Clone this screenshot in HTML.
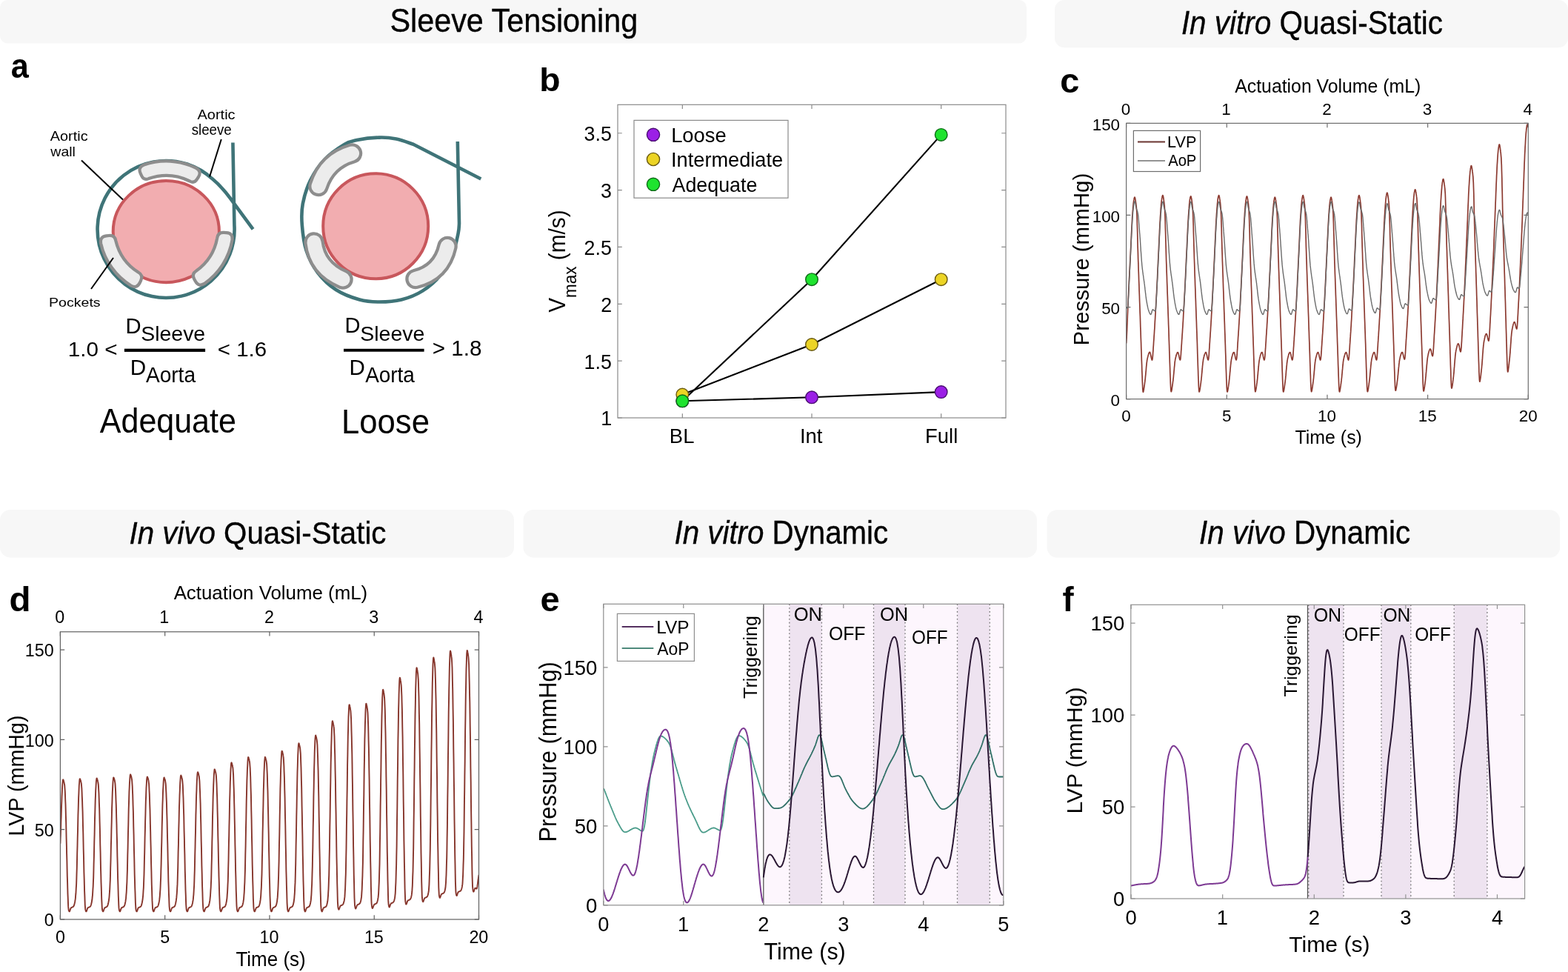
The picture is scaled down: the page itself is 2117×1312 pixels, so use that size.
<!DOCTYPE html>
<html><head><meta charset="utf-8"><title>Figure</title>
<style>
html,body{margin:0;padding:0;background:#fff;width:2117px;height:1312px;overflow:hidden}
svg{display:block}
text{font-family:'Liberation Sans', Arial, Helvetica, sans-serif}
</style></head><body>
<svg width="2117" height="1312" viewBox="0 0 2117 1312">
<rect width="2117" height="1312" fill="#fff"/>
<rect x="0" y="0" width="1386" height="58.5" rx="10" fill="#f7f7f7"/>
<rect x="1424" y="0" width="693" height="64.3" rx="13" fill="#f7f7f7"/>
<rect x="0" y="688" width="694" height="64.7" rx="14" fill="#f7f7f7"/>
<rect x="706.5" y="688" width="693.5" height="64.7" rx="14" fill="#f7f7f7"/>
<rect x="1413.5" y="688.2" width="692.7" height="64.6" rx="14" fill="#f7f7f7"/>
<text x="526.44" y="42.50" font-size="43.90" textLength="334.80" lengthAdjust="spacingAndGlyphs" stroke="#000" stroke-width="0.35">Sleeve Tensioning</text>
<text x="1594.88" y="45.80" font-size="43.46" textLength="353.05" lengthAdjust="spacingAndGlyphs" stroke="#000" stroke-width="0.35"><tspan font-style="italic">In vitro</tspan><tspan> Quasi-Static</tspan></text>
<text x="174.49" y="733.90" font-size="43.17" textLength="347.00" lengthAdjust="spacingAndGlyphs" stroke="#000" stroke-width="0.35"><tspan font-style="italic">In vivo</tspan><tspan> Quasi-Static</tspan></text>
<text x="910.59" y="734.20" font-size="43.46" textLength="288.56" lengthAdjust="spacingAndGlyphs" stroke="#000" stroke-width="0.35"><tspan font-style="italic">In vitro</tspan><tspan> Dynamic</tspan></text>
<text x="1618.98" y="734.20" font-size="43.46" textLength="285.14" lengthAdjust="spacingAndGlyphs" stroke="#000" stroke-width="0.35"><tspan font-style="italic">In vivo</tspan><tspan> Dynamic</tspan></text>
<text transform="translate(14.65,105.3) scale(0.93,1)" x="0" y="0" font-size="46.5" font-weight="bold">a</text>
<text transform="translate(728.2,122.85) scale(1.03,1)" x="0" y="0" font-size="45" font-weight="bold">b</text>
<text transform="translate(1431.2,125.3) scale(1.0,1)" x="0" y="0" font-size="46.9" font-weight="bold">c</text>
<text transform="translate(12.4,825.1) scale(1.04,1)" x="0" y="0" font-size="45.7" font-weight="bold">d</text>
<text transform="translate(729.5,825.3) scale(1.0,1)" x="0" y="0" font-size="47" font-weight="bold">e</text>
<text transform="translate(1434.5,824.8) scale(1.0,1)" x="0" y="0" font-size="45.5" font-weight="bold">f</text>
<path d="M314.4,192.5 L316.4,303.8 A92.5,92.5 0 1 1 286.3,241.1 Q299,251.6 310.3,266.9 L341.6,309.3" fill="none" stroke="#3f7478" stroke-width="4.6" stroke-linejoin="round"/>
<ellipse cx="224.3" cy="312.6" rx="71.6" ry="68.6" fill="#f2adb0" stroke="#c8575c" stroke-width="4"/>
<path d="M194.3,222.6 A91,91 0 0 1 264.8,226.9 Q272.6,231.3 267.9,239.0 L266.0,241.9 Q262.3,247.9 256.2,244.5 A71.5,71.5 0 0 0 200.7,241.1 Q194.2,243.7 191.2,237.4 L189.7,234.2 Q185.9,226.0 194.3,222.6 Z" fill="#ececec" stroke="#8d8d8d" stroke-width="4.2" stroke-linejoin="round"/>
<path d="M176.8,385.5 A90.5,90.5 0 0 1 136.1,328.4 Q134.6,319.5 143.5,318.4 L147.0,318.0 Q154.9,317.0 156.3,324.9 A70.0,70.0 0 0 0 186.7,367.5 Q193.7,371.4 190.2,378.6 L188.7,381.8 Q184.7,389.8 176.8,385.5 Z" fill="#ececec" stroke="#8d8d8d" stroke-width="4.2" stroke-linejoin="round"/>
<path d="M313.6,323.7 A90.5,90.5 0 0 1 275.9,382.9 Q268.3,387.7 263.9,379.8 L262.2,376.7 Q258.3,369.7 265.1,365.5 A70.0,70.0 0 0 0 293.2,321.3 Q294.2,313.4 302.2,313.9 L305.7,314.2 Q314.7,314.8 313.6,323.7 Z" fill="#ececec" stroke="#8d8d8d" stroke-width="4.2" stroke-linejoin="round"/>
<circle cx="507.2" cy="305.3" r="71" fill="#f2adb0" stroke="#c8575c" stroke-width="4"/>
<path d="M649.3,241.5 L558.0,194.8 C554.2,193.6 542.7,189.0 535.0,187.5 C527.3,186.0 520.8,185.3 512.0,185.6 C503.2,185.8 489.8,187.4 482.0,189.0 C474.2,190.6 472.3,190.6 465.0,195.0 C457.7,199.4 445.7,207.4 438.0,215.5 C430.3,223.6 423.9,233.6 419.0,243.5 C414.1,253.4 410.7,265.0 408.8,275.0 C406.9,285.0 407.0,293.0 407.8,303.5 C408.6,314.0 410.0,327.2 413.5,338.0 C417.0,348.8 422.3,359.2 429.0,368.0 C435.7,376.8 444.1,384.9 453.5,391.0 C462.9,397.1 475.8,401.8 485.5,404.5 C495.2,407.2 502.6,407.5 512.0,407.5 C521.4,407.5 532.2,407.0 542.0,404.5 C551.8,402.0 561.8,398.1 570.5,392.6 C579.2,387.1 587.7,380.1 594.5,371.5 C601.3,362.9 607.5,350.4 611.5,341.0 C615.5,331.6 617.2,321.6 618.6,315.0 C620.0,308.4 619.8,303.8 620.0,301.5 L617.8,191" fill="none" stroke="#3f7478" stroke-width="4.6" stroke-linejoin="round"/>
<path d="M430,251.5 Q441,217 475.5,207" fill="none" stroke="#8d8d8d" stroke-width="27.5" stroke-linecap="round"/><path d="M430,251.5 Q441,217 475.5,207" fill="none" stroke="#ececec" stroke-width="19.1" stroke-linecap="round"/>
<path d="M424,327 Q428,362 463,377" fill="none" stroke="#8d8d8d" stroke-width="27.5" stroke-linecap="round"/><path d="M424,327 Q428,362 463,377" fill="none" stroke="#ececec" stroke-width="19.1" stroke-linecap="round"/>
<path d="M561,376.5 Q596,368 604,332.5" fill="none" stroke="#8d8d8d" stroke-width="27.5" stroke-linecap="round"/><path d="M561,376.5 Q596,368 604,332.5" fill="none" stroke="#ececec" stroke-width="19.1" stroke-linecap="round"/>
<line x1="110" y1="216.6" x2="166" y2="269.6" stroke="#000" stroke-width="2"/>
<line x1="298.8" y1="188" x2="283" y2="238.5" stroke="#000" stroke-width="2"/>
<line x1="123" y1="390" x2="153" y2="348" stroke="#000" stroke-width="2"/>
<text x="266.55" y="160.80" font-size="18.17" textLength="51.02" lengthAdjust="spacingAndGlyphs">Aortic</text>
<text x="258.69" y="182.10" font-size="19.34" textLength="54.02" lengthAdjust="spacingAndGlyphs">sleeve</text>
<text x="67.85" y="190.00" font-size="18.90" textLength="50.72" lengthAdjust="spacingAndGlyphs">Aortic</text>
<text x="68.35" y="210.80" font-size="18.51" textLength="33.57" lengthAdjust="spacingAndGlyphs">wall</text>
<text x="66.09" y="414.20" font-size="17.30" textLength="69.59" lengthAdjust="spacingAndGlyphs">Pockets</text>
<text x="91.78" y="481.20" font-size="28.08" textLength="66.79" lengthAdjust="spacingAndGlyphs">1.0 &lt;</text>
<rect x="167.9" y="470.7" width="109.2" height="4.2" fill="#000"/>
<text x="169.49" y="449.80" font-size="28.78" textLength="21.09" lengthAdjust="spacingAndGlyphs">D</text>
<text x="190.22" y="460.10" font-size="28.45">Sleeve</text>
<text x="293.83" y="481.20" font-size="27.79" textLength="66.28" lengthAdjust="spacingAndGlyphs">&lt; 1.6</text>
<text x="175.85" y="506.20" font-size="29.36" textLength="21.45" lengthAdjust="spacingAndGlyphs">D</text>
<text x="196.93" y="516.10" font-size="29.36" textLength="67.11" lengthAdjust="spacingAndGlyphs">Aorta</text>
<text x="134.79" y="584.00" font-size="45.64" textLength="184.12" lengthAdjust="spacingAndGlyphs">Adequate</text>
<rect x="464" y="470.8" width="108.6" height="3.9" fill="#000"/>
<text x="465.41" y="449.40" font-size="29.22" textLength="20.96" lengthAdjust="spacingAndGlyphs">D</text>
<text x="486.32" y="460.10" font-size="28.31" textLength="87.00" lengthAdjust="spacingAndGlyphs">Sleeve</text>
<text x="583.72" y="479.60" font-size="28.80" textLength="66.70" lengthAdjust="spacingAndGlyphs">&gt; 1.8</text>
<text x="471.46" y="505.80" font-size="29.51">D</text>
<text x="493.23" y="516.20" font-size="29.51" textLength="66.61" lengthAdjust="spacingAndGlyphs">Aorta</text>
<text x="461.00" y="584.60" font-size="45.78" textLength="118.95" lengthAdjust="spacingAndGlyphs">Loose</text>
<polyline points="921.3,541.3 1096.0,536.3 1270.7,529.1" fill="none" stroke="#000" stroke-width="2.1"/>
<polyline points="921.3,532.5 1096.0,465.0 1270.7,377.2" fill="none" stroke="#000" stroke-width="2.1"/>
<polyline points="921.3,541.3 1096.0,377.2 1270.7,181.9" fill="none" stroke="#000" stroke-width="2.1"/>
<circle cx="921.3" cy="541.3" r="8.3" fill="#9b1fe6" stroke="#4a0f70" stroke-width="1.4"/>
<circle cx="1096.0" cy="536.3" r="8.3" fill="#9b1fe6" stroke="#4a0f70" stroke-width="1.4"/>
<circle cx="1270.7" cy="529.1" r="8.3" fill="#9b1fe6" stroke="#4a0f70" stroke-width="1.4"/>
<circle cx="921.3" cy="532.5" r="8.3" fill="#ecd425" stroke="#6a5a10" stroke-width="1.4"/>
<circle cx="1096.0" cy="465.0" r="8.3" fill="#ecd425" stroke="#6a5a10" stroke-width="1.4"/>
<circle cx="1270.7" cy="377.2" r="8.3" fill="#ecd425" stroke="#6a5a10" stroke-width="1.4"/>
<circle cx="921.3" cy="541.3" r="8.3" fill="#1fe32f" stroke="#0f6a18" stroke-width="1.4"/>
<circle cx="1096.0" cy="377.2" r="8.3" fill="#1fe32f" stroke="#0f6a18" stroke-width="1.4"/>
<circle cx="1270.7" cy="181.9" r="8.3" fill="#1fe32f" stroke="#0f6a18" stroke-width="1.4"/>
<path d="M921.33,564.00V558.20 M921.33,141.30V147.10 M1096.00,564.00V558.20 M1096.00,141.30V147.10 M1270.67,564.00V558.20 M1270.67,141.30V147.10 M834.00,564.00H839.80 M1358.00,564.00H1352.20 M834.00,487.15H839.80 M1358.00,487.15H1352.20 M834.00,410.29H839.80 M1358.00,410.29H1352.20 M834.00,333.44H839.80 M1358.00,333.44H1352.20 M834.00,256.58H839.80 M1358.00,256.58H1352.20 M834.00,179.73H839.80 M1358.00,179.73H1352.20" stroke="#8a8a8a" stroke-width="1.2" fill="none"/>
<rect x="834.00" y="141.30" width="524.00" height="422.70" fill="none" stroke="#8a8a8a" stroke-width="1.2"/>
<text x="811.20" y="574.42" font-size="26.80">1</text>
<text x="788.62" y="497.56" font-size="26.80">1.5</text>
<text x="811.27" y="420.71" font-size="26.80">2</text>
<text x="788.62" y="343.86" font-size="26.80">2.5</text>
<text x="811.06" y="267.00" font-size="26.80">3</text>
<text x="788.62" y="190.15" font-size="26.80">3.5</text>
<text x="903.87" y="597.66" font-size="27.40">BL</text>
<text x="1079.89" y="597.66" font-size="27.40">Int</text>
<text x="1249.10" y="597.66" font-size="27.40">Full</text>
<rect x="856" y="162.4" width="208" height="104.8" fill="#fff" stroke="#8a8a8a" stroke-width="1.2"/>
<circle cx="882" cy="181.8" r="8.6" fill="#9b1fe6" stroke="#4a0f70" stroke-width="1.4"/>
<text x="906.14" y="191.70" font-size="28.05" textLength="74.58" lengthAdjust="spacingAndGlyphs">Loose</text>
<circle cx="882" cy="215.0" r="8.6" fill="#ecd425" stroke="#6a5a10" stroke-width="1.4"/>
<text x="906.09" y="225.00" font-size="27.47" textLength="151.00" lengthAdjust="spacingAndGlyphs">Intermediate</text>
<circle cx="882" cy="248.8" r="8.6" fill="#1fe32f" stroke="#0f6a18" stroke-width="1.4"/>
<text x="907.53" y="258.70" font-size="28.05" textLength="114.86" lengthAdjust="spacingAndGlyphs">Adequate</text>
<text transform="translate(763.1,421.8) rotate(-90)" x="0" y="0" font-size="30.8" textLength="138.4" lengthAdjust="spacingAndGlyphs">V<tspan font-size="23.3" dy="15.1">max</tspan><tspan dy="-15.1"> (m/s)</tspan></text>
<clipPath id="clc"><rect x="1520.6" y="165.4" width="542.7" height="374.2"/></clipPath>
<path d="M1520.6,463.4L1520.8,460.5 1521.1,456.3 1521.3,451.2 1521.6,445.6 1521.8,439.5 1522.1,433.2 1522.3,426.8 1522.6,420.4 1522.8,414.2 1523.1,408.3 1523.3,402.8 1523.6,397.4 1523.8,392.2 1524.1,387.1 1524.3,382.1 1524.5,377.1 1524.8,372.2 1525.0,367.3 1525.3,362.4 1525.5,357.5 1525.8,352.6 1526.0,347.7 1526.3,342.7 1526.5,337.7 1526.8,332.5 1527.0,327.2 1527.3,321.8 1527.5,316.5 1527.8,311.2 1528.0,306.2 1528.3,301.6 1528.5,297.3 1528.7,293.3 1529.0,289.6 1529.2,286.1 1529.5,282.9 1529.7,279.8 1530.0,277.1 1530.2,274.7 1530.5,272.6 1530.7,270.9 1531.0,269.4 1531.2,268.1 1531.5,267.1 1531.7,266.4 1532.0,266.1 1532.2,266.4 1532.4,267.1 1532.7,268.2 1532.9,269.6 1533.2,271.2 1533.4,272.8 1533.7,274.5 1533.9,276.4 1534.2,278.6 1534.4,281.3 1534.7,284.8 1534.9,289.8 1535.2,296.5 1535.4,304.6 1535.7,313.8 1535.9,323.2 1536.1,332.4 1536.4,340.9 1536.6,348.9 1536.9,356.5 1537.1,363.8 1537.4,371.1 1537.6,378.2 1537.9,385.3 1538.1,392.4 1538.4,399.5 1538.6,406.6 1538.9,413.7 1539.1,420.7 1539.4,427.8 1539.6,434.8 1539.8,441.8 1540.1,448.8 1540.3,455.9 1540.6,463.1 1540.8,470.4 1541.1,477.8 1541.3,485.4 1541.6,492.9 1541.8,500.2 1542.1,507.3 1542.3,514.2 1542.6,520.4 1542.8,525.2 1543.1,528.1 1543.3,529.2 1543.6,529.1 1543.8,528.3 1544.0,527.1 1544.3,525.8 1544.5,524.2 1544.8,522.5 1545.0,520.7 1545.3,518.9 1545.5,517.1 1545.8,515.2 1546.0,513.1 1546.3,510.8 1546.5,508.3 1546.8,505.7 1547.0,502.9 1547.3,500.1 1547.5,497.3 1547.7,494.6 1548.0,492.1 1548.2,489.8 1548.5,487.8 1548.7,486.1 1549.0,484.7 1549.2,483.5 1549.5,482.4 1549.7,481.4 1550.0,480.4 1550.2,479.5 1550.5,478.7 1550.7,477.9 1551.0,477.2 1551.2,476.6 1551.4,476.1 1551.7,475.7 1551.9,475.4 1552.2,475.3 1552.4,475.3 1552.7,475.7 1552.9,476.3 1553.2,477.1 1553.4,478.2 1553.7,479.3 1553.9,480.6 1554.2,481.8 1554.4,483.0 1554.7,484.1 1554.9,485.0 1555.2,485.7 1555.4,486.0 1555.6,485.7 1555.9,484.7 1556.1,482.8 1556.4,480.2 1556.6,476.9 1556.9,473.3 1557.1,469.4 1557.4,465.4 1557.6,461.6 1557.9,457.9 1558.1,454.2 1558.4,450.4 1558.6,446.6 1558.9,442.7 1559.1,438.7 1559.3,434.6 1559.6,430.4 1559.8,426.1 1560.1,421.8 1560.3,417.4 1560.6,412.9 1560.8,408.5 1561.1,403.9 1561.3,399.3 1561.6,394.5 1561.8,389.7 1562.1,384.8 1562.3,379.7 1562.6,374.7 1562.8,369.5 1563.0,364.3 1563.3,359.1 1563.5,354.0 1563.8,348.8 1564.0,343.6 1564.3,338.4 1564.5,333.2 1564.8,327.9 1565.0,322.4 1565.3,317.0 1565.5,311.7 1565.8,306.5 1566.0,301.6 1566.3,297.1 1566.5,292.9 1566.8,289.1 1567.0,285.5 1567.2,282.1 1567.5,278.9 1567.7,275.9 1568.0,273.3 1568.2,271.1 1568.5,269.2 1568.7,267.6 1569.0,266.2 1569.2,265.1 1569.5,264.2 1569.7,263.7 1570.0,263.7 1570.2,264.2 1570.5,265.2 1570.7,266.5 1570.9,268.0 1571.2,269.6 1571.4,271.3 1571.7,273.1 1571.9,275.1 1572.2,277.6 1572.4,280.7 1572.7,285.0 1572.9,290.9 1573.2,298.5 1573.4,307.4 1573.7,316.8 1573.9,326.3 1574.2,335.2 1574.4,343.4 1574.6,351.2 1574.9,358.7 1575.1,366.1 1575.4,373.3 1575.6,380.5 1575.9,387.6 1576.1,394.7 1576.4,401.9 1576.6,409.0 1576.9,416.2 1577.1,423.3 1577.4,430.3 1577.6,437.4 1577.9,444.5 1578.1,451.6 1578.3,458.8 1578.6,466.1 1578.8,473.5 1579.1,481.1 1579.3,488.7 1579.6,496.2 1579.8,503.4 1580.1,510.5 1580.3,517.1 1580.6,522.7 1580.8,526.5 1581.1,528.4 1581.3,528.7 1581.6,528.2 1581.8,527.2 1582.1,526.0 1582.3,524.5 1582.5,522.9 1582.8,521.1 1583.0,519.4 1583.3,517.6 1583.5,515.7 1583.8,513.8 1584.0,511.6 1584.3,509.3 1584.5,506.7 1584.8,504.0 1585.0,501.3 1585.3,498.5 1585.5,495.8 1585.8,493.3 1586.0,490.9 1586.2,488.7 1586.5,486.9 1586.7,485.4 1587.0,484.1 1587.2,483.0 1587.5,482.0 1587.7,481.0 1588.0,480.1 1588.2,479.2 1588.5,478.4 1588.7,477.7 1589.0,477.1 1589.2,476.5 1589.5,476.1 1589.7,475.7 1589.9,475.5 1590.2,475.5 1590.4,475.7 1590.7,476.2 1590.9,476.9 1591.2,477.9 1591.4,479.0 1591.7,480.1 1591.9,481.4 1592.2,482.6 1592.4,483.7 1592.7,484.7 1592.9,485.4 1593.2,485.9 1593.4,485.9 1593.7,485.2 1593.9,483.8 1594.1,481.5 1594.4,478.5 1594.6,475.0 1594.9,471.2 1595.1,467.3 1595.4,463.5 1595.6,459.7 1595.9,456.0 1596.1,452.3 1596.4,448.6 1596.6,444.7 1596.9,440.8 1597.1,436.7 1597.4,432.6 1597.6,428.4 1597.8,424.1 1598.1,419.8 1598.3,415.4 1598.6,410.9 1598.8,406.4 1599.1,401.9 1599.3,397.2 1599.6,392.5 1599.8,387.6 1600.1,382.6 1600.3,377.6 1600.6,372.5 1600.8,367.4 1601.1,362.2 1601.3,357.1 1601.5,351.9 1601.8,346.7 1602.0,341.6 1602.3,336.4 1602.5,331.2 1602.8,325.8 1603.0,320.4 1603.3,315.0 1603.5,309.8 1603.8,304.8 1604.0,300.1 1604.3,295.8 1604.5,291.9 1604.8,288.2 1605.0,284.7 1605.3,281.4 1605.5,278.4 1605.7,275.7 1606.0,273.3 1606.2,271.2 1606.5,269.5 1606.7,268.1 1607.0,266.8 1607.2,265.8 1607.5,265.1 1607.7,264.9 1608.0,265.2 1608.2,265.9 1608.5,267.1 1608.7,268.5 1609.0,270.1 1609.2,271.7 1609.4,273.5 1609.7,275.3 1609.9,277.6 1610.2,280.3 1610.4,284.0 1610.7,289.2 1610.9,296.0 1611.2,304.3 1611.4,313.5 1611.7,323.0 1611.9,332.2 1612.2,340.7 1612.4,348.6 1612.7,356.2 1612.9,363.6 1613.1,370.8 1613.4,378.0 1613.6,385.1 1613.9,392.2 1614.1,399.4 1614.4,406.5 1614.6,413.6 1614.9,420.7 1615.1,427.7 1615.4,434.8 1615.6,441.8 1615.9,448.9 1616.1,456.0 1616.4,463.2 1616.6,470.5 1616.8,478.0 1617.1,485.6 1617.3,493.1 1617.6,500.5 1617.8,507.6 1618.1,514.4 1618.3,520.6 1618.6,525.3 1618.8,528.0 1619.1,529.0 1619.3,528.8 1619.6,528.0 1619.8,526.8 1620.1,525.4 1620.3,523.9 1620.6,522.2 1620.8,520.4 1621.0,518.6 1621.3,516.8 1621.5,514.9 1621.8,512.8 1622.0,510.5 1622.3,508.1 1622.5,505.4 1622.8,502.7 1623.0,499.9 1623.3,497.2 1623.5,494.5 1623.8,492.0 1624.0,489.7 1624.3,487.8 1624.5,486.1 1624.7,484.7 1625.0,483.5 1625.2,482.5 1625.5,481.5 1625.7,480.5 1626.0,479.6 1626.2,478.8 1626.5,478.0 1626.7,477.4 1627.0,476.8 1627.2,476.3 1627.5,475.9 1627.7,475.6 1628.0,475.5 1628.2,475.6 1628.4,476.0 1628.7,476.6 1628.9,477.4 1629.2,478.4 1629.4,479.6 1629.7,480.8 1629.9,482.0 1630.2,483.2 1630.4,484.3 1630.7,485.1 1630.9,485.7 1631.2,486.0 1631.4,485.6 1631.7,484.5 1631.9,482.6 1632.2,479.9 1632.4,476.6 1632.6,472.9 1632.9,469.0 1633.1,465.1 1633.4,461.3 1633.6,457.5 1633.9,453.9 1634.1,450.1 1634.4,446.3 1634.6,442.4 1634.9,438.3 1635.1,434.2 1635.4,430.0 1635.6,425.7 1635.9,421.4 1636.1,417.0 1636.3,412.6 1636.6,408.1 1636.8,403.5 1637.1,398.9 1637.3,394.1 1637.6,389.3 1637.8,384.3 1638.1,379.3 1638.3,374.2 1638.6,369.1 1638.8,363.9 1639.1,358.7 1639.3,353.5 1639.6,348.3 1639.8,343.2 1640.0,338.0 1640.3,332.7 1640.5,327.4 1640.8,322.0 1641.0,316.5 1641.3,311.2 1641.5,306.0 1641.8,301.2 1642.0,296.7 1642.3,292.6 1642.5,288.8 1642.8,285.2 1643.0,281.8 1643.3,278.6 1643.5,275.7 1643.8,273.1 1644.0,270.9 1644.2,269.1 1644.5,267.5 1644.7,266.1 1645.0,265.0 1645.2,264.1 1645.5,263.7 1645.7,263.7 1646.0,264.3 1646.2,265.3 1646.5,266.6 1646.7,268.2 1647.0,269.8 1647.2,271.4 1647.5,273.3 1647.7,275.3 1647.9,277.8 1648.2,281.0 1648.4,285.5 1648.7,291.5 1648.9,299.3 1649.2,308.2 1649.4,317.7 1649.7,327.1 1649.9,336.0 1650.2,344.2 1650.4,352.0 1650.7,359.5 1650.9,366.8 1651.2,374.0 1651.4,381.2 1651.6,388.3 1651.9,395.5 1652.1,402.6 1652.4,409.8 1652.6,416.9 1652.9,424.0 1653.1,431.1 1653.4,438.2 1653.6,445.3 1653.9,452.4 1654.1,459.6 1654.4,466.9 1654.6,474.3 1654.9,481.9 1655.1,489.5 1655.3,497.0 1655.6,504.3 1655.8,511.3 1656.1,517.8 1656.3,523.3 1656.6,527.0 1656.8,528.7 1657.1,529.0 1657.3,528.4 1657.6,527.4 1657.8,526.1 1658.1,524.6 1658.3,522.9 1658.6,521.2 1658.8,519.4 1659.1,517.6 1659.3,515.8 1659.5,513.8 1659.8,511.6 1660.0,509.2 1660.3,506.6 1660.5,503.9 1660.8,501.2 1661.0,498.4 1661.3,495.7 1661.5,493.1 1661.8,490.7 1662.0,488.6 1662.3,486.8 1662.5,485.3 1662.8,484.1 1663.0,483.0 1663.2,481.9 1663.5,481.0 1663.7,480.0 1664.0,479.2 1664.2,478.4 1664.5,477.7 1664.7,477.0 1665.0,476.5 1665.2,476.0 1665.5,475.7 1665.7,475.5 1666.0,475.5 1666.2,475.8 1666.5,476.3 1666.7,477.0 1666.9,477.9 1667.2,479.1 1667.4,480.2 1667.7,481.5 1667.9,482.7 1668.2,483.8 1668.4,484.8 1668.7,485.5 1668.9,485.9 1669.2,485.9 1669.4,485.1 1669.7,483.6 1669.9,481.2 1670.2,478.2 1670.4,474.7 1670.7,470.9 1670.9,467.0 1671.1,463.1 1671.4,459.4 1671.6,455.7 1671.9,452.0 1672.1,448.3 1672.4,444.4 1672.6,440.4 1672.9,436.4 1673.1,432.2 1673.4,428.0 1673.6,423.7 1673.9,419.4 1674.1,415.0 1674.4,410.6 1674.6,406.1 1674.8,401.5 1675.1,396.8 1675.3,392.0 1675.6,387.2 1675.8,382.2 1676.1,377.2 1676.3,372.1 1676.6,366.9 1676.8,361.8 1677.1,356.6 1677.3,351.5 1677.6,346.3 1677.8,341.2 1678.1,336.0 1678.3,330.7 1678.5,325.4 1678.8,320.0 1679.0,314.6 1679.3,309.4 1679.5,304.4 1679.8,299.7 1680.0,295.5 1680.3,291.6 1680.5,287.9 1680.8,284.4 1681.0,281.2 1681.3,278.2 1681.5,275.4 1681.8,273.1 1682.0,271.1 1682.3,269.4 1682.5,267.9 1682.7,266.7 1683.0,265.7 1683.2,265.1 1683.5,264.9 1683.7,265.2 1684.0,266.0 1684.2,267.2 1684.5,268.7 1684.7,270.2 1685.0,271.9 1685.2,273.6 1685.5,275.5 1685.7,277.8 1686.0,280.6 1686.2,284.4 1686.4,289.7 1686.7,296.6 1686.9,305.0 1687.2,314.3 1687.4,323.8 1687.7,332.9 1687.9,341.3 1688.2,349.2 1688.4,356.8 1688.7,364.1 1688.9,371.4 1689.2,378.5 1689.4,385.6 1689.7,392.7 1689.9,399.8 1690.1,406.9 1690.4,414.1 1690.6,421.1 1690.9,428.2 1691.1,435.2 1691.4,442.3 1691.6,449.3 1691.9,456.5 1692.1,463.7 1692.4,471.0 1692.6,478.5 1692.9,486.1 1693.1,493.6 1693.4,500.9 1693.6,508.0 1693.8,514.8 1694.1,520.8 1694.3,525.3 1694.6,527.9 1694.8,528.7 1695.1,528.5 1695.3,527.6 1695.6,526.5 1695.8,525.1 1696.1,523.5 1696.3,521.8 1696.6,520.0 1696.8,518.2 1697.1,516.4 1697.3,514.5 1697.6,512.5 1697.8,510.2 1698.0,507.7 1698.3,505.1 1698.5,502.3 1698.8,499.6 1699.0,496.8 1699.3,494.2 1699.5,491.7 1699.8,489.5 1700.0,487.5 1700.3,485.9 1700.5,484.6 1700.8,483.4 1701.0,482.4 1701.3,481.4 1701.5,480.4 1701.7,479.5 1702.0,478.7 1702.2,478.0 1702.5,477.3 1702.7,476.7 1703.0,476.2 1703.2,475.8 1703.5,475.6 1703.7,475.5 1704.0,475.6 1704.2,476.0 1704.5,476.6 1704.7,477.5 1705.0,478.5 1705.2,479.7 1705.4,480.9 1705.7,482.1 1705.9,483.3 1706.2,484.3 1706.4,485.2 1706.7,485.8 1706.9,486.0 1707.2,485.6 1707.4,484.4 1707.7,482.4 1707.9,479.7 1708.2,476.4 1708.4,472.8 1708.7,468.9 1708.9,465.0 1709.2,461.2 1709.4,457.6 1709.6,453.9 1709.9,450.2 1710.1,446.4 1710.4,442.5 1710.6,438.5 1710.9,434.4 1711.1,430.3 1711.4,426.0 1711.6,421.8 1711.9,417.4 1712.1,413.0 1712.4,408.6 1712.6,404.0 1712.9,399.5 1713.1,394.8 1713.3,390.0 1713.6,385.1 1713.8,380.1 1714.1,375.0 1714.3,369.9 1714.6,364.8 1714.8,359.7 1715.1,354.5 1715.3,349.4 1715.6,344.3 1715.8,339.2 1716.1,334.0 1716.3,328.7 1716.6,323.4 1716.8,318.0 1717.0,312.7 1717.3,307.6 1717.5,302.9 1717.8,298.4 1718.0,294.4 1718.3,290.7 1718.5,287.1 1718.8,283.8 1719.0,280.7 1719.3,277.8 1719.5,275.3 1719.8,273.2 1720.0,271.3 1720.3,269.8 1720.5,268.5 1720.7,267.4 1721.0,266.6 1721.2,266.2 1721.5,266.3 1721.7,266.8 1722.0,267.9 1722.2,269.2 1722.5,270.7 1722.7,272.3 1723.0,274.0 1723.2,275.8 1723.5,277.9 1723.7,280.4 1724.0,283.7 1724.2,288.2 1724.5,294.4 1724.7,302.1 1724.9,311.1 1725.2,320.5 1725.4,329.8 1725.7,338.5 1725.9,346.6 1726.2,354.3 1726.4,361.7 1726.7,368.9 1726.9,376.1 1727.2,383.2 1727.4,390.3 1727.7,397.3 1727.9,404.4 1728.2,411.5 1728.4,418.6 1728.6,425.6 1728.9,432.6 1729.1,439.6 1729.4,446.7 1729.6,453.7 1729.9,460.9 1730.1,468.1 1730.4,475.5 1730.6,483.0 1730.9,490.5 1731.1,497.9 1731.4,505.1 1731.6,512.0 1731.9,518.5 1732.1,523.8 1732.3,527.2 1732.6,528.8 1732.8,528.9 1733.1,528.3 1733.3,527.3 1733.6,526.0 1733.8,524.5 1734.1,522.8 1734.3,521.1 1734.6,519.3 1734.8,517.5 1735.1,515.6 1735.3,513.6 1735.6,511.4 1735.8,509.0 1736.1,506.4 1736.3,503.7 1736.5,500.9 1736.8,498.2 1737.0,495.5 1737.3,492.9 1737.5,490.5 1737.8,488.5 1738.0,486.7 1738.3,485.2 1738.5,484.0 1738.8,482.9 1739.0,481.9 1739.3,480.9 1739.5,480.0 1739.8,479.1 1740.0,478.3 1740.2,477.6 1740.5,477.0 1740.7,476.4 1741.0,476.0 1741.2,475.7 1741.5,475.5 1741.7,475.5 1742.0,475.8 1742.2,476.3 1742.5,477.1 1742.7,478.0 1743.0,479.2 1743.2,480.4 1743.5,481.6 1743.7,482.8 1743.9,483.9 1744.2,484.8 1744.4,485.5 1744.7,485.9 1744.9,485.8 1745.2,485.0 1745.4,483.4 1745.7,481.0 1745.9,477.9 1746.2,474.3 1746.4,470.5 1746.7,466.6 1746.9,462.7 1747.2,458.9 1747.4,455.2 1747.7,451.5 1747.9,447.7 1748.1,443.8 1748.4,439.8 1748.6,435.7 1748.9,431.6 1749.1,427.3 1749.4,423.0 1749.6,418.6 1749.9,414.2 1750.1,409.7 1750.4,405.2 1750.6,400.6 1750.9,395.9 1751.1,391.1 1751.4,386.2 1751.6,381.2 1751.8,376.1 1752.1,371.0 1752.3,365.8 1752.6,360.6 1752.8,355.4 1753.1,350.3 1753.3,345.1 1753.6,339.9 1753.8,334.7 1754.1,329.4 1754.3,324.0 1754.6,318.6 1754.8,313.2 1755.1,307.9 1755.3,303.0 1755.5,298.3 1755.8,294.1 1756.0,290.2 1756.3,286.5 1756.5,283.0 1756.8,279.8 1757.0,276.7 1757.3,274.0 1757.5,271.7 1757.8,269.7 1758.0,268.1 1758.3,266.6 1758.5,265.4 1758.8,264.4 1759.0,263.8 1759.2,263.7 1759.5,264.0 1759.7,264.9 1760.0,266.1 1760.2,267.6 1760.5,269.2 1760.7,270.8 1761.0,272.6 1761.2,274.5 1761.5,276.8 1761.7,279.7 1762.0,283.6 1762.2,289.1 1762.5,296.2 1762.7,304.7 1763.0,314.1 1763.2,323.6 1763.4,332.7 1763.7,341.1 1763.9,349.0 1764.2,356.6 1764.4,364.0 1764.7,371.2 1764.9,378.4 1765.2,385.6 1765.4,392.7 1765.7,399.8 1765.9,407.0 1766.2,414.1 1766.4,421.2 1766.7,428.3 1766.9,435.4 1767.1,442.5 1767.4,449.6 1767.6,456.7 1767.9,464.0 1768.1,471.3 1768.4,478.9 1768.6,486.5 1768.9,494.0 1769.1,501.4 1769.4,508.5 1769.6,515.2 1769.9,521.2 1770.1,525.6 1770.4,528.0 1770.6,528.7 1770.8,528.4 1771.1,527.6 1771.3,526.4 1771.6,524.9 1771.8,523.4 1772.1,521.7 1772.3,519.9 1772.6,518.1 1772.8,516.3 1773.1,514.4 1773.3,512.3 1773.6,510.0 1773.8,507.5 1774.1,504.8 1774.3,502.1 1774.6,499.3 1774.8,496.6 1775.0,494.0 1775.3,491.5 1775.5,489.3 1775.8,487.4 1776.0,485.8 1776.3,484.5 1776.5,483.3 1776.8,482.3 1777.0,481.3 1777.3,480.4 1777.5,479.5 1777.8,478.7 1778.0,477.9 1778.3,477.2 1778.5,476.7 1778.7,476.2 1779.0,475.8 1779.2,475.6 1779.5,475.5 1779.7,475.7 1780.0,476.0 1780.2,476.7 1780.5,477.6 1780.7,478.6 1781.0,479.8 1781.2,481.0 1781.5,482.2 1781.7,483.4 1782.0,484.4 1782.2,485.2 1782.4,485.8 1782.7,486.0 1782.9,485.5 1783.2,484.3 1783.4,482.2 1783.7,479.5 1783.9,476.1 1784.2,472.4 1784.4,468.6 1784.7,464.7 1784.9,460.9 1785.2,457.2 1785.4,453.6 1785.7,449.9 1785.9,446.1 1786.2,442.2 1786.4,438.2 1786.6,434.1 1786.9,429.9 1787.1,425.7 1787.4,421.4 1787.6,417.0 1787.9,412.6 1788.1,408.2 1788.4,403.7 1788.6,399.1 1788.9,394.3 1789.1,389.5 1789.4,384.6 1789.6,379.6 1789.9,374.6 1790.1,369.5 1790.3,364.4 1790.6,359.2 1790.8,354.1 1791.1,349.0 1791.3,343.9 1791.6,338.8 1791.8,333.6 1792.1,328.3 1792.3,322.9 1792.6,317.5 1792.8,312.3 1793.1,307.2 1793.3,302.5 1793.6,298.1 1793.8,294.1 1794.0,290.3 1794.3,286.8 1794.5,283.5 1794.8,280.4 1795.0,277.6 1795.3,275.1 1795.5,273.0 1795.8,271.2 1796.0,269.7 1796.3,268.4 1796.5,267.3 1796.8,266.5 1797.0,266.2 1797.3,266.3 1797.5,266.9 1797.7,268.0 1798.0,269.3 1798.2,270.9 1798.5,272.5 1798.7,274.1 1799.0,276.0 1799.2,278.1 1799.5,280.6 1799.7,284.0 1800.0,288.7 1800.2,295.0 1800.5,302.9 1800.7,311.9 1801.0,321.3 1801.2,330.5 1801.5,339.2 1801.7,347.3 1801.9,354.9 1802.2,362.3 1802.4,369.5 1802.7,376.7 1802.9,383.8 1803.2,390.9 1803.4,397.9 1803.7,405.0 1803.9,412.1 1804.2,419.2 1804.4,426.2 1804.7,433.2 1804.9,440.2 1805.2,447.3 1805.4,454.3 1805.6,461.5 1805.9,468.7 1806.1,476.1 1806.4,483.7 1806.6,491.2 1806.9,498.6 1807.1,505.7 1807.4,512.6 1807.6,519.0 1807.9,524.1 1808.1,527.4 1808.4,528.8 1808.6,528.9 1808.9,528.2 1809.1,527.2 1809.3,525.8 1809.6,524.3 1809.8,522.7 1810.1,520.9 1810.3,519.1 1810.6,517.3 1810.8,515.4 1811.1,513.4 1811.3,511.2 1811.6,508.8 1811.8,506.2 1812.1,503.5 1812.3,500.7 1812.6,497.9 1812.8,495.2 1813.1,492.7 1813.3,490.4 1813.5,488.3 1813.8,486.5 1814.0,485.1 1814.3,483.9 1814.5,482.8 1814.8,481.8 1815.0,480.8 1815.3,479.9 1815.5,479.0 1815.8,478.3 1816.0,477.5 1816.3,476.9 1816.5,476.4 1816.8,476.0 1817.0,475.7 1817.2,475.5 1817.5,475.6 1817.7,475.8 1818.0,476.4 1818.2,477.1 1818.5,478.1 1818.7,479.3 1819.0,480.5 1819.2,481.7 1819.5,482.9 1819.7,484.0 1820.0,484.9 1820.2,485.6 1820.5,486.0 1820.7,485.8 1820.9,484.9 1821.2,483.2 1821.4,480.7 1821.7,477.6 1821.9,474.0 1822.2,470.2 1822.4,466.2 1822.7,462.4 1822.9,458.6 1823.2,454.9 1823.4,451.2 1823.7,447.4 1823.9,443.5 1824.2,439.5 1824.4,435.4 1824.7,431.2 1824.9,427.0 1825.1,422.6 1825.4,418.3 1825.6,413.8 1825.9,409.4 1826.1,404.8 1826.4,400.2 1826.6,395.5 1826.9,390.7 1827.1,385.8 1827.4,380.8 1827.6,375.7 1827.9,370.6 1828.1,365.4 1828.4,360.2 1828.6,355.0 1828.8,349.8 1829.1,344.6 1829.3,339.5 1829.6,334.3 1829.8,328.9 1830.1,323.5 1830.3,318.1 1830.6,312.7 1830.8,307.5 1831.1,302.5 1831.3,297.9 1831.6,293.7 1831.8,289.8 1832.1,286.2 1832.3,282.7 1832.5,279.5 1832.8,276.5 1833.0,273.8 1833.3,271.5 1833.5,269.6 1833.8,267.9 1834.0,266.5 1834.3,265.3 1834.5,264.3 1834.8,263.8 1835.0,263.7 1835.3,264.1 1835.5,265.0 1835.8,266.2 1836.0,267.7 1836.2,269.3 1836.5,271.0 1836.7,272.7 1837.0,274.7 1837.2,277.0 1837.5,280.0 1837.7,284.0 1838.0,289.6 1838.2,296.9 1838.5,305.5 1838.7,314.9 1839.0,324.4 1839.2,333.4 1839.5,341.8 1839.7,349.7 1840.0,357.2 1840.2,364.6 1840.4,371.9 1840.7,379.0 1840.9,386.2 1841.2,393.3 1841.4,400.4 1841.7,407.6 1841.9,414.7 1842.2,421.8 1842.4,428.9 1842.7,436.0 1842.9,443.1 1843.2,450.2 1843.4,457.3 1843.7,464.6 1843.9,472.0 1844.1,479.5 1844.4,487.2 1844.6,494.7 1844.9,502.0 1845.1,509.1 1845.4,515.8 1845.6,521.7 1845.9,525.9 1846.1,528.1 1846.4,528.7 1846.6,528.4 1846.9,527.5 1847.1,526.2 1847.4,524.8 1847.6,523.2 1847.8,521.5 1848.1,519.7 1848.3,517.9 1848.6,516.1 1848.8,514.2 1849.1,512.1 1849.3,509.8 1849.6,507.3 1849.8,504.6 1850.1,501.8 1850.3,499.1 1850.6,496.4 1850.8,493.8 1851.1,491.3 1851.3,489.1 1851.6,487.2 1851.8,485.7 1852.0,484.3 1852.3,483.2 1852.5,482.2 1852.8,481.2 1853.0,480.3 1853.3,479.4 1853.5,478.6 1853.8,477.8 1854.0,477.2 1854.3,476.6 1854.5,476.1 1854.8,475.8 1855.0,475.6 1855.3,475.5 1855.5,475.7 1855.7,476.1 1856.0,476.8 1856.2,477.7 1856.5,478.7 1856.7,479.9 1857.0,481.1 1857.2,482.3 1857.5,483.5 1857.7,484.5 1858.0,485.3 1858.2,485.8 1858.5,485.9 1858.7,485.4 1859.0,484.1 1859.2,481.9 1859.4,479.0 1859.7,475.5 1859.9,471.7 1860.2,467.7 1860.4,463.8 1860.7,459.9 1860.9,456.1 1861.2,452.4 1861.4,448.6 1861.7,444.6 1861.9,440.6 1862.2,436.5 1862.4,432.3 1862.7,428.0 1862.9,423.7 1863.2,419.3 1863.4,414.8 1863.6,410.2 1863.9,405.7 1864.1,401.0 1864.4,396.3 1864.6,391.4 1864.9,386.5 1865.1,381.5 1865.4,376.3 1865.6,371.1 1865.9,365.9 1866.1,360.6 1866.4,355.4 1866.6,350.1 1866.9,344.8 1867.1,339.6 1867.3,334.3 1867.6,329.0 1867.8,323.5 1868.1,318.0 1868.3,312.5 1868.6,307.1 1868.8,301.9 1869.1,297.1 1869.3,292.6 1869.6,288.5 1869.8,284.7 1870.1,281.1 1870.3,277.7 1870.6,274.6 1870.8,271.7 1871.0,269.2 1871.3,267.1 1871.5,265.3 1871.8,263.7 1872.0,262.4 1872.3,261.3 1872.5,260.5 1872.8,260.2 1873.0,260.4 1873.3,261.1 1873.5,262.2 1873.8,263.6 1874.0,265.1 1874.3,266.8 1874.5,268.5 1874.7,270.4 1875.0,272.5 1875.2,275.2 1875.5,278.7 1875.7,283.6 1876.0,290.1 1876.2,298.2 1876.5,307.4 1876.7,317.0 1877.0,326.4 1877.2,335.1 1877.5,343.3 1877.7,351.0 1878.0,358.5 1878.2,365.9 1878.5,373.1 1878.7,380.3 1878.9,387.5 1879.2,394.7 1879.4,401.9 1879.7,409.1 1879.9,416.3 1880.2,423.4 1880.4,430.5 1880.7,437.7 1880.9,444.8 1881.2,452.0 1881.4,459.3 1881.7,466.6 1881.9,474.2 1882.2,481.8 1882.4,489.5 1882.6,496.9 1882.9,504.2 1883.1,511.2 1883.4,517.6 1883.6,522.7 1883.9,525.9 1884.1,527.2 1884.4,527.2 1884.6,526.5 1884.9,525.4 1885.1,524.1 1885.4,522.6 1885.6,521.0 1885.9,519.3 1886.1,517.6 1886.3,515.8 1886.6,514.0 1886.8,512.0 1887.1,509.9 1887.3,507.5 1887.6,505.0 1887.8,502.3 1888.1,499.7 1888.3,497.0 1888.6,494.4 1888.8,491.9 1889.1,489.7 1889.3,487.7 1889.6,486.0 1889.8,484.7 1890.1,483.5 1890.3,482.5 1890.5,481.5 1890.8,480.6 1891.0,479.7 1891.3,478.9 1891.5,478.1 1891.8,477.4 1892.0,476.8 1892.3,476.3 1892.5,475.9 1892.8,475.6 1893.0,475.5 1893.3,475.6 1893.5,475.8 1893.8,476.3 1894.0,477.1 1894.2,478.0 1894.5,479.0 1894.7,480.1 1895.0,481.2 1895.2,482.3 1895.5,483.3 1895.7,484.1 1896.0,484.7 1896.2,485.0 1896.5,484.8 1896.7,483.8 1897.0,481.9 1897.2,479.3 1897.5,476.0 1897.7,472.3 1897.9,468.3 1898.2,464.3 1898.4,460.3 1898.7,456.4 1898.9,452.6 1899.2,448.8 1899.4,444.8 1899.7,440.8 1899.9,436.7 1900.2,432.4 1900.4,428.1 1900.7,423.7 1900.9,419.3 1901.2,414.8 1901.4,410.2 1901.6,405.6 1901.9,400.9 1902.1,396.1 1902.4,391.3 1902.6,386.3 1902.9,381.2 1903.1,376.0 1903.4,370.8 1903.6,365.5 1903.9,360.2 1904.1,354.8 1904.4,349.5 1904.6,344.1 1904.9,338.8 1905.1,333.4 1905.4,328.1 1905.6,322.6 1905.8,317.0 1906.1,311.4 1906.3,305.8 1906.6,300.5 1906.8,295.4 1907.1,290.7 1907.3,286.4 1907.6,282.4 1907.8,278.6 1908.1,275.1 1908.3,271.8 1908.6,268.7 1908.8,266.0 1909.1,263.7 1909.3,261.7 1909.5,260.0 1909.8,258.5 1910.0,257.3 1910.3,256.4 1910.5,255.8 1910.8,255.8 1911.0,256.2 1911.3,257.2 1911.5,258.5 1911.8,260.0 1912.0,261.7 1912.3,263.4 1912.5,265.2 1912.8,267.2 1913.0,269.7 1913.2,272.8 1913.5,277.1 1913.7,282.9 1914.0,290.6 1914.2,299.5 1914.5,309.2 1914.7,318.9 1915.0,328.2 1915.2,336.7 1915.5,344.8 1915.7,352.5 1916.0,360.0 1916.2,367.5 1916.5,374.9 1916.7,382.2 1917.0,389.5 1917.2,396.8 1917.4,404.2 1917.7,411.5 1917.9,418.8 1918.2,426.1 1918.4,433.3 1918.7,440.6 1918.9,447.9 1919.2,455.3 1919.4,462.7 1919.7,470.3 1919.9,478.1 1920.2,485.9 1920.4,493.6 1920.7,501.1 1920.9,508.4 1921.1,515.2 1921.4,521.1 1921.6,525.3 1921.9,527.5 1922.1,527.9 1922.4,527.5 1922.6,526.5 1922.9,525.1 1923.1,523.6 1923.4,521.9 1923.6,520.0 1923.9,518.1 1924.1,516.2 1924.4,514.3 1924.6,512.2 1924.8,509.9 1925.1,507.4 1925.3,504.7 1925.6,501.9 1925.8,498.9 1926.1,496.0 1926.3,493.1 1926.6,490.3 1926.8,487.7 1927.1,485.4 1927.3,483.4 1927.6,481.8 1927.8,480.4 1928.1,479.2 1928.3,478.1 1928.6,477.1 1928.8,476.1 1929.0,475.1 1929.3,474.3 1929.5,473.5 1929.8,472.8 1930.0,472.2 1930.3,471.7 1930.5,471.3 1930.8,471.1 1931.0,471.0 1931.3,471.2 1931.5,471.6 1931.8,472.2 1932.0,473.1 1932.3,474.0 1932.5,475.1 1932.7,476.2 1933.0,477.3 1933.2,478.4 1933.5,479.3 1933.7,480.0 1934.0,480.4 1934.2,480.5 1934.5,479.8 1934.7,478.3 1935.0,475.9 1935.2,472.8 1935.5,469.1 1935.7,465.0 1936.0,460.8 1936.2,456.6 1936.4,452.6 1936.7,448.6 1936.9,444.6 1937.2,440.6 1937.4,436.4 1937.7,432.1 1937.9,427.8 1938.2,423.3 1938.4,418.8 1938.7,414.2 1938.9,409.5 1939.2,404.7 1939.4,400.0 1939.7,395.1 1939.9,390.2 1940.1,385.2 1940.4,380.0 1940.6,374.8 1940.9,369.4 1941.1,364.0 1941.4,358.5 1941.6,353.0 1941.9,347.4 1942.1,341.8 1942.4,336.2 1942.6,330.7 1942.9,325.1 1943.1,319.6 1943.4,313.9 1943.6,308.1 1943.9,302.3 1944.1,296.5 1944.3,290.8 1944.6,285.3 1944.8,280.2 1945.1,275.6 1945.3,271.3 1945.6,267.2 1945.8,263.5 1946.1,259.9 1946.3,256.6 1946.6,253.6 1946.8,250.9 1947.1,248.7 1947.3,246.8 1947.6,245.2 1947.8,243.8 1948.0,242.7 1948.3,241.9 1948.5,241.6 1948.8,241.8 1949.0,242.6 1949.3,243.8 1949.5,245.3 1949.8,247.0 1950.0,248.7 1950.3,250.5 1950.5,252.5 1950.8,254.9 1951.0,257.7 1951.3,261.6 1951.5,266.9 1951.7,273.9 1952.0,282.7 1952.2,292.5 1952.5,302.6 1952.7,312.5 1953.0,321.7 1953.2,330.3 1953.5,338.4 1953.7,346.3 1954.0,354.1 1954.2,361.8 1954.5,369.4 1954.7,377.0 1955.0,384.6 1955.2,392.2 1955.5,399.8 1955.7,407.4 1955.9,415.0 1956.2,422.5 1956.4,430.1 1956.7,437.6 1956.9,445.2 1957.2,452.9 1957.4,460.8 1957.7,468.7 1957.9,476.9 1958.2,484.9 1958.4,492.8 1958.7,500.4 1958.9,507.8 1959.2,514.5 1959.4,519.8 1959.6,522.9 1959.9,524.1 1960.1,524.0 1960.4,523.1 1960.6,521.9 1960.9,520.3 1961.1,518.6 1961.4,516.7 1961.6,514.7 1961.9,512.7 1962.1,510.6 1962.4,508.5 1962.6,506.2 1962.9,503.7 1963.1,500.9 1963.3,497.9 1963.6,494.9 1963.8,491.7 1964.1,488.6 1964.3,485.6 1964.6,482.8 1964.8,480.2 1965.1,477.9 1965.3,476.0 1965.6,474.4 1965.8,473.1 1966.1,471.9 1966.3,470.7 1966.6,469.7 1966.8,468.6 1967.1,467.7 1967.3,466.8 1967.5,466.0 1967.8,465.3 1968.0,464.8 1968.3,464.3 1968.5,464.0 1968.8,463.9 1969.0,463.9 1969.3,464.3 1969.5,464.9 1969.8,465.7 1970.0,466.8 1970.3,468.0 1970.5,469.2 1970.8,470.5 1971.0,471.8 1971.2,472.9 1971.5,473.8 1971.7,474.5 1972.0,474.8 1972.2,474.4 1972.5,473.3 1972.7,471.2 1973.0,468.3 1973.2,464.6 1973.5,460.5 1973.7,456.1 1974.0,451.7 1974.2,447.3 1974.5,443.1 1974.7,438.9 1974.9,434.7 1975.2,430.4 1975.4,426.0 1975.7,421.4 1975.9,416.8 1976.2,412.1 1976.4,407.2 1976.7,402.3 1976.9,397.4 1977.2,392.4 1977.4,387.3 1977.7,382.2 1977.9,376.9 1978.2,371.6 1978.4,366.1 1978.6,360.5 1978.9,354.9 1979.1,349.1 1979.4,343.3 1979.6,337.5 1979.9,331.6 1980.1,325.7 1980.4,319.9 1980.6,314.0 1980.9,308.2 1981.1,302.3 1981.4,296.3 1981.6,290.1 1981.9,284.0 1982.1,277.9 1982.4,272.1 1982.6,266.5 1982.8,261.4 1983.1,256.7 1983.3,252.4 1983.6,248.3 1983.8,244.4 1984.1,240.8 1984.3,237.5 1984.6,234.5 1984.8,232.0 1985.1,229.9 1985.3,228.0 1985.6,226.5 1985.8,225.2 1986.1,224.2 1986.3,223.6 1986.5,223.6 1986.8,224.1 1987.0,225.2 1987.3,226.6 1987.5,228.3 1987.8,230.0 1988.0,231.9 1988.3,233.8 1988.5,236.0 1988.8,238.7 1989.0,242.1 1989.3,246.8 1989.5,253.3 1989.8,261.6 1990.0,271.3 1990.2,281.7 1990.5,292.1 1990.7,301.9 1991.0,311.1 1991.2,319.6 1991.5,327.9 1991.7,336.0 1992.0,343.9 1992.2,351.8 1992.5,359.7 1992.7,367.5 1993.0,375.4 1993.2,383.3 1993.5,391.1 1993.7,398.9 1994.0,406.7 1994.2,414.5 1994.4,422.3 1994.7,430.1 1994.9,438.0 1995.2,446.0 1995.4,454.2 1995.7,462.5 1995.9,470.9 1996.2,479.2 1996.4,487.2 1996.7,494.9 1996.9,502.2 1997.2,508.4 1997.4,512.7 1997.7,514.8 1997.9,515.2 1998.1,514.5 1998.4,513.4 1998.6,511.8 1998.9,510.1 1999.1,508.1 1999.4,506.0 1999.6,503.8 1999.9,501.6 2000.1,499.4 2000.4,497.0 2000.6,494.5 2000.9,491.6 2001.1,488.5 2001.4,485.2 2001.6,481.9 2001.8,478.5 2002.1,475.3 2002.3,472.1 2002.6,469.2 2002.8,466.6 2003.1,464.4 2003.3,462.5 2003.6,461.0 2003.8,459.6 2004.1,458.4 2004.3,457.2 2004.6,456.1 2004.8,455.0 2005.1,454.1 2005.3,453.2 2005.6,452.4 2005.8,451.7 2006.0,451.2 2006.3,450.8 2006.5,450.5 2006.8,450.5 2007.0,450.6 2007.3,451.1 2007.5,451.7 2007.8,452.6 2008.0,453.6 2008.3,454.7 2008.5,455.9 2008.8,457.0 2009.0,458.0 2009.3,459.0 2009.5,459.7 2009.7,460.1 2010.0,460.0 2010.2,459.2 2010.5,457.5 2010.7,454.8 2011.0,451.2 2011.2,447.1 2011.5,442.5 2011.7,437.9 2012.0,433.2 2012.2,428.7 2012.5,424.3 2012.7,419.9 2013.0,415.4 2013.2,410.8 2013.4,406.0 2013.7,401.2 2013.9,396.2 2014.2,391.2 2014.4,386.1 2014.7,380.9 2014.9,375.6 2015.2,370.3 2015.4,364.9 2015.7,359.4 2015.9,353.8 2016.2,348.1 2016.4,342.3 2016.7,336.3 2016.9,330.3 2017.1,324.2 2017.4,318.1 2017.6,311.9 2017.9,305.7 2018.1,299.5 2018.4,293.3 2018.6,287.2 2018.9,281.0 2019.1,274.7 2019.4,268.3 2019.6,261.8 2019.9,255.3 2020.1,249.0 2020.4,243.0 2020.6,237.4 2020.9,232.3 2021.1,227.5 2021.3,223.1 2021.6,218.9 2021.8,215.0 2022.1,211.3 2022.3,208.0 2022.6,205.1 2022.8,202.7 2023.1,200.6 2023.3,198.9 2023.6,197.3 2023.8,196.1 2024.1,195.3 2024.3,195.0 2024.6,195.3 2024.8,196.2 2025.0,197.5 2025.3,199.2 2025.5,201.0 2025.8,202.9 2026.0,204.9 2026.3,207.1 2026.5,209.6 2026.8,212.8 2027.0,217.1 2027.3,223.0 2027.5,230.9 2027.8,240.5 2028.0,251.2 2028.3,262.2 2028.5,272.9 2028.7,282.8 2029.0,292.1 2029.2,300.9 2029.5,309.5 2029.7,317.9 2030.0,326.3 2030.2,334.5 2030.5,342.8 2030.7,351.1 2031.0,359.4 2031.2,367.6 2031.5,375.9 2031.7,384.1 2032.0,392.3 2032.2,400.5 2032.5,408.7 2032.7,417.0 2032.9,425.3 2033.2,433.8 2033.4,442.5 2033.7,451.4 2033.9,460.1 2034.2,468.6 2034.4,476.9 2034.7,484.9 2034.9,492.1 2035.2,497.6 2035.4,500.8 2035.7,502.0 2035.9,501.7 2036.2,500.7 2036.4,499.3 2036.6,497.5 2036.9,495.5 2037.1,493.4 2037.4,491.2 2037.6,488.9 2037.9,486.6 2038.1,484.3 2038.4,481.7 2038.6,478.8 2038.9,475.7 2039.1,472.4 2039.4,468.9 2039.6,465.4 2039.9,462.0 2040.1,458.6 2040.3,455.5 2040.6,452.6 2040.8,450.1 2041.1,448.0 2041.3,446.2 2041.6,444.8 2041.8,443.4 2042.1,442.2 2042.3,441.0 2042.6,439.9 2042.8,438.8 2043.1,437.8 2043.3,437.0 2043.6,436.2 2043.8,435.6 2044.1,435.1 2044.3,434.8 2044.5,434.6 2044.8,434.6 2045.0,434.9 2045.3,435.5 2045.5,436.3 2045.8,437.2 2046.0,438.2 2046.3,439.3 2046.5,440.5 2046.8,441.5 2047.0,442.5 2047.3,443.3 2047.5,443.8 2047.8,444.0 2048.0,443.5 2048.2,442.2 2048.5,439.8 2048.7,436.5 2049.0,432.4 2049.2,427.8 2049.5,423.0 2049.7,418.1 2050.0,413.4 2050.2,408.7 2050.5,404.2 2050.7,399.5 2051.0,394.8 2051.2,389.9 2051.5,384.9 2051.7,379.8 2051.9,374.5 2052.2,369.2 2052.4,363.9 2052.7,358.4 2052.9,352.9 2053.2,347.3 2053.4,341.6 2053.7,335.9 2053.9,330.0 2054.2,324.0 2054.4,317.8 2054.7,311.6 2054.9,305.3 2055.2,298.9 2055.4,292.5 2055.6,286.0 2055.9,279.6 2056.1,273.1 2056.4,266.7 2056.6,260.3 2056.9,253.8 2057.1,247.1 2057.4,240.4 2057.6,233.6 2057.9,227.0 2058.1,220.6 2058.4,214.5 2058.6,208.9 2058.9,203.8 2059.1,199.1 2059.4,194.6 2059.6,190.4 2059.8,186.4 2060.1,182.8 2060.3,179.6 2060.6,176.9 2060.8,174.5 2061.1,172.6 2061.3,170.9 2061.6,169.4 2061.8,168.4 2062.1,167.8 2062.3,167.8 2062.6,168.5 2062.8,169.7 2063.1,171.0 2063.3,172.2" fill="none" stroke="#8c3a30" stroke-width="1.7" stroke-linejoin="round" clip-path="url(#clc)"/>
<path d="M1520.6,415.8L1520.8,415.8 1521.1,415.8 1521.3,415.8 1521.6,415.8 1521.8,415.8 1522.1,415.8 1522.3,415.8 1522.6,415.6 1522.8,414.5 1523.1,410.6 1523.3,405.4 1523.6,400.2 1523.8,395.2 1524.1,390.2 1524.3,385.2 1524.5,380.4 1524.8,375.6 1525.0,370.8 1525.3,366.0 1525.5,361.2 1525.8,356.4 1526.0,351.6 1526.3,346.8 1526.5,341.8 1526.8,336.7 1527.0,331.6 1527.3,326.3 1527.5,321.1 1527.8,315.9 1528.0,311.0 1528.3,306.5 1528.5,302.3 1528.7,298.4 1529.0,294.8 1529.2,291.4 1529.5,288.2 1529.7,285.2 1530.0,282.5 1530.2,280.2 1530.5,278.2 1530.7,276.5 1531.0,275.0 1531.2,273.8 1531.5,272.8 1531.7,272.1 1532.0,271.8 1532.2,272.1 1532.4,272.8 1532.7,272.6 1532.9,274.6 1533.2,276.4 1533.4,278.0 1533.7,279.3 1533.9,280.3 1534.2,281.2 1534.4,282.0 1534.7,282.6 1534.9,283.3 1535.2,283.9 1535.4,284.6 1535.7,285.4 1535.9,286.2 1536.1,287.3 1536.4,288.5 1536.6,290.2 1536.9,292.3 1537.1,294.8 1537.4,297.7 1537.6,300.7 1537.9,303.9 1538.1,307.2 1538.4,310.5 1538.6,313.7 1538.9,316.8 1539.1,320.0 1539.4,323.4 1539.6,327.0 1539.8,330.6 1540.1,334.4 1540.3,338.1 1540.6,341.8 1540.8,345.4 1541.1,348.8 1541.3,352.1 1541.6,355.2 1541.8,358.0 1542.1,360.5 1542.3,362.7 1542.6,364.8 1542.8,366.8 1543.1,368.6 1543.3,370.4 1543.6,372.1 1543.8,373.7 1544.0,375.4 1544.3,377.1 1544.5,378.8 1544.8,380.6 1545.0,382.4 1545.3,384.4 1545.5,386.5 1545.8,388.7 1546.0,390.9 1546.3,393.1 1546.5,395.2 1546.8,397.4 1547.0,399.4 1547.3,401.3 1547.5,403.1 1547.7,404.6 1548.0,406.1 1548.2,407.6 1548.5,409.0 1548.7,410.4 1549.0,411.7 1549.2,413.0 1549.5,414.2 1549.7,415.4 1550.0,416.4 1550.2,417.4 1550.5,418.3 1550.7,419.1 1551.0,419.8 1551.2,420.4 1551.4,421.0 1551.7,421.6 1551.9,422.1 1552.2,422.7 1552.4,423.2 1552.7,423.6 1552.9,423.9 1553.2,424.2 1553.4,424.4 1553.7,424.5 1553.9,424.3 1554.2,423.9 1554.4,423.3 1554.7,422.6 1554.9,421.7 1555.2,420.8 1555.4,419.9 1555.6,419.1 1555.9,418.4 1556.1,418.0 1556.4,417.8 1556.6,417.8 1556.9,417.9 1557.1,418.1 1557.4,418.4 1557.6,418.7 1557.9,418.9 1558.1,419.1 1558.4,419.3 1558.6,419.4 1558.9,419.5 1559.1,419.6 1559.3,419.7 1559.6,419.8 1559.8,419.8 1560.1,419.6 1560.3,418.3 1560.6,415.3 1560.8,411.3 1561.1,407.0 1561.3,402.6 1561.6,398.0 1561.8,393.4 1562.1,388.6 1562.3,383.8 1562.6,378.9 1562.8,374.0 1563.0,369.0 1563.3,364.0 1563.5,359.0 1563.8,354.1 1564.0,349.1 1564.3,344.1 1564.5,339.1 1564.8,334.0 1565.0,328.8 1565.3,323.6 1565.5,318.4 1565.8,313.4 1566.0,308.7 1566.3,304.4 1566.5,300.4 1566.8,296.7 1567.0,293.3 1567.2,290.0 1567.5,286.9 1567.7,284.1 1568.0,281.6 1568.2,279.5 1568.5,277.7 1568.7,276.1 1569.0,274.8 1569.2,273.7 1569.5,272.8 1569.7,272.4 1570.0,272.4 1570.2,272.9 1570.5,272.2 1570.7,274.2 1570.9,276.1 1571.2,277.8 1571.4,279.2 1571.7,280.3 1571.9,281.3 1572.2,282.1 1572.4,282.8 1572.7,283.5 1572.9,284.1 1573.2,284.7 1573.4,285.4 1573.7,286.3 1573.9,287.2 1574.2,288.4 1574.4,289.8 1574.6,291.7 1574.9,294.1 1575.1,296.8 1575.4,299.7 1575.6,302.8 1575.9,306.1 1576.1,309.4 1576.4,312.6 1576.6,315.7 1576.9,318.9 1577.1,322.2 1577.4,325.7 1577.6,329.3 1577.9,333.0 1578.1,336.7 1578.3,340.4 1578.6,344.0 1578.8,347.5 1579.1,350.9 1579.3,354.1 1579.6,357.0 1579.8,359.6 1580.1,361.9 1580.3,364.1 1580.6,366.1 1580.8,368.0 1581.1,369.8 1581.3,371.5 1581.6,373.2 1581.8,374.8 1582.1,376.5 1582.3,378.1 1582.5,379.9 1582.8,381.7 1583.0,383.6 1583.3,385.7 1583.5,387.8 1583.8,390.0 1584.0,392.2 1584.3,394.4 1584.5,396.5 1584.8,398.6 1585.0,400.5 1585.3,402.3 1585.5,404.0 1585.8,405.5 1586.0,407.0 1586.2,408.4 1586.5,409.8 1586.7,411.1 1587.0,412.4 1587.2,413.7 1587.5,414.9 1587.7,416.0 1588.0,417.0 1588.2,417.9 1588.5,418.8 1588.7,419.5 1589.0,420.1 1589.2,420.7 1589.5,421.3 1589.7,421.9 1589.9,422.4 1590.2,423.0 1590.4,423.4 1590.7,423.8 1590.9,424.1 1591.2,424.3 1591.4,424.4 1591.7,424.4 1591.9,424.2 1592.2,423.6 1592.4,422.9 1592.7,422.1 1592.9,421.2 1593.2,420.3 1593.4,419.4 1593.7,418.7 1593.9,418.1 1594.1,417.8 1594.4,417.8 1594.6,417.9 1594.9,418.0 1595.1,418.3 1595.4,418.5 1595.6,418.8 1595.9,419.0 1596.1,419.2 1596.4,419.3 1596.6,419.5 1596.9,419.6 1597.1,419.7 1597.4,419.8 1597.6,419.8 1597.8,419.8 1598.1,419.2 1598.3,417.1 1598.6,413.5 1598.8,409.3 1599.1,404.9 1599.3,400.4 1599.6,395.8 1599.8,391.1 1600.1,386.3 1600.3,381.4 1600.6,376.5 1600.8,371.5 1601.1,366.5 1601.3,361.5 1601.5,356.5 1601.8,351.6 1602.0,346.6 1602.3,341.6 1602.5,336.5 1602.8,331.3 1603.0,326.1 1603.3,320.9 1603.5,315.8 1603.8,310.9 1604.0,306.4 1604.3,302.3 1604.5,298.5 1604.8,294.9 1605.0,291.5 1605.3,288.3 1605.5,285.4 1605.7,282.7 1606.0,280.4 1606.2,278.5 1606.5,276.8 1606.7,275.4 1607.0,274.2 1607.2,273.2 1607.5,272.5 1607.7,272.3 1608.0,272.6 1608.2,273.3 1608.5,273.3 1608.7,275.2 1609.0,277.0 1609.2,278.6 1609.4,279.8 1609.7,280.9 1609.9,281.7 1610.2,282.5 1610.4,283.2 1610.7,283.8 1610.9,284.4 1611.2,285.1 1611.4,285.9 1611.7,286.8 1611.9,287.8 1612.2,289.1 1612.4,290.8 1612.7,293.0 1612.9,295.5 1613.1,298.3 1613.4,301.4 1613.6,304.6 1613.9,307.9 1614.1,311.1 1614.4,314.3 1614.6,317.4 1614.9,320.6 1615.1,324.1 1615.4,327.6 1615.6,331.3 1615.9,335.0 1616.1,338.7 1616.4,342.3 1616.6,345.9 1616.8,349.4 1617.1,352.6 1617.3,355.7 1617.6,358.4 1617.8,360.9 1618.1,363.1 1618.3,365.2 1618.6,367.1 1618.8,369.0 1619.1,370.7 1619.3,372.4 1619.6,374.0 1619.8,375.7 1620.1,377.4 1620.3,379.1 1620.6,380.9 1620.8,382.7 1621.0,384.7 1621.3,386.8 1621.5,389.0 1621.8,391.2 1622.0,393.4 1622.3,395.5 1622.5,397.6 1622.8,399.6 1623.0,401.5 1623.3,403.3 1623.5,404.8 1623.8,406.3 1624.0,407.7 1624.3,409.2 1624.5,410.5 1624.7,411.9 1625.0,413.1 1625.2,414.3 1625.5,415.5 1625.7,416.5 1626.0,417.5 1626.2,418.4 1626.5,419.2 1626.7,419.8 1627.0,420.5 1627.2,421.1 1627.5,421.6 1627.7,422.2 1628.0,422.7 1628.2,423.2 1628.4,423.6 1628.7,424.0 1628.9,424.2 1629.2,424.4 1629.4,424.5 1629.7,424.3 1629.9,423.9 1630.2,423.3 1630.4,422.5 1630.7,421.6 1630.9,420.7 1631.2,419.8 1631.4,419.0 1631.7,418.4 1631.9,417.9 1632.2,417.8 1632.4,417.8 1632.6,418.0 1632.9,418.2 1633.1,418.4 1633.4,418.7 1633.6,418.9 1633.9,419.1 1634.1,419.3 1634.4,419.4 1634.6,419.5 1634.9,419.6 1635.1,419.7 1635.4,419.8 1635.6,419.8 1635.9,419.5 1636.1,418.1 1636.3,415.0 1636.6,410.9 1636.8,406.6 1637.1,402.2 1637.3,397.6 1637.6,393.0 1637.8,388.2 1638.1,383.4 1638.3,378.5 1638.6,373.6 1638.8,368.6 1639.1,363.6 1639.3,358.6 1639.6,353.6 1639.8,348.7 1640.0,343.7 1640.3,338.7 1640.5,333.5 1640.8,328.3 1641.0,323.1 1641.3,318.0 1641.5,313.0 1641.8,308.4 1642.0,304.1 1642.3,300.1 1642.5,296.4 1642.8,293.0 1643.0,289.7 1643.3,286.7 1643.5,283.9 1643.8,281.4 1644.0,279.3 1644.2,277.5 1644.5,276.0 1644.7,274.7 1645.0,273.6 1645.2,272.8 1645.5,272.4 1645.7,272.4 1646.0,272.9 1646.2,272.4 1646.5,274.3 1646.7,276.2 1647.0,277.9 1647.2,279.3 1647.5,280.4 1647.7,281.4 1647.9,282.2 1648.2,282.9 1648.4,283.5 1648.7,284.1 1648.9,284.8 1649.2,285.5 1649.4,286.3 1649.7,287.3 1649.9,288.5 1650.2,289.9 1650.4,291.9 1650.7,294.3 1650.9,297.0 1651.2,300.0 1651.4,303.1 1651.6,306.4 1651.9,309.6 1652.1,312.9 1652.4,316.0 1652.6,319.1 1652.9,322.5 1653.1,326.0 1653.4,329.6 1653.6,333.3 1653.9,337.0 1654.1,340.7 1654.4,344.3 1654.6,347.8 1654.9,351.2 1655.1,354.3 1655.3,357.2 1655.6,359.8 1655.8,362.1 1656.1,364.3 1656.3,366.3 1656.6,368.1 1656.8,369.9 1657.1,371.6 1657.3,373.3 1657.6,374.9 1657.8,376.6 1658.1,378.3 1658.3,380.0 1658.6,381.9 1658.8,383.8 1659.1,385.9 1659.3,388.0 1659.5,390.2 1659.8,392.4 1660.0,394.5 1660.3,396.7 1660.5,398.7 1660.8,400.7 1661.0,402.5 1661.3,404.1 1661.5,405.6 1661.8,407.1 1662.0,408.5 1662.3,409.9 1662.5,411.3 1662.8,412.6 1663.0,413.8 1663.2,415.0 1663.5,416.1 1663.7,417.1 1664.0,418.0 1664.2,418.8 1664.5,419.6 1664.7,420.2 1665.0,420.8 1665.2,421.4 1665.5,422.0 1665.7,422.5 1666.0,423.0 1666.2,423.4 1666.5,423.8 1666.7,424.1 1666.9,424.3 1667.2,424.4 1667.4,424.4 1667.7,424.1 1667.9,423.6 1668.2,422.9 1668.4,422.0 1668.7,421.1 1668.9,420.2 1669.2,419.4 1669.4,418.6 1669.7,418.1 1669.9,417.8 1670.2,417.8 1670.4,417.9 1670.7,418.1 1670.9,418.3 1671.1,418.6 1671.4,418.8 1671.6,419.0 1671.9,419.2 1672.1,419.3 1672.4,419.5 1672.6,419.6 1672.9,419.7 1673.1,419.8 1673.4,419.8 1673.6,419.8 1673.9,419.1 1674.1,416.9 1674.4,413.2 1674.6,408.9 1674.8,404.5 1675.1,400.0 1675.3,395.4 1675.6,390.7 1675.8,385.9 1676.1,381.0 1676.3,376.1 1676.6,371.1 1676.8,366.1 1677.1,361.1 1677.3,356.1 1677.6,351.1 1677.8,346.2 1678.1,341.2 1678.3,336.1 1678.5,330.9 1678.8,325.6 1679.0,320.4 1679.3,315.4 1679.5,310.5 1679.8,306.1 1680.0,301.9 1680.3,298.1 1680.5,294.6 1680.8,291.2 1681.0,288.1 1681.3,285.2 1681.5,282.5 1681.8,280.3 1682.0,278.3 1682.3,276.7 1682.5,275.3 1682.7,274.1 1683.0,273.1 1683.2,272.5 1683.5,272.3 1683.7,272.6 1684.0,273.4 1684.2,273.4 1684.5,275.4 1684.7,277.2 1685.0,278.7 1685.2,279.9 1685.5,281.0 1685.7,281.8 1686.0,282.6 1686.2,283.2 1686.4,283.9 1686.7,284.5 1686.9,285.2 1687.2,285.9 1687.4,286.8 1687.7,287.9 1687.9,289.2 1688.2,291.0 1688.4,293.2 1688.7,295.7 1688.9,298.6 1689.2,301.6 1689.4,304.9 1689.7,308.1 1689.9,311.4 1690.1,314.6 1690.4,317.7 1690.6,320.9 1690.9,324.4 1691.1,327.9 1691.4,331.6 1691.6,335.3 1691.9,339.0 1692.1,342.7 1692.4,346.2 1692.6,349.7 1692.9,352.9 1693.1,355.9 1693.4,358.7 1693.6,361.1 1693.8,363.3 1694.1,365.4 1694.3,367.3 1694.6,369.1 1694.8,370.8 1695.1,372.5 1695.3,374.2 1695.6,375.8 1695.8,377.5 1696.1,379.2 1696.3,381.0 1696.6,382.9 1696.8,384.9 1697.1,387.0 1697.3,389.2 1697.6,391.4 1697.8,393.5 1698.0,395.7 1698.3,397.8 1698.5,399.8 1698.8,401.7 1699.0,403.4 1699.3,404.9 1699.5,406.4 1699.8,407.9 1700.0,409.3 1700.3,410.6 1700.5,412.0 1700.8,413.2 1701.0,414.4 1701.3,415.6 1701.5,416.6 1701.7,417.6 1702.0,418.5 1702.2,419.2 1702.5,419.9 1702.7,420.5 1703.0,421.1 1703.2,421.7 1703.5,422.2 1703.7,422.8 1704.0,423.2 1704.2,423.7 1704.5,424.0 1704.7,424.2 1705.0,424.4 1705.2,424.5 1705.4,424.3 1705.7,423.9 1705.9,423.2 1706.2,422.4 1706.4,421.5 1706.7,420.6 1706.9,419.7 1707.2,419.0 1707.4,418.3 1707.7,417.9 1707.9,417.8 1708.2,417.8 1708.4,418.0 1708.7,418.2 1708.9,418.4 1709.2,418.7 1709.4,418.9 1709.6,419.1 1709.9,419.3 1710.1,419.4 1710.4,419.5 1710.6,419.6 1710.9,419.7 1711.1,419.8 1711.4,419.8 1711.6,419.6 1711.9,418.3 1712.1,415.3 1712.4,411.2 1712.6,406.9 1712.9,402.4 1713.1,397.8 1713.3,393.1 1713.6,388.4 1713.8,383.5 1714.1,378.6 1714.3,373.6 1714.6,368.6 1714.8,363.6 1715.1,358.6 1715.3,353.6 1715.6,348.6 1715.8,343.6 1716.1,338.6 1716.3,333.4 1716.6,328.2 1716.8,322.9 1717.0,317.8 1717.3,312.8 1717.5,308.2 1717.8,303.9 1718.0,299.9 1718.3,296.3 1718.5,292.8 1718.8,289.5 1719.0,286.5 1719.3,283.7 1719.5,281.3 1719.8,279.2 1720.0,277.4 1720.3,275.9 1720.5,274.6 1720.7,273.5 1721.0,272.7 1721.2,272.4 1721.5,272.4 1721.7,273.0 1722.0,272.5 1722.2,274.5 1722.5,276.4 1722.7,278.0 1723.0,279.4 1723.2,280.5 1723.5,281.4 1723.7,282.2 1724.0,282.9 1724.2,283.6 1724.5,284.2 1724.7,284.9 1724.9,285.6 1725.2,286.4 1725.4,287.4 1725.7,288.6 1725.9,290.1 1726.2,292.1 1726.4,294.5 1726.7,297.2 1726.9,300.2 1727.2,303.4 1727.4,306.6 1727.7,309.9 1727.9,313.2 1728.2,316.3 1728.4,319.4 1728.6,322.8 1728.9,326.3 1729.1,329.9 1729.4,333.6 1729.6,337.3 1729.9,341.0 1730.1,344.6 1730.4,348.1 1730.6,351.4 1730.9,354.6 1731.1,357.4 1731.4,360.0 1731.6,362.3 1731.9,364.4 1732.1,366.4 1732.3,368.3 1732.6,370.1 1732.8,371.8 1733.1,373.4 1733.3,375.1 1733.6,376.7 1733.8,378.4 1734.1,380.2 1734.3,382.0 1734.6,384.0 1734.8,386.0 1735.1,388.2 1735.3,390.4 1735.6,392.5 1735.8,394.7 1736.1,396.9 1736.3,398.9 1736.5,400.8 1736.8,402.6 1737.0,404.3 1737.3,405.7 1737.5,407.2 1737.8,408.6 1738.0,410.0 1738.3,411.4 1738.5,412.7 1738.8,413.9 1739.0,415.1 1739.3,416.2 1739.5,417.2 1739.8,418.1 1740.0,418.9 1740.2,419.6 1740.5,420.2 1740.7,420.8 1741.0,421.4 1741.2,422.0 1741.5,422.5 1741.7,423.0 1742.0,423.5 1742.2,423.8 1742.5,424.1 1742.7,424.3 1743.0,424.4 1743.2,424.4 1743.5,424.1 1743.7,423.5 1743.9,422.8 1744.2,421.9 1744.4,421.0 1744.7,420.1 1744.9,419.3 1745.2,418.6 1745.4,418.1 1745.7,417.8 1745.9,417.8 1746.2,417.9 1746.4,418.1 1746.7,418.3 1746.9,418.6 1747.2,418.8 1747.4,419.1 1747.7,419.2 1747.9,419.4 1748.1,419.5 1748.4,419.6 1748.6,419.7 1748.9,419.8 1749.1,419.8 1749.4,419.7 1749.6,418.8 1749.9,416.3 1750.1,412.5 1750.4,408.2 1750.6,403.8 1750.9,399.3 1751.1,394.7 1751.4,390.0 1751.6,385.2 1751.8,380.3 1752.1,375.4 1752.3,370.4 1752.6,365.5 1752.8,360.5 1753.1,355.5 1753.3,350.5 1753.6,345.6 1753.8,340.6 1754.1,335.5 1754.3,330.3 1754.6,325.0 1754.8,319.9 1755.1,314.8 1755.3,310.1 1755.5,305.6 1755.8,301.5 1756.0,297.8 1756.3,294.2 1756.5,290.9 1756.8,287.8 1757.0,284.9 1757.3,282.3 1757.5,280.1 1757.8,278.2 1758.0,276.5 1758.3,275.2 1758.5,274.0 1758.8,273.1 1759.0,272.5 1759.2,272.3 1759.5,272.7 1759.7,273.5 1760.0,273.6 1760.2,275.5 1760.5,277.3 1760.7,278.8 1761.0,280.0 1761.2,281.0 1761.5,281.9 1761.7,282.6 1762.0,283.3 1762.2,283.9 1762.5,284.5 1762.7,285.2 1763.0,286.0 1763.2,286.9 1763.4,288.0 1763.7,289.3 1763.9,291.1 1764.2,293.4 1764.4,296.0 1764.7,298.8 1764.9,301.9 1765.2,305.1 1765.4,308.4 1765.7,311.7 1765.9,314.9 1766.2,317.9 1766.4,321.2 1766.7,324.7 1766.9,328.2 1767.1,331.9 1767.4,335.6 1767.6,339.3 1767.9,343.0 1768.1,346.5 1768.4,349.9 1768.6,353.2 1768.9,356.2 1769.1,358.9 1769.4,361.3 1769.6,363.5 1769.9,365.5 1770.1,367.4 1770.4,369.3 1770.6,371.0 1770.8,372.7 1771.1,374.3 1771.3,376.0 1771.6,377.7 1771.8,379.4 1772.1,381.2 1772.3,383.1 1772.6,385.1 1772.8,387.2 1773.1,389.4 1773.3,391.5 1773.6,393.7 1773.8,395.9 1774.1,398.0 1774.3,400.0 1774.6,401.8 1774.8,403.5 1775.0,405.1 1775.3,406.5 1775.5,408.0 1775.8,409.4 1776.0,410.8 1776.3,412.1 1776.5,413.3 1776.8,414.5 1777.0,415.7 1777.3,416.7 1777.5,417.7 1777.8,418.5 1778.0,419.3 1778.3,419.9 1778.5,420.6 1778.7,421.2 1779.0,421.7 1779.2,422.3 1779.5,422.8 1779.7,423.3 1780.0,423.7 1780.2,424.0 1780.5,424.3 1780.7,424.4 1781.0,424.5 1781.2,424.3 1781.5,423.8 1781.7,423.1 1782.0,422.3 1782.2,421.5 1782.4,420.5 1782.7,419.7 1782.9,418.9 1783.2,418.3 1783.4,417.9 1783.7,417.8 1783.9,417.8 1784.2,418.0 1784.4,418.2 1784.7,418.5 1784.9,418.7 1785.2,419.0 1785.4,419.2 1785.7,419.3 1785.9,419.4 1786.2,419.5 1786.4,419.6 1786.6,419.7 1786.9,419.8 1787.1,419.8 1787.4,419.5 1787.6,418.1 1787.9,415.0 1788.1,410.9 1788.4,406.5 1788.6,402.0 1788.9,397.4 1789.1,392.7 1789.4,388.0 1789.6,383.1 1789.9,378.2 1790.1,373.2 1790.3,368.2 1790.6,363.2 1790.8,358.2 1791.1,353.2 1791.3,348.2 1791.6,343.2 1791.8,338.1 1792.1,333.0 1792.3,327.7 1792.6,322.5 1792.8,317.3 1793.1,312.4 1793.3,307.8 1793.6,303.5 1793.8,299.6 1794.0,296.0 1794.3,292.5 1794.5,289.3 1794.8,286.2 1795.0,283.5 1795.3,281.1 1795.5,279.0 1795.8,277.3 1796.0,275.8 1796.3,274.5 1796.5,273.4 1796.8,272.7 1797.0,272.3 1797.3,272.5 1797.5,273.1 1797.7,272.7 1798.0,274.6 1798.2,276.5 1798.5,278.1 1798.7,279.5 1799.0,280.6 1799.2,281.5 1799.5,282.2 1799.7,282.9 1800.0,283.6 1800.2,284.2 1800.5,284.8 1800.7,285.6 1801.0,286.4 1801.2,287.4 1801.5,288.6 1801.7,290.2 1801.9,292.2 1802.2,294.6 1802.4,297.4 1802.7,300.3 1802.9,303.5 1803.2,306.7 1803.4,310.0 1803.7,313.2 1803.9,316.3 1804.2,319.5 1804.4,322.8 1804.7,326.3 1804.9,329.9 1805.2,333.6 1805.4,337.3 1805.6,341.0 1805.9,344.6 1806.1,348.0 1806.4,351.3 1806.6,354.4 1806.9,357.3 1807.1,359.8 1807.4,362.1 1807.6,364.2 1807.9,366.1 1808.1,368.0 1808.4,369.7 1808.6,371.4 1808.9,373.1 1809.1,374.7 1809.3,376.4 1809.6,378.1 1809.8,379.8 1810.1,381.7 1810.3,383.6 1810.6,385.7 1810.8,387.8 1811.1,390.0 1811.3,392.1 1811.6,394.3 1811.8,396.4 1812.1,398.5 1812.3,400.4 1812.6,402.1 1812.8,403.7 1813.1,405.2 1813.3,406.7 1813.5,408.1 1813.8,409.5 1814.0,410.8 1814.3,412.1 1814.5,413.3 1814.8,414.5 1815.0,415.5 1815.3,416.5 1815.5,417.4 1815.8,418.2 1816.0,418.9 1816.3,419.6 1816.5,420.2 1816.8,420.7 1817.0,421.3 1817.2,421.8 1817.5,422.3 1817.7,422.8 1818.0,423.1 1818.2,423.4 1818.5,423.6 1818.7,423.7 1819.0,423.6 1819.2,423.3 1819.5,422.7 1819.7,422.0 1820.0,421.1 1820.2,420.2 1820.5,419.3 1820.7,418.5 1820.9,417.8 1821.2,417.3 1821.4,417.0 1821.7,417.0 1821.9,417.2 1822.2,417.4 1822.4,417.6 1822.7,417.9 1822.9,418.1 1823.2,418.3 1823.4,418.5 1823.7,418.6 1823.9,418.7 1824.2,418.8 1824.4,418.9 1824.7,419.0 1824.9,419.1 1825.1,419.0 1825.4,418.2 1825.6,415.9 1825.9,412.1 1826.1,407.9 1826.4,403.5 1826.6,399.0 1826.9,394.4 1827.1,389.7 1827.4,384.9 1827.6,380.0 1827.9,375.1 1828.1,370.2 1828.4,365.2 1828.6,360.2 1828.8,355.3 1829.1,350.3 1829.3,345.4 1829.6,340.4 1829.8,335.3 1830.1,330.1 1830.3,324.9 1830.6,319.8 1830.8,314.8 1831.1,310.0 1831.3,305.6 1831.6,301.6 1831.8,297.9 1832.1,294.4 1832.3,291.1 1832.5,288.0 1832.8,285.1 1833.0,282.6 1833.3,280.3 1833.5,278.5 1833.8,276.9 1834.0,275.5 1834.3,274.4 1834.5,273.5 1834.8,272.9 1835.0,272.8 1835.3,273.2 1835.5,274.1 1835.8,274.2 1836.0,276.1 1836.2,277.8 1836.5,279.3 1836.7,280.5 1837.0,281.5 1837.2,282.3 1837.5,283.0 1837.7,283.6 1838.0,284.3 1838.2,284.9 1838.5,285.6 1838.7,286.4 1839.0,287.3 1839.2,288.3 1839.5,289.7 1839.7,291.5 1840.0,293.7 1840.2,296.3 1840.4,299.1 1840.7,302.2 1840.9,305.4 1841.2,308.6 1841.4,311.8 1841.7,314.9 1841.9,318.0 1842.2,321.2 1842.4,324.6 1842.7,328.1 1842.9,331.7 1843.2,335.4 1843.4,339.0 1843.7,342.6 1843.9,346.1 1844.1,349.4 1844.4,352.6 1844.6,355.5 1844.9,358.2 1845.1,360.5 1845.4,362.7 1845.6,364.7 1845.9,366.5 1846.1,368.3 1846.4,370.0 1846.6,371.7 1846.9,373.3 1847.1,374.9 1847.4,376.6 1847.6,378.3 1847.8,380.1 1848.1,381.9 1848.3,383.9 1848.6,386.0 1848.8,388.1 1849.1,390.3 1849.3,392.4 1849.6,394.5 1849.8,396.6 1850.1,398.5 1850.3,400.4 1850.6,402.0 1850.8,403.5 1851.1,405.0 1851.3,406.4 1851.6,407.8 1851.8,409.1 1852.0,410.4 1852.3,411.6 1852.5,412.8 1852.8,413.9 1853.0,414.9 1853.3,415.9 1853.5,416.7 1853.8,417.5 1854.0,418.1 1854.3,418.7 1854.5,419.3 1854.8,419.8 1855.0,420.4 1855.3,420.9 1855.5,421.4 1855.7,421.7 1856.0,422.1 1856.2,422.3 1856.5,422.4 1856.7,422.5 1857.0,422.3 1857.2,421.8 1857.5,421.1 1857.7,420.3 1858.0,419.4 1858.2,418.5 1858.5,417.6 1858.7,416.9 1859.0,416.2 1859.2,415.9 1859.4,415.8 1859.7,415.9 1859.9,416.0 1860.2,416.2 1860.4,416.5 1860.7,416.8 1860.9,417.0 1861.2,417.2 1861.4,417.3 1861.7,417.4 1861.9,417.6 1862.2,417.7 1862.4,417.8 1862.7,417.8 1862.9,417.8 1863.2,417.5 1863.4,416.1 1863.6,413.0 1863.9,409.0 1864.1,404.8 1864.4,400.4 1864.6,395.9 1864.9,391.4 1865.1,386.7 1865.4,382.0 1865.6,377.2 1865.9,372.4 1866.1,367.5 1866.4,362.6 1866.6,357.8 1866.9,352.9 1867.1,348.1 1867.3,343.2 1867.6,338.3 1867.8,333.2 1868.1,328.2 1868.3,323.1 1868.6,318.1 1868.8,313.3 1869.1,308.9 1869.3,304.7 1869.6,301.0 1869.8,297.4 1870.1,294.1 1870.3,291.0 1870.6,288.1 1870.8,285.4 1871.0,283.1 1871.3,281.1 1871.5,279.5 1871.8,278.0 1872.0,276.8 1872.3,275.8 1872.5,275.1 1872.8,274.8 1873.0,275.0 1873.3,275.6 1873.5,275.3 1873.8,277.1 1874.0,278.8 1874.3,280.3 1874.5,281.6 1874.7,282.6 1875.0,283.4 1875.2,284.1 1875.5,284.8 1875.7,285.3 1876.0,285.9 1876.2,286.6 1876.5,287.2 1876.7,288.0 1877.0,289.0 1877.2,290.1 1877.5,291.6 1877.7,293.6 1878.0,295.9 1878.2,298.4 1878.5,301.3 1878.7,304.2 1878.9,307.3 1879.2,310.3 1879.4,313.3 1879.7,316.2 1879.9,319.2 1880.2,322.3 1880.4,325.6 1880.7,329.0 1880.9,332.5 1881.2,335.9 1881.4,339.3 1881.7,342.7 1881.9,345.9 1882.2,349.0 1882.4,351.9 1882.6,354.5 1882.9,356.9 1883.1,359.0 1883.4,360.9 1883.6,362.7 1883.9,364.5 1884.1,366.1 1884.4,367.7 1884.6,369.2 1884.9,370.8 1885.1,372.3 1885.4,373.9 1885.6,375.6 1885.9,377.3 1886.1,379.1 1886.3,381.1 1886.6,383.1 1886.8,385.1 1887.1,387.1 1887.3,389.2 1887.6,391.1 1887.8,393.0 1888.1,394.8 1888.3,396.5 1888.6,397.9 1888.8,399.3 1889.1,400.7 1889.3,402.0 1889.6,403.3 1889.8,404.5 1890.1,405.7 1890.3,406.9 1890.5,407.9 1890.8,409.0 1891.0,409.9 1891.3,410.7 1891.5,411.5 1891.8,412.1 1892.0,412.7 1892.3,413.2 1892.5,413.8 1892.8,414.3 1893.0,414.8 1893.3,415.3 1893.5,415.7 1893.8,416.0 1894.0,416.3 1894.2,416.4 1894.5,416.5 1894.7,416.4 1895.0,416.1 1895.2,415.5 1895.5,414.7 1895.7,413.9 1896.0,412.9 1896.2,412.0 1896.5,411.2 1896.7,410.5 1897.0,410.1 1897.2,409.8 1897.5,409.9 1897.7,410.0 1897.9,410.2 1898.2,410.4 1898.4,410.7 1898.7,410.9 1898.9,411.2 1899.2,411.3 1899.4,411.4 1899.7,411.6 1899.9,411.7 1900.2,411.8 1900.4,411.9 1900.7,411.9 1900.9,412.0 1901.2,411.8 1901.4,410.8 1901.6,408.2 1901.9,404.4 1902.1,400.2 1902.4,395.9 1902.6,391.4 1902.9,386.9 1903.1,382.3 1903.4,377.6 1903.6,372.9 1903.9,368.1 1904.1,363.3 1904.4,358.5 1904.6,353.8 1904.9,349.0 1905.1,344.2 1905.4,339.4 1905.6,334.5 1905.8,329.5 1906.1,324.5 1906.3,319.6 1906.6,314.8 1906.8,310.2 1907.1,306.0 1907.3,302.2 1907.6,298.6 1907.8,295.3 1908.1,292.1 1908.3,289.1 1908.6,286.4 1908.8,284.0 1909.1,281.9 1909.3,280.1 1909.5,278.6 1909.8,277.3 1910.0,276.2 1910.3,275.4 1910.5,274.9 1910.8,274.8 1911.0,275.2 1911.3,274.4 1911.5,276.2 1911.8,277.9 1912.0,279.4 1912.3,280.7 1912.5,281.7 1912.8,282.6 1913.0,283.3 1913.2,284.0 1913.5,284.5 1913.7,285.1 1914.0,285.7 1914.2,286.3 1914.5,287.0 1914.7,287.8 1915.0,288.8 1915.2,290.0 1915.5,291.7 1915.7,293.7 1916.0,296.1 1916.2,298.7 1916.5,301.4 1916.7,304.3 1917.0,307.2 1917.2,310.1 1917.4,312.8 1917.7,315.6 1917.9,318.5 1918.2,321.6 1918.4,324.8 1918.7,328.0 1918.9,331.3 1919.2,334.6 1919.4,337.8 1919.7,340.9 1919.9,343.9 1920.2,346.7 1920.4,349.3 1920.7,351.7 1920.9,353.8 1921.1,355.7 1921.4,357.5 1921.6,359.2 1921.9,360.8 1922.1,362.3 1922.4,363.8 1922.6,365.2 1922.9,366.7 1923.1,368.2 1923.4,369.7 1923.6,371.3 1923.9,373.0 1924.1,374.8 1924.4,376.7 1924.6,378.6 1924.8,380.5 1925.1,382.5 1925.3,384.4 1925.6,386.2 1925.8,388.0 1926.1,389.6 1926.3,391.1 1926.6,392.4 1926.8,393.7 1927.1,395.0 1927.3,396.2 1927.6,397.4 1927.8,398.6 1928.1,399.7 1928.3,400.7 1928.6,401.7 1928.8,402.6 1929.0,403.5 1929.3,404.2 1929.5,404.9 1929.8,405.4 1930.0,406.0 1930.3,406.5 1930.5,407.0 1930.8,407.5 1931.0,407.9 1931.3,408.3 1931.5,408.7 1931.8,409.0 1932.0,409.2 1932.3,409.3 1932.5,409.3 1932.7,409.1 1933.0,408.6 1933.2,407.9 1933.5,407.1 1933.7,406.2 1934.0,405.3 1934.2,404.4 1934.5,403.6 1934.7,403.1 1935.0,402.7 1935.2,402.6 1935.5,402.7 1935.7,402.9 1936.0,403.1 1936.2,403.4 1936.4,403.6 1936.7,403.9 1936.9,404.1 1937.2,404.2 1937.4,404.3 1937.7,404.4 1937.9,404.5 1938.2,404.6 1938.4,404.7 1938.7,404.8 1938.9,404.7 1939.2,404.1 1939.4,402.3 1939.7,399.3 1939.9,395.5 1940.1,391.6 1940.4,387.5 1940.6,383.4 1940.9,379.1 1941.1,374.8 1941.4,370.5 1941.6,366.1 1941.9,361.7 1942.1,357.2 1942.4,352.8 1942.6,348.4 1942.9,344.0 1943.1,339.6 1943.4,335.1 1943.6,330.5 1943.9,325.9 1944.1,321.2 1944.3,316.7 1944.6,312.4 1944.8,308.4 1945.1,304.7 1945.3,301.2 1945.6,298.1 1945.8,295.1 1946.1,292.2 1946.3,289.6 1946.6,287.2 1946.8,285.1 1947.1,283.4 1947.3,281.9 1947.6,280.6 1947.8,279.5 1948.0,278.6 1948.3,278.0 1948.5,277.7 1948.8,277.9 1949.0,278.5 1949.3,278.3 1949.5,279.9 1949.8,281.4 1950.0,282.8 1950.3,283.9 1950.5,284.7 1950.8,285.5 1951.0,286.1 1951.3,286.7 1951.5,287.2 1951.7,287.7 1952.0,288.3 1952.2,288.9 1952.5,289.6 1952.7,290.5 1953.0,291.5 1953.2,292.9 1953.5,294.7 1953.7,296.7 1954.0,299.1 1954.2,301.6 1954.5,304.3 1954.7,307.0 1955.0,309.7 1955.2,312.4 1955.5,314.9 1955.7,317.6 1955.9,320.4 1956.2,323.4 1956.4,326.4 1956.7,329.5 1956.9,332.6 1957.2,335.7 1957.4,338.6 1957.7,341.5 1957.9,344.3 1958.2,346.8 1958.4,349.1 1958.7,351.2 1958.9,353.1 1959.2,354.8 1959.4,356.4 1959.6,358.0 1959.9,359.4 1960.1,360.9 1960.4,362.2 1960.6,363.6 1960.9,365.0 1961.1,366.4 1961.4,367.9 1961.6,369.4 1961.9,371.1 1962.1,372.8 1962.4,374.6 1962.6,376.4 1962.9,378.3 1963.1,380.1 1963.3,381.8 1963.6,383.5 1963.8,385.1 1964.1,386.6 1964.3,387.9 1964.6,389.1 1964.8,390.3 1965.1,391.5 1965.3,392.6 1965.6,393.7 1965.8,394.8 1966.1,395.8 1966.3,396.8 1966.6,397.7 1966.8,398.5 1967.1,399.2 1967.3,399.9 1967.5,400.5 1967.8,401.0 1968.0,401.5 1968.3,402.0 1968.5,402.4 1968.8,402.9 1969.0,403.3 1969.3,403.6 1969.5,403.9 1969.8,404.1 1970.0,404.3 1970.3,404.4 1970.5,404.3 1970.8,403.9 1971.0,403.3 1971.2,402.5 1971.5,401.6 1971.7,400.7 1972.0,399.8 1972.2,399.0 1972.5,398.3 1972.7,397.9 1973.0,397.7 1973.2,397.7 1973.5,397.8 1973.7,398.0 1974.0,398.3 1974.2,398.5 1974.5,398.8 1974.7,399.0 1974.9,399.2 1975.2,399.3 1975.4,399.4 1975.7,399.5 1975.9,399.6 1976.2,399.7 1976.4,399.7 1976.7,399.4 1976.9,398.5 1977.2,396.3 1977.4,393.3 1977.7,389.8 1977.9,386.2 1978.2,382.5 1978.4,378.7 1978.6,374.8 1978.9,370.8 1979.1,366.8 1979.4,362.8 1979.6,358.7 1979.9,354.6 1980.1,350.5 1980.4,346.4 1980.6,342.3 1980.9,338.3 1981.1,334.1 1981.4,329.9 1981.6,325.7 1981.9,321.4 1982.1,317.1 1982.4,313.1 1982.6,309.2 1982.8,305.6 1983.1,302.3 1983.3,299.3 1983.6,296.5 1983.8,293.8 1984.1,291.2 1984.3,288.9 1984.6,286.9 1984.8,285.1 1985.1,283.6 1985.3,282.3 1985.6,281.2 1985.8,280.3 1986.1,279.6 1986.3,279.2 1986.5,279.2 1986.8,279.6 1987.0,279.0 1987.3,280.6 1987.5,282.1 1987.8,283.4 1988.0,284.6 1988.3,285.5 1988.5,286.2 1988.8,286.9 1989.0,287.4 1989.3,287.9 1989.5,288.4 1989.8,288.9 1990.0,289.5 1990.2,290.1 1990.5,290.9 1990.7,291.8 1991.0,292.9 1991.2,294.4 1991.5,296.3 1991.7,298.4 1992.0,300.7 1992.2,303.2 1992.5,305.7 1992.7,308.3 1993.0,310.9 1993.2,313.3 1993.5,315.8 1993.7,318.4 1994.0,321.2 1994.2,324.0 1994.4,326.9 1994.7,329.8 1994.9,332.7 1995.2,335.6 1995.4,338.4 1995.7,341.1 1995.9,343.6 1996.2,345.9 1996.4,347.9 1996.7,349.8 1996.9,351.5 1997.2,353.1 1997.4,354.6 1997.7,356.0 1997.9,357.3 1998.1,358.6 1998.4,360.0 1998.6,361.3 1998.9,362.6 1999.1,364.0 1999.4,365.4 1999.6,366.9 1999.9,368.5 2000.1,370.2 2000.4,371.9 2000.6,373.6 2000.9,375.4 2001.1,377.0 2001.4,378.7 2001.6,380.2 2001.8,381.7 2002.1,383.0 2002.3,384.2 2002.6,385.3 2002.8,386.4 2003.1,387.5 2003.3,388.6 2003.6,389.6 2003.8,390.6 2004.1,391.6 2004.3,392.4 2004.6,393.2 2004.8,394.0 2005.1,394.6 2005.3,395.2 2005.6,395.7 2005.8,396.2 2006.0,396.7 2006.3,397.1 2006.5,397.6 2006.8,398.0 2007.0,398.3 2007.3,398.6 2007.5,398.9 2007.8,399.0 2008.0,399.1 2008.3,399.1 2008.5,398.9 2008.8,398.3 2009.0,397.6 2009.3,396.8 2009.5,395.9 2009.7,395.0 2010.0,394.2 2010.2,393.4 2010.5,392.8 2010.7,392.5 2011.0,392.5 2011.2,392.6 2011.5,392.7 2011.7,393.0 2012.0,393.2 2012.2,393.5 2012.5,393.7 2012.7,393.9 2013.0,394.0 2013.2,394.1 2013.4,394.2 2013.7,394.2 2013.9,393.9 2014.2,393.0 2014.4,391.3 2014.7,388.8 2014.9,386.0 2015.2,383.0 2015.4,380.0 2015.7,376.9 2015.9,373.7 2016.2,370.5 2016.4,367.1 2016.7,363.8 2016.9,360.3 2017.1,356.9 2017.4,353.4 2017.6,349.8 2017.9,346.3 2018.1,342.8 2018.4,339.3 2018.6,335.8 2018.9,332.3 2019.1,328.7 2019.4,325.0 2019.6,321.3 2019.9,317.7 2020.1,314.1 2020.4,310.7 2020.6,307.5 2020.9,304.5 2021.1,301.8 2021.3,299.3 2021.6,296.9 2021.8,294.7 2022.1,292.6 2022.3,290.7 2022.6,289.1 2022.8,287.7 2023.1,286.5 2023.3,285.5 2023.6,284.7 2023.8,284.0 2024.1,283.5 2024.3,283.3 2024.6,283.5 2024.8,284.0 2025.0,284.0 2025.3,285.4 2025.5,286.8 2025.8,287.9 2026.0,288.8 2026.3,289.6 2026.5,290.2 2026.8,290.8 2027.0,291.3 2027.3,291.7 2027.5,292.2 2027.8,292.7 2028.0,293.3 2028.3,293.9 2028.5,294.7 2028.7,295.6 2029.0,296.8 2029.2,298.4 2029.5,300.3 2029.7,302.3 2030.0,304.6 2030.2,306.9 2030.5,309.3 2030.7,311.7 2031.0,314.0 2031.2,316.3 2031.5,318.6 2031.7,321.1 2032.0,323.7 2032.2,326.4 2032.5,329.1 2032.7,331.8 2032.9,334.5 2033.2,337.1 2033.4,339.7 2033.7,342.1 2033.9,344.3 2034.2,346.3 2034.4,348.1 2034.7,349.8 2034.9,351.3 2035.2,352.7 2035.4,354.0 2035.7,355.3 2035.9,356.5 2036.2,357.8 2036.4,359.0 2036.6,360.2 2036.9,361.4 2037.1,362.7 2037.4,364.1 2037.6,365.6 2037.9,367.1 2038.1,368.7 2038.4,370.3 2038.6,371.9 2038.9,373.5 2039.1,375.0 2039.4,376.5 2039.6,377.9 2039.9,379.1 2040.1,380.3 2040.3,381.4 2040.6,382.4 2040.8,383.5 2041.1,384.5 2041.3,385.4 2041.6,386.4 2041.8,387.3 2042.1,388.1 2042.3,388.9 2042.6,389.6 2042.8,390.2 2043.1,390.8 2043.3,391.3 2043.6,391.7 2043.8,392.2 2044.1,392.6 2044.3,393.0 2044.5,393.4 2044.8,393.8 2045.0,394.1 2045.3,394.3 2045.5,394.5 2045.8,394.6 2046.0,394.7 2046.3,394.6 2046.5,394.1 2046.8,393.5 2047.0,392.7 2047.3,391.9 2047.5,390.9 2047.8,390.1 2048.0,389.3 2048.2,388.6 2048.5,388.2 2048.7,388.0 2049.0,388.0 2049.2,388.2 2049.5,388.4 2049.7,388.6 2050.0,388.9 2050.2,389.1 2050.5,389.3 2050.7,389.4 2051.0,389.3 2051.2,389.0 2051.5,388.2 2051.7,386.7 2051.9,384.7 2052.2,382.4 2052.4,379.9 2052.7,377.4 2052.9,374.7 2053.2,372.1 2053.4,369.4 2053.7,366.7 2053.9,363.9 2054.2,361.1 2054.4,358.1 2054.7,355.2 2054.9,352.2 2055.2,349.2 2055.4,346.1 2055.6,343.1 2055.9,340.0 2056.1,337.0 2056.4,333.9 2056.6,330.9 2056.9,327.8 2057.1,324.6 2057.4,321.5 2057.6,318.3 2057.9,315.1 2058.1,312.1 2058.4,309.2 2058.6,306.6 2058.9,304.1 2059.1,301.9 2059.4,299.8 2059.6,297.8 2059.8,295.9 2060.1,294.2 2060.3,292.6 2060.6,291.3 2060.8,290.2 2061.1,289.3 2061.3,288.5 2061.6,287.8 2061.8,287.3 2062.1,287.1 2062.3,287.1 2062.6,287.4 2062.8,287.0 2063.1,288.4 2063.3,289.7" fill="none" stroke="#6b6b6b" stroke-width="1.4" stroke-linejoin="round" clip-path="url(#clc)"/>
<path d="M1520.60,538.60V532.80 M1656.28,538.60V532.80 M1791.95,538.60V532.80 M1927.62,538.60V532.80 M2063.30,538.60V532.80 M1520.60,166.40V172.20 M1656.28,166.40V172.20 M1791.95,166.40V172.20 M1927.62,166.40V172.20 M2063.30,166.40V172.20 M1520.60,538.60H1526.40 M2063.30,538.60H2057.50 M1520.60,414.53H1526.40 M2063.30,414.53H2057.50 M1520.60,290.47H1526.40 M2063.30,290.47H2057.50 M1520.60,166.40H1526.40 M2063.30,166.40H2057.50" stroke="#6e6e6e" stroke-width="1.2" fill="none"/>
<rect x="1520.60" y="166.40" width="542.70" height="372.20" fill="none" stroke="#6e6e6e" stroke-width="1.2"/>
<text x="1499.61" y="548.06" font-size="22.40">0</text>
<text x="1487.18" y="423.99" font-size="22.40">50</text>
<text x="1474.69" y="299.92" font-size="22.40">100</text>
<text x="1474.69" y="175.86" font-size="22.40">150</text>
<text x="1514.36" y="568.59" font-size="22.40">0</text>
<text x="1650.06" y="568.59" font-size="22.40">5</text>
<text x="1779.10" y="568.59" font-size="22.40">10</text>
<text x="1914.80" y="568.59" font-size="22.40">15</text>
<text x="2050.73" y="568.59" font-size="22.40">20</text>
<text x="1513.76" y="155.00" font-size="22.40">0</text>
<text x="1649.15" y="155.00" font-size="22.40">1</text>
<text x="1785.13" y="155.00" font-size="22.40">2</text>
<text x="1920.87" y="155.00" font-size="22.40">3</text>
<text x="2056.54" y="155.00" font-size="22.40">4</text>
<text x="1667.24" y="125.00" font-size="25.87" textLength="250.98" lengthAdjust="spacingAndGlyphs">Actuation Volume (mL)</text>
<text x="1748.54" y="598.60" font-size="25.73" textLength="90.39" lengthAdjust="spacingAndGlyphs">Time (s)</text>
<text transform="translate(1469.50,466.43) rotate(-90)" x="0" y="0" font-size="30.38" textLength="232.70" lengthAdjust="spacingAndGlyphs">Pressure (mmHg)</text>
<rect x="1530.4" y="176.4" width="90.2" height="55.1" fill="#fff" stroke="#6e6e6e" stroke-width="1.2"/>
<line x1="1536" y1="191.5" x2="1573" y2="191.5" stroke="#6a3530" stroke-width="1.9"/>
<line x1="1536" y1="216.9" x2="1573" y2="216.9" stroke="#707070" stroke-width="1.5"/>
<text x="1576.12" y="198.80" font-size="21.22" textLength="39.29" lengthAdjust="spacingAndGlyphs">LVP</text>
<text x="1577.15" y="224.20" font-size="21.22" textLength="38.22" lengthAdjust="spacingAndGlyphs">AoP</text>
<clipPath id="cld"><rect x="81.4" y="851.8" width="565.1" height="390.2"/></clipPath>
<path d="M81.4,1138.7L81.6,1132.9 81.9,1125.2 82.1,1117.5 82.3,1109.9 82.6,1102.6 82.8,1095.4 83.0,1088.5 83.3,1081.6 83.5,1075.1 83.8,1069.1 84.0,1064.0 84.2,1059.9 84.5,1056.6 84.7,1054.2 84.9,1052.7 85.2,1052.3 85.4,1052.6 85.6,1053.2 85.9,1053.9 86.1,1054.7 86.3,1055.5 86.6,1056.4 86.8,1057.5 87.1,1058.9 87.3,1060.9 87.5,1063.8 87.8,1068.0 88.0,1073.2 88.2,1079.2 88.5,1085.8 88.7,1093.1 88.9,1101.3 89.2,1110.8 89.4,1121.0 89.6,1131.5 89.9,1142.0 90.1,1152.3 90.4,1162.8 90.6,1173.1 90.8,1182.7 91.1,1191.4 91.3,1199.3 91.5,1206.6 91.8,1213.4 92.0,1219.4 92.2,1223.9 92.5,1226.8 92.7,1228.4 92.9,1229.2 93.2,1229.8 93.4,1230.2 93.6,1230.4 93.9,1230.3 94.1,1229.9 94.4,1229.3 94.6,1228.5 94.8,1227.8 95.1,1227.2 95.3,1226.6 95.5,1226.1 95.8,1225.6 96.0,1225.3 96.2,1225.1 96.5,1225.0 96.7,1224.9 96.9,1224.8 97.2,1224.7 97.4,1224.6 97.7,1224.5 97.9,1224.4 98.1,1224.3 98.4,1224.2 98.6,1224.0 98.8,1223.9 99.1,1223.7 99.3,1223.4 99.5,1223.0 99.8,1222.5 100.0,1221.9 100.2,1221.1 100.5,1220.3 100.7,1219.3 101.0,1218.2 101.2,1217.0 101.4,1215.6 101.7,1213.9 101.9,1211.8 102.1,1209.2 102.4,1206.2 102.6,1202.8 102.8,1198.8 103.1,1194.2 103.3,1188.2 103.5,1180.6 103.8,1171.6 104.0,1161.9 104.2,1151.9 104.5,1141.9 104.7,1131.7 105.0,1121.2 105.2,1110.6 105.4,1100.7 105.7,1091.8 105.9,1084.0 106.1,1077.1 106.4,1070.8 106.6,1065.4 106.8,1060.8 107.1,1057.0 107.3,1054.1 107.5,1052.1 107.8,1051.2 108.0,1051.2 108.3,1051.7 108.5,1052.3 108.7,1053.1 109.0,1053.9 109.2,1054.7 109.4,1055.7 109.7,1056.9 109.9,1058.6 110.1,1061.0 110.4,1064.6 110.6,1069.3 110.8,1075.0 111.1,1081.4 111.3,1088.3 111.6,1096.0 111.8,1105.0 112.0,1114.9 112.3,1125.4 112.5,1136.0 112.7,1146.4 113.0,1156.9 113.2,1167.4 113.4,1177.5 113.7,1186.8 113.9,1195.1 114.1,1202.7 114.4,1209.9 114.6,1216.4 114.8,1221.7 115.1,1225.5 115.3,1227.7 115.6,1228.8 115.8,1229.5 116.0,1230.1 116.3,1230.4 116.5,1230.4 116.7,1230.2 117.0,1229.6 117.2,1228.9 117.4,1228.2 117.7,1227.5 117.9,1226.9 118.1,1226.3 118.4,1225.8 118.6,1225.4 118.9,1225.2 119.1,1225.0 119.3,1224.9 119.6,1224.8 119.8,1224.7 120.0,1224.7 120.3,1224.6 120.5,1224.5 120.7,1224.4 121.0,1224.2 121.2,1224.1 121.4,1224.0 121.7,1223.8 121.9,1223.5 122.2,1223.2 122.4,1222.8 122.6,1222.2 122.9,1221.5 123.1,1220.7 123.3,1219.8 123.6,1218.8 123.8,1217.6 124.0,1216.3 124.3,1214.8 124.5,1212.9 124.7,1210.6 125.0,1207.8 125.2,1204.5 125.4,1200.8 125.7,1196.6 125.9,1191.3 126.2,1184.5 126.4,1176.2 126.6,1166.7 126.9,1156.8 127.1,1146.7 127.3,1136.6 127.6,1126.2 127.8,1115.5 128.0,1105.2 128.3,1095.7 128.5,1087.4 128.7,1079.9 129.0,1073.3 129.2,1067.4 129.5,1062.3 129.7,1058.1 129.9,1054.8 130.2,1052.3 130.4,1050.8 130.6,1050.4 130.9,1050.7 131.1,1051.2 131.3,1052.0 131.6,1052.7 131.8,1053.5 132.0,1054.5 132.3,1055.6 132.5,1057.0 132.8,1059.0 133.0,1061.9 133.2,1066.1 133.5,1071.4 133.7,1077.4 133.9,1084.1 134.2,1091.4 134.4,1099.7 134.6,1109.2 134.9,1119.6 135.1,1130.2 135.3,1140.8 135.6,1151.2 135.8,1161.8 136.0,1172.2 136.3,1182.0 136.5,1190.8 136.8,1198.8 137.0,1206.2 137.2,1213.1 137.5,1219.1 137.7,1223.8 137.9,1226.7 138.2,1228.3 138.4,1229.2 138.6,1229.8 138.9,1230.2 139.1,1230.4 139.3,1230.3 139.6,1229.9 139.8,1229.3 140.1,1228.5 140.3,1227.8 140.5,1227.2 140.8,1226.6 141.0,1226.1 141.2,1225.6 141.5,1225.3 141.7,1225.1 141.9,1225.0 142.2,1224.9 142.4,1224.8 142.6,1224.7 142.9,1224.6 143.1,1224.5 143.4,1224.4 143.6,1224.3 143.8,1224.2 144.1,1224.0 144.3,1223.9 144.5,1223.7 144.8,1223.4 145.0,1223.0 145.2,1222.5 145.5,1221.9 145.7,1221.2 145.9,1220.3 146.2,1219.3 146.4,1218.2 146.6,1217.0 146.9,1215.6 147.1,1213.9 147.4,1211.8 147.6,1209.2 147.8,1206.2 148.1,1202.7 148.3,1198.8 148.5,1194.1 148.8,1188.0 149.0,1180.4 149.2,1171.4 149.5,1161.6 149.7,1151.5 149.9,1141.4 150.2,1131.1 150.4,1120.4 150.7,1109.8 150.9,1099.8 151.1,1090.8 151.4,1082.9 151.6,1075.8 151.8,1069.5 152.1,1063.9 152.3,1059.3 152.5,1055.5 152.8,1052.5 153.0,1050.5 153.2,1049.5 153.5,1049.5 153.7,1050.0 154.0,1050.6 154.2,1051.4 154.4,1052.2 154.7,1053.0 154.9,1054.0 155.1,1055.3 155.4,1056.9 155.6,1059.4 155.8,1062.9 156.1,1067.7 156.3,1073.4 156.5,1079.8 156.8,1086.8 157.0,1094.6 157.2,1103.5 157.5,1113.6 157.7,1124.2 158.0,1134.9 158.2,1145.4 158.4,1156.0 158.7,1166.6 158.9,1176.8 159.1,1186.2 159.4,1194.6 159.6,1202.3 159.8,1209.5 160.1,1216.1 160.3,1221.5 160.5,1225.4 160.8,1227.6 161.0,1228.8 161.3,1229.5 161.5,1230.0 161.7,1230.3 162.0,1230.4 162.2,1230.2 162.4,1229.6 162.7,1228.9 162.9,1228.2 163.1,1227.5 163.4,1226.9 163.6,1226.3 163.8,1225.8 164.1,1225.4 164.3,1225.2 164.6,1225.0 164.8,1224.9 165.0,1224.8 165.3,1224.8 165.5,1224.7 165.7,1224.6 166.0,1224.5 166.2,1224.4 166.4,1224.2 166.7,1224.1 166.9,1224.0 167.1,1223.8 167.4,1223.5 167.6,1223.2 167.8,1222.8 168.1,1222.3 168.3,1221.6 168.6,1220.8 168.8,1219.8 169.0,1218.8 169.3,1217.7 169.5,1216.4 169.7,1214.8 170.0,1212.9 170.2,1210.5 170.4,1207.6 170.7,1204.3 170.9,1200.5 171.1,1196.1 171.4,1190.7 171.6,1183.7 171.9,1175.2 172.1,1165.4 172.3,1155.2 172.6,1144.8 172.8,1134.4 173.0,1123.7 173.3,1112.7 173.5,1102.0 173.7,1092.2 174.0,1083.6 174.2,1075.9 174.4,1069.1 174.7,1063.0 174.9,1057.7 175.2,1053.4 175.4,1049.9 175.6,1047.3 175.9,1045.8 176.1,1045.3 176.3,1045.6 176.6,1046.2 176.8,1046.9 177.0,1047.7 177.3,1048.5 177.5,1049.5 177.7,1050.6 178.0,1052.0 178.2,1054.1 178.4,1057.1 178.7,1061.4 178.9,1066.7 179.2,1073.0 179.4,1079.8 179.6,1087.3 179.9,1095.8 180.1,1105.6 180.3,1116.2 180.6,1127.1 180.8,1138.0 181.0,1148.7 181.3,1159.6 181.5,1170.3 181.7,1180.4 182.0,1189.5 182.2,1197.7 182.5,1205.3 182.7,1212.4 182.9,1218.7 183.2,1223.5 183.4,1226.6 183.6,1228.2 183.9,1229.1 184.1,1229.8 184.3,1230.2 184.6,1230.4 184.8,1230.3 185.0,1229.9 185.3,1229.3 185.5,1228.6 185.8,1227.9 186.0,1227.2 186.2,1226.6 186.5,1226.1 186.7,1225.6 186.9,1225.3 187.2,1225.1 187.4,1225.0 187.6,1224.9 187.9,1224.8 188.1,1224.7 188.3,1224.6 188.6,1224.5 188.8,1224.4 189.0,1224.3 189.3,1224.2 189.5,1224.0 189.8,1223.9 190.0,1223.7 190.2,1223.4 190.5,1223.0 190.7,1222.6 190.9,1221.9 191.2,1221.2 191.4,1220.3 191.6,1219.3 191.9,1218.2 192.1,1217.0 192.3,1215.7 192.6,1214.0 192.8,1211.8 193.1,1209.3 193.3,1206.2 193.5,1202.7 193.8,1198.8 194.0,1194.0 194.2,1188.0 194.5,1180.4 194.7,1171.4 194.9,1161.5 195.2,1151.3 195.4,1141.2 195.6,1130.8 195.9,1120.1 196.1,1109.4 196.4,1099.3 196.6,1090.2 196.8,1082.3 197.1,1075.1 197.3,1068.7 197.5,1063.2 197.8,1058.5 198.0,1054.6 198.2,1051.6 198.5,1049.6 198.7,1048.6 198.9,1048.5 199.2,1049.0 199.4,1049.6 199.6,1050.4 199.9,1051.2 200.1,1052.1 200.4,1053.1 200.6,1054.3 200.8,1056.0 201.1,1058.4 201.3,1061.9 201.5,1066.7 201.8,1072.4 202.0,1078.8 202.2,1085.8 202.5,1093.6 202.7,1102.6 202.9,1112.7 203.2,1123.4 203.4,1134.1 203.7,1144.7 203.9,1155.3 204.1,1166.0 204.4,1176.3 204.6,1185.7 204.8,1194.2 205.1,1201.9 205.3,1209.2 205.5,1215.9 205.8,1221.4 206.0,1225.3 206.2,1227.5 206.5,1228.7 206.7,1229.5 207.0,1230.0 207.2,1230.3 207.4,1230.4 207.7,1230.2 207.9,1229.6 208.1,1228.9 208.4,1228.2 208.6,1227.5 208.8,1226.9 209.1,1226.3 209.3,1225.8 209.5,1225.4 209.8,1225.2 210.0,1225.0 210.2,1224.9 210.5,1224.8 210.7,1224.8 211.0,1224.7 211.2,1224.6 211.4,1224.5 211.7,1224.4 211.9,1224.2 212.1,1224.1 212.4,1224.0 212.6,1223.8 212.8,1223.6 213.1,1223.2 213.3,1222.8 213.5,1222.3 213.8,1221.6 214.0,1220.8 214.3,1219.9 214.5,1218.8 214.7,1217.7 215.0,1216.4 215.2,1214.9 215.4,1213.0 215.7,1210.7 215.9,1207.9 216.1,1204.6 216.4,1200.9 216.6,1196.7 216.8,1191.5 217.1,1184.7 217.3,1176.4 217.6,1166.9 217.8,1156.9 218.0,1146.8 218.3,1136.6 218.5,1126.2 218.7,1115.5 219.0,1105.0 219.2,1095.4 219.4,1087.0 219.7,1079.5 219.9,1072.8 220.1,1066.8 220.4,1061.7 220.6,1057.4 220.8,1054.0 221.1,1051.4 221.3,1049.9 221.6,1049.4 221.8,1049.7 222.0,1050.3 222.3,1051.0 222.5,1051.7 222.7,1052.6 223.0,1053.5 223.2,1054.6 223.4,1056.0 223.7,1057.9 223.9,1060.9 224.1,1065.0 224.4,1070.2 224.6,1076.3 224.9,1083.0 225.1,1090.3 225.3,1098.6 225.6,1108.1 225.8,1118.5 226.0,1129.2 226.3,1139.8 226.5,1150.3 226.7,1160.9 227.0,1171.4 227.2,1181.3 227.4,1190.2 227.7,1198.2 227.9,1205.7 228.2,1212.7 228.4,1218.8 228.6,1223.5 228.9,1226.6 229.1,1228.2 229.3,1229.2 229.6,1229.8 229.8,1230.2 230.0,1230.4 230.3,1230.3 230.5,1229.9 230.7,1229.3 231.0,1228.6 231.2,1227.9 231.4,1227.2 231.7,1226.6 231.9,1226.1 232.2,1225.6 232.4,1225.3 232.6,1225.1 232.9,1225.0 233.1,1224.9 233.3,1224.8 233.6,1224.7 233.8,1224.6 234.0,1224.5 234.3,1224.4 234.5,1224.3 234.7,1224.2 235.0,1224.0 235.2,1223.9 235.5,1223.7 235.7,1223.4 235.9,1223.1 236.2,1222.6 236.4,1222.0 236.6,1221.2 236.9,1220.3 237.1,1219.4 237.3,1218.3 237.6,1217.1 237.8,1215.7 238.0,1214.0 238.3,1211.9 238.5,1209.2 238.8,1206.2 239.0,1202.7 239.2,1198.7 239.5,1193.9 239.7,1187.9 239.9,1180.2 240.2,1171.1 240.4,1161.1 240.6,1150.8 240.9,1140.6 241.1,1130.1 241.3,1119.3 241.6,1108.4 241.8,1098.2 242.0,1089.0 242.3,1080.9 242.5,1073.7 242.8,1067.2 243.0,1061.5 243.2,1056.7 243.5,1052.8 243.7,1049.8 243.9,1047.7 244.2,1046.7 244.4,1046.6 244.6,1047.0 244.9,1047.7 245.1,1048.5 245.3,1049.3 245.6,1050.1 245.8,1051.1 246.1,1052.4 246.3,1054.1 246.5,1056.5 246.8,1060.1 247.0,1064.8 247.2,1070.6 247.5,1077.1 247.7,1084.1 247.9,1092.0 248.2,1101.0 248.4,1111.2 248.6,1122.0 248.9,1132.8 249.1,1143.5 249.4,1154.3 249.6,1165.0 249.8,1175.5 250.1,1185.1 250.3,1193.6 250.5,1201.5 250.8,1208.9 251.0,1215.6 251.2,1221.2 251.5,1225.1 251.7,1227.5 251.9,1228.7 252.2,1229.5 252.4,1230.0 252.6,1230.3 252.9,1230.4 253.1,1230.2 253.4,1229.7 253.6,1229.0 253.8,1228.2 254.1,1227.6 254.3,1226.9 254.5,1226.4 254.8,1225.8 255.0,1225.5 255.2,1225.2 255.5,1225.0 255.7,1224.9 255.9,1224.8 256.2,1224.8 256.4,1224.7 256.7,1224.6 256.9,1224.5 257.1,1224.4 257.4,1224.2 257.6,1224.1 257.8,1224.0 258.1,1223.8 258.3,1223.6 258.5,1223.3 258.8,1222.8 259.0,1222.3 259.2,1221.6 259.5,1220.8 259.7,1219.9 260.0,1218.9 260.2,1217.7 260.4,1216.4 260.7,1214.9 260.9,1212.9 261.1,1210.5 261.4,1207.6 261.6,1204.2 261.8,1200.4 262.1,1196.0 262.3,1190.5 262.5,1183.5 262.8,1174.8 263.0,1165.0 263.2,1154.6 263.5,1144.0 263.7,1133.4 264.0,1122.5 264.2,1111.3 264.4,1100.4 264.7,1090.4 264.9,1081.6 265.1,1073.7 265.4,1066.7 265.6,1060.4 265.8,1055.0 266.1,1050.6 266.3,1047.0 266.5,1044.3 266.8,1042.7 267.0,1042.2 267.3,1042.4 267.5,1043.0 267.7,1043.7 268.0,1044.5 268.2,1045.4 268.4,1046.3 268.7,1047.5 268.9,1048.9 269.1,1051.0 269.4,1054.0 269.6,1058.3 269.8,1063.7 270.1,1070.0 270.3,1076.9 270.6,1084.4 270.8,1093.1 271.0,1102.9 271.3,1113.7 271.5,1124.9 271.7,1135.9 272.0,1146.8 272.2,1157.9 272.4,1168.8 272.7,1179.1 272.9,1188.4 273.1,1196.7 273.4,1204.5 273.6,1211.8 273.8,1218.2 274.1,1223.2 274.3,1226.4 274.6,1228.1 274.8,1229.1 275.0,1229.7 275.3,1230.2 275.5,1230.4 275.7,1230.3 276.0,1230.0 276.2,1229.3 276.4,1228.6 276.7,1227.9 276.9,1227.3 277.1,1226.7 277.4,1226.1 277.6,1225.6 277.9,1225.3 278.1,1225.1 278.3,1225.0 278.6,1224.9 278.8,1224.8 279.0,1224.7 279.3,1224.6 279.5,1224.5 279.7,1224.4 280.0,1224.3 280.2,1224.2 280.4,1224.0 280.7,1223.9 280.9,1223.7 281.2,1223.4 281.4,1223.1 281.6,1222.6 281.9,1222.0 282.1,1221.2 282.3,1220.4 282.6,1219.4 282.8,1218.3 283.0,1217.1 283.3,1215.7 283.5,1214.0 283.7,1211.8 284.0,1209.0 284.2,1205.8 284.4,1202.1 284.7,1197.9 284.9,1193.0 285.2,1186.7 285.4,1178.6 285.6,1169.1 285.9,1158.7 286.1,1147.9 286.3,1137.1 286.6,1126.2 286.8,1114.9 287.0,1103.5 287.3,1092.7 287.5,1083.0 287.7,1074.5 288.0,1066.9 288.2,1060.1 288.5,1054.1 288.7,1049.1 288.9,1045.0 289.2,1041.8 289.4,1039.5 289.6,1038.5 289.9,1038.4 290.1,1038.8 290.3,1039.5 290.6,1040.3 290.8,1041.1 291.0,1042.0 291.3,1043.1 291.5,1044.4 291.8,1046.1 292.0,1048.6 292.2,1052.3 292.5,1057.3 292.7,1063.3 292.9,1070.0 293.2,1077.4 293.4,1085.6 293.6,1095.0 293.9,1105.6 294.1,1116.9 294.3,1128.2 294.6,1139.4 294.8,1150.6 295.0,1161.8 295.3,1172.8 295.5,1182.8 295.8,1191.8 296.0,1200.0 296.2,1207.7 296.5,1214.8 296.7,1220.6 296.9,1224.8 297.2,1227.3 297.4,1228.6 297.6,1229.4 297.9,1230.0 298.1,1230.3 298.3,1230.4 298.6,1230.2 298.8,1229.7 299.1,1229.0 299.3,1228.2 299.5,1227.6 299.8,1227.0 300.0,1226.4 300.2,1225.9 300.5,1225.5 300.7,1225.2 300.9,1225.0 301.2,1224.9 301.4,1224.8 301.6,1224.8 301.9,1224.7 302.1,1224.6 302.4,1224.5 302.6,1224.4 302.8,1224.2 303.1,1224.1 303.3,1224.0 303.5,1223.8 303.8,1223.6 304.0,1223.3 304.2,1222.9 304.5,1222.3 304.7,1221.6 304.9,1220.9 305.2,1219.9 305.4,1218.9 305.6,1217.8 305.9,1216.5 306.1,1214.9 306.4,1212.8 306.6,1210.3 306.8,1207.1 307.1,1203.5 307.3,1199.4 307.5,1194.6 307.8,1188.8 308.0,1181.3 308.2,1172.0 308.5,1161.5 308.7,1150.3 308.9,1139.0 309.2,1127.6 309.4,1115.9 309.7,1103.9 309.9,1092.2 310.1,1081.4 310.4,1071.8 310.6,1063.4 310.8,1055.8 311.1,1049.1 311.3,1043.3 311.5,1038.5 311.8,1034.6 312.0,1031.7 312.2,1029.9 312.5,1029.3 312.7,1029.6 313.0,1030.2 313.2,1031.0 313.4,1031.8 313.7,1032.8 313.9,1033.8 314.1,1035.0 314.4,1036.5 314.6,1038.7 314.8,1041.9 315.1,1046.4 315.3,1052.2 315.5,1058.9 315.8,1066.2 316.0,1074.3 316.2,1083.5 316.5,1094.0 316.7,1105.5 317.0,1117.4 317.2,1129.2 317.4,1140.8 317.7,1152.6 317.9,1164.3 318.1,1175.3 318.4,1185.3 318.6,1194.2 318.8,1202.6 319.1,1210.4 319.3,1217.2 319.5,1222.6 319.8,1226.0 320.0,1227.9 320.3,1229.0 320.5,1229.7 320.7,1230.2 321.0,1230.4 321.2,1230.3 321.4,1230.0 321.7,1229.3 321.9,1228.6 322.1,1227.9 322.4,1227.3 322.6,1226.7 322.8,1226.1 323.1,1225.6 323.3,1225.3 323.6,1225.1 323.8,1225.0 324.0,1224.9 324.3,1224.8 324.5,1224.7 324.7,1224.6 325.0,1224.5 325.2,1224.4 325.4,1224.3 325.7,1224.2 325.9,1224.0 326.1,1223.9 326.4,1223.7 326.6,1223.4 326.8,1223.1 327.1,1222.6 327.3,1222.0 327.6,1221.3 327.8,1220.4 328.0,1219.5 328.3,1218.4 328.5,1217.2 328.7,1215.7 329.0,1213.9 329.2,1211.5 329.4,1208.6 329.7,1205.0 329.9,1201.0 330.1,1196.4 330.4,1191.0 330.6,1184.1 330.9,1175.4 331.1,1165.0 331.3,1153.7 331.6,1141.9 331.8,1130.1 332.0,1118.1 332.3,1105.8 332.5,1093.3 332.7,1081.5 333.0,1070.9 333.2,1061.6 333.4,1053.3 333.7,1045.8 333.9,1039.3 334.2,1033.8 334.4,1029.3 334.6,1025.7 334.9,1023.2 335.1,1022.0 335.3,1021.9 335.6,1022.4 335.8,1023.1 336.0,1024.0 336.3,1024.9 336.5,1025.9 336.7,1027.0 337.0,1028.4 337.2,1030.3 337.4,1033.0 337.7,1036.9 337.9,1042.3 338.2,1048.8 338.4,1056.1 338.6,1064.1 338.9,1072.9 339.1,1083.1 339.3,1094.6 339.6,1106.8 339.8,1119.1 340.0,1131.3 340.3,1143.4 340.5,1155.7 340.7,1167.5 341.0,1178.5 341.2,1188.2 341.5,1197.2 341.7,1205.6 341.9,1213.2 342.2,1219.6 342.4,1224.2 342.6,1227.0 342.9,1228.4 343.1,1229.3 343.3,1229.9 343.6,1230.3 343.8,1230.4 344.0,1230.2 344.3,1229.7 344.5,1229.0 344.8,1228.3 345.0,1227.6 345.2,1227.0 345.5,1226.4 345.7,1225.9 345.9,1225.5 346.2,1225.2 346.4,1225.0 346.6,1224.9 346.9,1224.8 347.1,1224.8 347.3,1224.7 347.6,1224.6 347.8,1224.5 348.0,1224.4 348.3,1224.2 348.5,1224.1 348.8,1224.0 349.0,1223.8 349.2,1223.6 349.5,1223.3 349.7,1222.9 349.9,1222.3 350.2,1221.7 350.4,1220.9 350.6,1220.0 350.9,1218.9 351.1,1217.8 351.3,1216.5 351.6,1214.9 351.8,1212.8 352.1,1210.1 352.3,1206.9 352.5,1203.1 352.8,1198.8 353.0,1193.9 353.2,1187.9 353.5,1180.1 353.7,1170.5 353.9,1159.6 354.2,1147.9 354.4,1136.2 354.6,1124.3 354.9,1112.2 355.1,1099.7 355.4,1087.5 355.6,1076.2 355.8,1066.3 356.1,1057.5 356.3,1049.5 356.5,1042.5 356.8,1036.5 357.0,1031.4 357.2,1027.4 357.5,1024.3 357.7,1022.5 357.9,1021.8 358.2,1022.1 358.4,1022.7 358.6,1023.5 358.9,1024.4 359.1,1025.4 359.4,1026.4 359.6,1027.6 359.8,1029.2 360.1,1031.4 360.3,1034.7 360.5,1039.4 360.8,1045.3 361.0,1052.3 361.2,1059.9 361.5,1068.3 361.7,1077.7 361.9,1088.6 362.2,1100.5 362.4,1112.9 362.7,1125.1 362.9,1137.2 363.1,1149.4 363.4,1161.5 363.6,1173.0 363.8,1183.4 364.1,1192.7 364.3,1201.3 364.5,1209.4 364.8,1216.6 365.0,1222.1 365.2,1225.8 365.5,1227.8 365.7,1228.9 366.0,1229.6 366.2,1230.1 366.4,1230.4 366.7,1230.3 366.9,1230.0 367.1,1229.4 367.4,1228.6 367.6,1227.9 367.8,1227.3 368.1,1226.7 368.3,1226.1 368.5,1225.7 368.8,1225.3 369.0,1225.1 369.3,1225.0 369.5,1224.9 369.7,1224.8 370.0,1224.7 370.2,1224.6 370.4,1224.5 370.7,1224.4 370.9,1224.3 371.1,1224.2 371.4,1224.0 371.6,1223.9 371.8,1223.7 372.1,1223.4 372.3,1223.1 372.5,1222.6 372.8,1222.0 373.0,1221.3 373.3,1220.5 373.5,1219.5 373.7,1218.4 374.0,1217.2 374.2,1215.7 374.4,1213.9 374.7,1211.4 374.9,1208.4 375.1,1204.7 375.4,1200.5 375.6,1195.7 375.8,1190.1 376.1,1183.0 376.3,1173.9 376.6,1163.2 376.8,1151.3 377.0,1139.0 377.3,1126.8 377.5,1114.3 377.7,1101.4 378.0,1088.4 378.2,1076.1 378.4,1065.0 378.7,1055.3 378.9,1046.6 379.1,1038.8 379.4,1032.0 379.6,1026.2 379.9,1021.4 380.1,1017.7 380.3,1015.1 380.6,1013.8 380.8,1013.7 381.0,1014.1 381.3,1014.9 381.5,1015.8 381.7,1016.7 382.0,1017.8 382.2,1018.9 382.4,1020.4 382.7,1022.3 382.9,1025.1 383.1,1029.2 383.4,1034.7 383.6,1041.5 383.9,1049.0 384.1,1057.3 384.3,1066.5 384.6,1077.1 384.8,1089.0 385.0,1101.6 385.3,1114.4 385.5,1127.1 385.7,1139.7 386.0,1152.4 386.2,1164.8 386.4,1176.2 386.7,1186.3 386.9,1195.6 387.2,1204.4 387.4,1212.4 387.6,1219.1 387.9,1223.9 388.1,1226.8 388.3,1228.3 388.6,1229.2 388.8,1229.9 389.0,1230.3 389.3,1230.4 389.5,1230.2 389.7,1229.7 390.0,1229.0 390.2,1228.3 390.5,1227.6 390.7,1227.0 390.9,1226.4 391.2,1225.9 391.4,1225.5 391.6,1225.2 391.9,1225.0 392.1,1224.9 392.3,1224.8 392.6,1224.8 392.8,1224.7 393.0,1224.6 393.3,1224.5 393.5,1224.4 393.7,1224.2 394.0,1224.1 394.2,1224.0 394.5,1223.8 394.7,1223.6 394.9,1223.3 395.2,1222.9 395.4,1222.4 395.6,1221.7 395.9,1220.9 396.1,1220.0 396.3,1219.0 396.6,1217.8 396.8,1216.5 397.0,1214.8 397.3,1212.6 397.5,1209.8 397.8,1206.2 398.0,1202.1 398.2,1197.3 398.5,1191.9 398.7,1185.4 398.9,1176.9 399.2,1166.4 399.4,1154.4 399.6,1141.7 399.9,1128.8 400.1,1115.8 400.3,1102.5 400.6,1088.8 400.8,1075.4 401.1,1063.1 401.3,1052.1 401.5,1042.4 401.8,1033.7 402.0,1026.0 402.2,1019.4 402.5,1013.8 402.7,1009.4 402.9,1006.0 403.2,1003.9 403.4,1003.2 403.6,1003.4 403.9,1004.1 404.1,1005.0 404.3,1006.0 404.6,1007.0 404.8,1008.1 405.1,1009.5 405.3,1011.2 405.5,1013.6 405.8,1017.1 406.0,1022.2 406.2,1028.6 406.5,1036.2 406.7,1044.5 406.9,1053.5 407.2,1063.8 407.4,1075.7 407.6,1088.6 407.9,1102.0 408.1,1115.4 408.4,1128.6 408.6,1141.9 408.8,1155.1 409.1,1167.6 409.3,1178.9 409.5,1189.0 409.8,1198.5 410.0,1207.3 410.2,1215.1 410.5,1221.3 410.7,1225.3 410.9,1227.5 411.2,1228.7 411.4,1229.5 411.7,1230.1 411.9,1230.4 412.1,1230.3 412.4,1230.0 412.6,1229.4 412.8,1228.6 413.1,1227.9 413.3,1227.3 413.5,1226.7 413.8,1226.1 414.0,1225.7 414.2,1225.3 414.5,1225.1 414.7,1225.0 414.9,1224.9 415.2,1224.8 415.4,1224.7 415.7,1224.6 415.9,1224.5 416.1,1224.4 416.4,1224.3 416.6,1224.2 416.8,1224.1 417.1,1223.9 417.3,1223.7 417.5,1223.5 417.8,1223.1 418.0,1222.7 418.2,1222.1 418.5,1221.4 418.7,1220.5 419.0,1219.6 419.2,1218.5 419.4,1217.2 419.7,1215.7 419.9,1213.8 420.1,1211.1 420.4,1207.8 420.6,1203.7 420.8,1199.0 421.1,1193.7 421.3,1187.5 421.5,1179.7 421.8,1169.8 422.0,1157.9 422.3,1144.9 422.5,1131.4 422.7,1117.8 423.0,1104.0 423.2,1089.8 423.4,1075.5 423.7,1061.9 423.9,1049.6 424.1,1038.8 424.4,1029.2 424.6,1020.5 424.8,1013.0 425.1,1006.5 425.3,1001.3 425.5,997.2 425.8,994.3 426.0,992.8 426.3,992.6 426.5,993.1 426.7,994.0 427.0,994.9 427.2,996.0 427.4,997.1 427.7,998.4 427.9,999.9 428.1,1002.0 428.4,1005.0 428.6,1009.5 428.8,1015.6 429.1,1022.9 429.3,1031.2 429.6,1040.3 429.8,1050.3 430.0,1061.9 430.3,1074.9 430.5,1088.8 430.7,1102.8 431.0,1116.7 431.2,1130.6 431.4,1144.5 431.7,1158.1 431.9,1170.6 432.1,1181.8 432.4,1192.0 432.6,1201.6 432.9,1210.4 433.1,1217.8 433.3,1223.2 433.6,1226.4 433.8,1228.0 434.0,1229.1 434.3,1229.8 434.5,1230.2 434.7,1230.4 435.0,1230.2 435.2,1229.7 435.4,1229.0 435.7,1228.3 435.9,1227.6 436.1,1227.0 436.4,1226.4 436.6,1225.9 436.9,1225.5 437.1,1225.2 437.3,1225.1 437.6,1224.9 437.8,1224.8 438.0,1224.8 438.3,1224.7 438.5,1224.6 438.7,1224.5 439.0,1224.4 439.2,1224.3 439.4,1224.1 439.7,1224.0 439.9,1223.8 440.2,1223.6 440.4,1223.3 440.6,1222.9 440.9,1222.4 441.1,1221.8 441.3,1221.0 441.6,1220.1 441.8,1219.1 442.0,1217.9 442.3,1216.5 442.5,1214.8 442.7,1212.3 443.0,1209.1 443.2,1205.1 443.5,1200.3 443.7,1194.9 443.9,1188.7 444.2,1181.2 444.4,1171.6 444.6,1159.7 444.9,1146.1 445.1,1131.6 445.3,1116.8 445.6,1102.1 445.8,1086.9 446.0,1071.2 446.3,1055.9 446.5,1041.8 446.7,1029.3 447.0,1018.2 447.2,1008.3 447.5,999.4 447.7,991.8 447.9,985.4 448.2,980.3 448.4,976.5 448.6,974.0 448.9,973.2 449.1,973.4 449.3,974.2 449.6,975.2 449.8,976.3 450.0,977.4 450.3,978.7 450.5,980.2 450.8,982.1 451.0,984.7 451.2,988.7 451.5,994.3 451.7,1001.5 451.9,1009.9 452.2,1019.2 452.4,1029.3 452.6,1040.8 452.9,1054.0 453.1,1068.5 453.3,1083.5 453.6,1098.5 453.8,1113.3 454.1,1128.2 454.3,1143.0 454.5,1157.0 454.8,1169.7 455.0,1181.1 455.2,1191.7 455.5,1201.7 455.7,1210.4 455.9,1217.4 456.2,1221.9 456.4,1224.4 456.6,1225.8 456.9,1226.7 457.1,1227.3 457.3,1227.7 457.6,1227.7 457.8,1227.3 458.1,1226.7 458.3,1226.0 458.5,1225.3 458.8,1224.6 459.0,1224.0 459.2,1223.5 459.5,1223.0 459.7,1222.7 459.9,1222.5 460.2,1222.3 460.4,1222.2 460.6,1222.1 460.9,1222.1 461.1,1222.0 461.4,1221.9 461.6,1221.8 461.8,1221.6 462.1,1221.5 462.3,1221.4 462.5,1221.2 462.8,1221.0 463.0,1220.8 463.2,1220.5 463.5,1220.0 463.7,1219.4 463.9,1218.7 464.2,1217.9 464.4,1217.0 464.7,1215.9 464.9,1214.6 465.1,1213.0 465.4,1210.9 465.6,1207.9 465.8,1204.0 466.1,1199.2 466.3,1193.7 466.5,1187.4 466.8,1180.1 467.0,1171.0 467.2,1159.4 467.5,1145.6 467.7,1130.2 467.9,1114.4 468.2,1098.5 468.4,1082.3 468.7,1065.7 468.9,1048.9 469.1,1032.8 469.4,1018.4 469.6,1005.7 469.8,994.4 470.1,984.2 470.3,975.3 470.5,967.7 470.8,961.5 471.0,956.7 471.2,953.2 471.5,951.4 471.7,951.2 472.0,951.8 472.2,952.7 472.4,953.9 472.7,955.1 472.9,956.3 473.1,957.8 473.4,959.6 473.6,962.0 473.8,965.5 474.1,970.6 474.3,977.6 474.5,986.1 474.8,995.7 475.0,1006.1 475.3,1017.7 475.5,1031.1 475.7,1046.1 476.0,1062.2 476.2,1078.4 476.4,1094.5 476.7,1110.5 476.9,1126.7 477.1,1142.4 477.4,1156.9 477.6,1169.9 477.8,1181.8 478.1,1192.9 478.3,1203.1 478.5,1211.7 478.8,1218.0 479.0,1221.8 479.3,1223.7 479.5,1224.9 479.7,1225.8 480.0,1226.3 480.2,1226.5 480.4,1226.3 480.7,1225.8 480.9,1225.2 481.1,1224.4 481.4,1223.8 481.6,1223.1 481.8,1222.5 482.1,1222.0 482.3,1221.6 482.6,1221.3 482.8,1221.2 483.0,1221.1 483.3,1221.0 483.5,1220.9 483.7,1220.8 484.0,1220.7 484.2,1220.6 484.4,1220.5 484.7,1220.4 484.9,1220.2 485.1,1220.1 485.4,1219.9 485.6,1219.7 485.9,1219.4 486.1,1219.0 486.3,1218.5 486.6,1217.9 486.8,1217.2 487.0,1216.3 487.3,1215.2 487.5,1214.1 487.7,1212.7 488.0,1210.9 488.2,1208.3 488.4,1204.9 488.7,1200.5 488.9,1195.3 489.1,1189.5 489.4,1182.8 489.6,1174.8 489.9,1164.4 490.1,1151.6 490.3,1136.9 490.6,1121.2 490.8,1105.3 491.0,1089.4 491.3,1072.9 491.5,1056.1 491.7,1039.5 492.0,1024.2 492.2,1010.6 492.4,998.6 492.7,987.8 492.9,978.3 493.2,970.0 493.4,963.1 493.6,957.5 493.9,953.3 494.1,950.6 494.3,949.7 494.6,950.0 494.8,950.8 495.0,951.8 495.3,953.0 495.5,954.2 495.7,955.6 496.0,957.2 496.2,959.3 496.5,962.1 496.7,966.4 496.9,972.4 497.2,980.2 497.4,989.3 497.6,999.4 497.9,1010.4 498.1,1022.8 498.3,1037.1 498.6,1052.8 498.8,1069.1 499.0,1085.3 499.3,1101.4 499.5,1117.6 499.7,1133.6 500.0,1148.9 500.2,1162.8 500.5,1175.1 500.7,1186.7 500.9,1197.5 501.2,1207.0 501.4,1214.6 501.6,1219.6 501.9,1222.4 502.1,1223.9 502.3,1224.9 502.6,1225.6 502.8,1226.0 503.0,1226.0 503.3,1225.6 503.5,1225.0 503.8,1224.3 504.0,1223.6 504.2,1223.0 504.5,1222.4 504.7,1221.8 504.9,1221.3 505.2,1221.0 505.4,1220.8 505.6,1220.6 505.9,1220.5 506.1,1220.4 506.3,1220.4 506.6,1220.3 506.8,1220.2 507.1,1220.1 507.3,1219.9 507.5,1219.8 507.8,1219.7 508.0,1219.5 508.2,1219.3 508.5,1219.1 508.7,1218.8 508.9,1218.3 509.2,1217.8 509.4,1217.1 509.6,1216.3 509.9,1215.3 510.1,1214.2 510.3,1212.9 510.6,1211.4 510.8,1209.1 511.1,1206.0 511.3,1201.8 511.5,1196.7 511.8,1190.8 512.0,1184.1 512.2,1176.3 512.5,1166.6 512.7,1154.2 512.9,1139.4 513.2,1123.0 513.4,1106.0 513.6,1089.0 513.9,1071.7 514.1,1053.9 514.4,1035.9 514.6,1018.7 514.8,1003.2 515.1,989.5 515.3,977.4 515.5,966.5 515.8,956.9 516.0,948.7 516.2,942.1 516.5,936.8 516.7,933.1 516.9,931.1 517.2,930.8 517.4,931.5 517.7,932.5 517.9,933.7 518.1,934.9 518.4,936.3 518.6,937.9 518.8,939.8 519.1,942.4 519.3,946.0 519.5,951.4 519.8,958.8 520.0,967.8 520.2,978.0 520.5,989.2 520.7,1001.5 520.9,1015.7 521.2,1031.7 521.4,1048.8 521.7,1066.2 521.9,1083.3 522.1,1100.4 522.4,1117.7 522.6,1134.4 522.8,1150.0 523.1,1163.9 523.3,1176.5 523.5,1188.4 523.8,1199.4 524.0,1208.6 524.2,1215.4 524.5,1219.4 524.7,1221.6 525.0,1222.8 525.2,1223.7 525.4,1224.3 525.7,1224.6 525.9,1224.4 526.1,1223.9 526.4,1223.2 526.6,1222.5 526.8,1221.8 527.1,1221.2 527.3,1220.6 527.5,1220.1 527.8,1219.7 528.0,1219.4 528.3,1219.2 528.5,1219.1 528.7,1219.0 529.0,1218.9 529.2,1218.9 529.4,1218.8 529.7,1218.7 529.9,1218.6 530.1,1218.4 530.4,1218.3 530.6,1218.2 530.8,1218.0 531.1,1217.8 531.3,1217.5 531.5,1217.1 531.8,1216.6 532.0,1216.0 532.3,1215.3 532.5,1214.4 532.7,1213.4 533.0,1212.2 533.2,1210.8 533.4,1208.9 533.7,1206.1 533.9,1202.2 534.1,1197.3 534.4,1191.5 534.6,1184.9 534.8,1177.4 535.1,1168.3 535.3,1156.8 535.6,1142.4 535.8,1125.9 536.0,1108.2 536.3,1090.3 536.5,1072.3 536.7,1053.8 537.0,1034.9 537.2,1016.2 537.4,998.9 537.7,983.5 537.9,970.0 538.1,957.8 538.4,947.0 538.6,937.6 538.9,929.8 539.1,923.5 539.3,918.8 539.6,915.7 539.8,914.6 540.0,914.8 540.3,915.7 540.5,916.9 540.7,918.2 541.0,919.6 541.2,921.1 541.4,922.9 541.7,925.2 541.9,928.3 542.1,932.9 542.4,939.6 542.6,948.2 542.9,958.2 543.1,969.3 543.3,981.5 543.6,995.2 543.8,1011.0 544.0,1028.4 544.3,1046.4 544.5,1064.4 544.7,1082.2 545.0,1100.1 545.2,1117.9 545.4,1134.9 545.7,1150.2 545.9,1164.0 546.2,1176.8 546.4,1188.8 546.6,1199.4 546.9,1207.9 547.1,1213.5 547.3,1216.6 547.6,1218.3 547.8,1219.4 548.0,1220.2 548.3,1220.6 548.5,1220.6 548.7,1220.3 549.0,1219.7 549.2,1219.0 549.5,1218.3 549.7,1217.6 549.9,1217.0 550.2,1216.5 550.4,1216.0 550.6,1215.6 550.9,1215.4 551.1,1215.3 551.3,1215.2 551.6,1215.1 551.8,1215.0 552.0,1214.9 552.3,1214.8 552.5,1214.7 552.7,1214.6 553.0,1214.5 553.2,1214.4 553.5,1214.2 553.7,1214.0 553.9,1213.8 554.2,1213.4 554.4,1213.0 554.6,1212.5 554.9,1211.8 555.1,1211.0 555.3,1210.0 555.6,1208.9 555.8,1207.7 556.0,1206.0 556.3,1203.7 556.5,1200.3 556.8,1195.8 557.0,1190.3 557.2,1183.8 557.5,1176.5 557.7,1168.1 557.9,1157.7 558.2,1144.3 558.4,1128.3 558.6,1110.5 558.9,1092.0 559.1,1073.5 559.3,1054.8 559.6,1035.4 559.8,1015.9 560.1,997.1 560.3,980.2 560.5,965.4 560.8,952.1 561.0,940.2 561.2,929.8 561.5,920.9 561.7,913.7 561.9,907.9 562.2,903.8 562.4,901.6 562.6,901.3 562.9,901.9 563.1,903.0 563.3,904.3 563.6,905.7 563.8,907.1 564.1,908.8 564.3,910.9 564.5,913.6 564.8,917.5 565.0,923.3 565.2,931.2 565.5,940.8 565.7,951.8 565.9,963.7 566.2,977.0 566.4,992.2 566.6,1009.4 566.9,1027.8 567.1,1046.4 567.4,1064.9 567.6,1083.3 567.8,1101.8 568.1,1119.9 568.3,1136.7 568.5,1151.7 568.8,1165.3 569.0,1178.1 569.2,1189.9 569.5,1199.9 569.7,1207.2 569.9,1211.7 570.2,1214.0 570.4,1215.4 570.7,1216.4 570.9,1217.0 571.1,1217.3 571.4,1217.1 571.6,1216.7 571.8,1216.0 572.1,1215.2 572.3,1214.6 572.5,1213.9 572.8,1213.4 573.0,1212.8 573.2,1212.4 573.5,1212.1 573.7,1212.0 573.9,1211.8 574.2,1211.7 574.4,1211.7 574.7,1211.6 574.9,1211.5 575.1,1211.4 575.4,1211.3 575.6,1211.2 575.8,1211.0 576.1,1210.9 576.3,1210.7 576.5,1210.5 576.8,1210.2 577.0,1209.9 577.2,1209.4 577.5,1208.8 577.7,1208.0 578.0,1207.1 578.2,1206.1 578.4,1204.9 578.7,1203.5 578.9,1201.6 579.1,1198.7 579.4,1194.6 579.6,1189.4 579.8,1183.2 580.1,1176.1 580.3,1168.1 580.5,1158.5 580.8,1146.2 581.0,1131.0 581.3,1113.4 581.5,1094.5 581.7,1075.4 582.0,1056.3 582.2,1036.5 582.4,1016.3 582.7,996.3 582.9,977.8 583.1,961.4 583.4,946.9 583.6,933.9 583.8,922.3 584.1,912.3 584.3,903.9 584.5,897.2 584.8,892.0 585.0,888.7 585.3,887.5 585.5,887.7 585.7,888.6 586.0,889.9 586.2,891.3 586.4,892.7 586.7,894.3 586.9,896.2 587.1,898.6 587.4,901.9 587.6,906.8 587.8,913.8 588.1,922.8 588.3,933.4 588.6,945.2 588.8,958.0 589.0,972.5 589.3,989.2 589.5,1007.6 589.7,1026.8 590.0,1045.8 590.2,1064.7 590.4,1083.7 590.7,1102.6 590.9,1120.6 591.1,1136.9 591.4,1151.5 591.6,1165.1 591.9,1177.8 592.1,1189.1 592.3,1198.2 592.6,1204.2 592.8,1207.5 593.0,1209.3 593.3,1210.5 593.5,1211.4 593.7,1211.8 594.0,1211.9 594.2,1211.6 594.4,1211.0 594.7,1210.3 594.9,1209.6 595.1,1208.9 595.4,1208.3 595.6,1207.7 595.9,1207.3 596.1,1206.9 596.3,1206.7 596.6,1206.6 596.8,1206.5 597.0,1206.4 597.3,1206.3 597.5,1206.2 597.7,1206.1 598.0,1206.0 598.2,1205.9 598.4,1205.8 598.7,1205.6 598.9,1205.5 599.2,1205.3 599.4,1205.0 599.6,1204.7 599.9,1204.3 600.1,1203.7 600.3,1203.1 600.6,1202.3 600.8,1201.3 601.0,1200.2 601.3,1199.0 601.5,1197.3 601.7,1194.9 602.0,1191.5 602.2,1186.8 602.5,1181.0 602.7,1174.3 602.9,1166.6 603.2,1157.9 603.4,1147.0 603.6,1133.1 603.9,1116.3 604.1,1097.8 604.3,1078.5 604.6,1059.1 604.8,1039.6 605.0,1019.3 605.3,998.8 605.5,979.2 605.7,961.5 606.0,945.9 606.2,932.0 606.5,919.5 606.7,908.6 606.9,899.3 607.2,891.6 607.4,885.6 607.6,881.2 607.9,878.9 608.1,878.5 608.3,879.2 608.6,880.3 608.8,881.6 609.0,883.1 609.3,884.6 609.5,886.4 609.8,888.5 610.0,891.3 610.2,895.3 610.5,901.4 610.7,909.6 610.9,919.6 611.2,931.0 611.4,943.5 611.6,957.3 611.9,973.2 612.1,991.1 612.3,1010.4 612.6,1029.9 612.8,1049.2 613.1,1068.4 613.3,1087.8 613.5,1106.7 613.8,1124.3 614.0,1140.1 614.2,1154.3 614.5,1167.8 614.7,1180.1 614.9,1190.6 615.2,1198.4 615.4,1203.1 615.6,1205.6 615.9,1207.0 616.1,1208.1 616.3,1208.7 616.6,1209.0 616.8,1208.9 617.1,1208.4 617.3,1207.7 617.5,1207.0 617.8,1206.3 618.0,1205.7 618.2,1205.1 618.5,1204.6 618.7,1204.2 618.9,1203.9 619.2,1203.7 619.4,1203.6 619.6,1203.5 619.9,1203.4 620.1,1203.3 620.4,1203.2 620.6,1203.1 620.8,1203.0 621.1,1202.9 621.3,1202.8 621.5,1202.6 621.8,1202.5 622.0,1202.3 622.2,1202.0 622.5,1201.6 622.7,1201.1 622.9,1200.5 623.2,1199.8 623.4,1198.9 623.7,1197.9 623.9,1196.7 624.1,1195.3 624.4,1193.4 624.6,1190.5 624.8,1186.4 625.1,1181.3 625.3,1175.0 625.5,1167.9 625.8,1159.9 626.0,1150.3 626.2,1138.1 626.5,1122.8 626.7,1105.2 626.9,1086.3 627.2,1067.1 627.4,1047.9 627.7,1028.1 627.9,1007.8 628.1,987.7 628.4,969.1 628.6,952.6 628.8,938.0 629.1,924.9 629.3,913.2 629.5,903.1 629.8,894.7 630.0,887.9 630.2,882.7 630.5,879.3 630.7,878.0 631.0,878.2 631.2,879.2 631.4,880.4 631.7,881.8 631.9,883.2 632.1,884.8 632.4,886.7 632.6,889.1 632.8,892.4 633.1,897.2 633.3,904.2 633.5,913.2 633.8,923.9 634.0,935.7 634.3,948.5 634.5,963.0 634.7,979.7 635.0,998.2 635.2,1017.4 635.4,1036.5 635.7,1055.4 635.9,1074.5 636.1,1093.5 636.4,1111.6 636.6,1128.0 636.8,1142.7 637.1,1156.3 637.3,1169.2 637.5,1180.6 637.8,1189.7 638.0,1195.8 638.3,1199.2 638.5,1201.0 638.7,1202.3 639.0,1203.1 639.2,1203.6 639.4,1203.7 639.7,1203.4 639.9,1202.8 640.1,1202.0 640.4,1201.3 640.6,1200.7 640.8,1200.0 641.1,1199.4 641.3,1198.9 641.6,1198.7 641.8,1198.6 642.0,1198.7 642.3,1198.8 642.5,1199.0 642.7,1199.2 643.0,1199.4 643.2,1199.6 643.4,1199.7 643.7,1199.6 643.9,1199.1 644.1,1198.1 644.4,1196.7 644.6,1194.9 644.9,1193.0 645.1,1191.1 645.3,1189.3 645.6,1187.5 645.8,1185.9 646.0,1184.2 646.3,1182.4 646.5,1181.0" fill="none" stroke="#86352b" stroke-width="1.9" stroke-linejoin="round" clip-path="url(#cld)"/>
<path d="M81.40,1241.00V1235.20 M222.68,1241.00V1235.20 M363.95,1241.00V1235.20 M505.23,1241.00V1235.20 M646.50,1241.00V1235.20 M81.40,852.80V858.60 M222.68,852.80V858.60 M363.95,852.80V858.60 M505.23,852.80V858.60 M646.50,852.80V858.60 M81.40,1241.00H87.20 M646.50,1241.00H640.70 M81.40,1119.69H87.20 M646.50,1119.69H640.70 M81.40,998.38H87.20 M646.50,998.38H640.70 M81.40,877.06H87.20 M646.50,877.06H640.70" stroke="#606060" stroke-width="1.2" fill="none"/>
<rect x="81.40" y="852.80" width="565.10" height="388.20" fill="none" stroke="#606060" stroke-width="1.2"/>
<text x="59.64" y="1250.22" font-size="23.30">0</text>
<text x="46.71" y="1128.90" font-size="23.30">50</text>
<text x="33.72" y="1007.59" font-size="23.30">100</text>
<text x="33.72" y="886.28" font-size="23.30">150</text>
<text x="74.91" y="1272.58" font-size="23.30">0</text>
<text x="216.21" y="1272.58" font-size="23.30">5</text>
<text x="350.58" y="1272.58" font-size="23.30">10</text>
<text x="491.89" y="1272.58" font-size="23.30">15</text>
<text x="633.42" y="1272.58" font-size="23.30">20</text>
<text x="74.31" y="840.80" font-size="23.30">0</text>
<text x="215.29" y="840.80" font-size="23.30">1</text>
<text x="356.88" y="840.80" font-size="23.30">2</text>
<text x="498.22" y="840.80" font-size="23.30">3</text>
<text x="639.49" y="840.80" font-size="23.30">4</text>
<text x="234.64" y="809.10" font-size="25.87">Actuation Volume (mL)</text>
<text x="318.42" y="1303.80" font-size="27.33" textLength="94.28" lengthAdjust="spacingAndGlyphs">Time (s)</text>
<text transform="translate(31.90,1128.47) rotate(-90)" x="0" y="0" font-size="29.51" textLength="163.02" lengthAdjust="spacingAndGlyphs">LVP (mmHg)</text>
<clipPath id="cle"><rect x="814.8" y="814.3" width="540.0" height="408.5"/></clipPath>
<rect x="1030.8" y="815.3" width="324.0" height="406.5" fill="#fdf6fd"/>
<rect x="1065.8" y="815.3" width="43.6" height="406.5" fill="#eee3f0"/>
<rect x="1179.5" y="815.3" width="42.4" height="406.5" fill="#eee3f0"/>
<rect x="1292.5" y="815.3" width="43.8" height="406.5" fill="#eee3f0"/>
<path d="M1065.8,815.3V1221.8 M1109.4,815.3V1221.8 M1179.5,815.3V1221.8 M1222.0,815.3V1221.8 M1292.5,815.3V1221.8 M1336.3,815.3V1221.8" stroke="#707070" stroke-width="1.3" stroke-dasharray="1.6 3.3" fill="none"/>
<line x1="1030.8" y1="815.3" x2="1030.8" y2="1221.8" stroke="#555" stroke-width="1.3"/>
<path d="M814.8,1064.2L815.2,1064.9 815.7,1065.7 816.1,1066.7 816.5,1067.8 817.0,1068.9 817.4,1070.0 817.8,1071.2 818.3,1072.3 818.7,1073.5 819.1,1074.6 819.6,1075.7 820.0,1076.8 820.4,1078.0 820.9,1079.1 821.3,1080.2 821.7,1081.3 822.2,1082.4 822.6,1083.5 823.0,1084.6 823.5,1085.6 823.9,1086.7 824.3,1087.8 824.8,1088.8 825.2,1089.9 825.6,1090.9 826.1,1092.0 826.5,1093.0 826.9,1094.1 827.4,1095.1 827.8,1096.2 828.2,1097.3 828.7,1098.3 829.1,1099.4 829.5,1100.4 830.0,1101.4 830.4,1102.5 830.8,1103.5 831.2,1104.4 831.7,1105.4 832.1,1106.3 832.5,1107.2 833.0,1108.1 833.4,1109.0 833.8,1109.8 834.3,1110.6 834.7,1111.4 835.1,1112.2 835.6,1113.0 836.0,1113.8 836.4,1114.5 836.9,1115.3 837.3,1116.1 837.7,1116.9 838.2,1117.6 838.6,1118.3 839.0,1119.0 839.5,1119.7 839.9,1120.3 840.3,1120.9 840.8,1121.4 841.2,1121.9 841.6,1122.2 842.1,1122.6 842.5,1122.8 842.9,1123.0 843.4,1123.2 843.8,1123.2 844.2,1123.2 844.7,1123.2 845.1,1123.1 845.5,1123.0 846.0,1122.9 846.4,1122.7 846.8,1122.6 847.3,1122.4 847.7,1122.2 848.1,1122.0 848.6,1121.7 849.0,1121.5 849.4,1121.2 849.9,1121.0 850.3,1120.7 850.7,1120.4 851.2,1120.2 851.6,1119.9 852.0,1119.7 852.5,1119.4 852.9,1119.2 853.3,1118.9 853.8,1118.7 854.2,1118.5 854.6,1118.3 855.1,1118.1 855.5,1117.9 855.9,1117.8 856.4,1117.7 856.8,1117.6 857.2,1117.5 857.7,1117.5 858.1,1117.5 858.5,1117.6 859.0,1117.6 859.4,1117.7 859.8,1117.9 860.3,1118.1 860.7,1118.3 861.1,1118.5 861.5,1118.7 862.0,1119.0 862.4,1119.3 862.8,1119.6 863.3,1119.8 863.7,1120.1 864.1,1120.4 864.6,1120.7 865.0,1121.0 865.4,1121.2 865.9,1121.4 866.3,1121.6 866.7,1121.8 867.2,1121.8 867.6,1121.8 868.0,1121.5 868.5,1120.9 868.9,1120.0 869.3,1118.5 869.8,1116.6 870.2,1114.3 870.6,1111.6 871.1,1108.5 871.5,1105.1 871.9,1101.5 872.4,1097.6 872.8,1093.6 873.2,1089.6 873.7,1085.5 874.1,1081.4 874.5,1077.4 875.0,1073.4 875.4,1069.4 875.8,1065.5 876.3,1061.6 876.7,1057.8 877.1,1054.2 877.6,1050.6 878.0,1047.2 878.4,1044.0 878.9,1040.9 879.3,1038.0 879.7,1035.2 880.2,1032.6 880.6,1030.0 881.0,1027.5 881.5,1025.2 881.9,1023.0 882.3,1020.9 882.8,1018.9 883.2,1017.0 883.6,1015.2 884.1,1013.5 884.5,1011.8 884.9,1010.1 885.4,1008.5 885.8,1006.9 886.2,1005.3 886.7,1003.8 887.1,1002.4 887.5,1001.0 888.0,999.7 888.4,998.5 888.8,997.4 889.3,996.4 889.7,995.6 890.1,994.9 890.6,994.4 891.0,994.0 891.4,993.7 891.9,993.6 892.3,993.5 892.7,993.6 893.1,993.6 893.6,993.8 894.0,993.9 894.4,994.1 894.9,994.4 895.3,994.6 895.7,994.9 896.2,995.2 896.6,995.5 897.0,995.9 897.5,996.3 897.9,996.7 898.3,997.1 898.8,997.5 899.2,998.0 899.6,998.4 900.1,998.9 900.5,999.4 900.9,1000.0 901.4,1000.5 901.8,1001.1 902.2,1001.6 902.7,1002.3 903.1,1003.0 903.5,1003.8 904.0,1004.7 904.4,1005.7 904.8,1006.8 905.3,1008.0 905.7,1009.3 906.1,1010.7 906.6,1012.2 907.0,1013.8 907.4,1015.3 907.9,1017.0 908.3,1018.7 908.7,1020.3 909.2,1022.0 909.6,1023.7 910.0,1025.4 910.5,1027.1 910.9,1028.8 911.3,1030.4 911.8,1031.9 912.2,1033.5 912.6,1035.0 913.1,1036.5 913.5,1037.9 913.9,1039.4 914.4,1040.9 914.8,1042.4 915.2,1043.9 915.7,1045.3 916.1,1046.8 916.5,1048.3 917.0,1049.8 917.4,1051.3 917.8,1052.8 918.3,1054.3 918.7,1055.7 919.1,1057.2 919.6,1058.7 920.0,1060.1 920.4,1061.5 920.9,1062.9 921.3,1064.3 921.7,1065.7 922.2,1067.1 922.6,1068.4 923.0,1069.7 923.4,1071.0 923.9,1072.2 924.3,1073.5 924.7,1074.7 925.2,1075.8 925.6,1077.0 926.0,1078.1 926.5,1079.2 926.9,1080.3 927.3,1081.4 927.8,1082.5 928.2,1083.5 928.6,1084.6 929.1,1085.6 929.5,1086.6 929.9,1087.6 930.4,1088.6 930.8,1089.6 931.2,1090.5 931.7,1091.5 932.1,1092.4 932.5,1093.4 933.0,1094.3 933.4,1095.2 933.8,1096.1 934.3,1097.0 934.7,1097.9 935.1,1098.8 935.6,1099.7 936.0,1100.5 936.4,1101.4 936.9,1102.3 937.3,1103.1 937.7,1104.0 938.2,1104.9 938.6,1105.8 939.0,1106.7 939.5,1107.6 939.9,1108.6 940.3,1109.5 940.8,1110.5 941.2,1111.5 941.6,1112.5 942.1,1113.5 942.5,1114.4 942.9,1115.4 943.4,1116.3 943.8,1117.2 944.2,1118.1 944.7,1118.9 945.1,1119.7 945.5,1120.4 946.0,1121.0 946.4,1121.6 946.8,1122.1 947.3,1122.6 947.7,1123.0 948.1,1123.2 948.6,1123.4 949.0,1123.6 949.4,1123.6 949.9,1123.6 950.3,1123.6 950.7,1123.5 951.2,1123.4 951.6,1123.3 952.0,1123.1 952.5,1122.9 952.9,1122.7 953.3,1122.5 953.7,1122.2 954.2,1122.0 954.6,1121.7 955.0,1121.5 955.5,1121.2 955.9,1120.9 956.3,1120.6 956.8,1120.3 957.2,1120.1 957.6,1119.8 958.1,1119.5 958.5,1119.3 958.9,1119.0 959.4,1118.8 959.8,1118.5 960.2,1118.3 960.7,1118.1 961.1,1118.0 961.5,1117.8 962.0,1117.7 962.4,1117.6 962.8,1117.5 963.3,1117.5 963.7,1117.5 964.1,1117.5 964.6,1117.6 965.0,1117.7 965.4,1117.8 965.9,1118.0 966.3,1118.2 966.7,1118.4 967.2,1118.6 967.6,1118.9 968.0,1119.1 968.5,1119.3 968.9,1119.6 969.3,1119.8 969.8,1120.1 970.2,1120.3 970.6,1120.5 971.1,1120.6 971.5,1120.8 971.9,1120.8 972.4,1120.8 972.8,1120.5 973.2,1120.0 973.7,1119.1 974.1,1117.8 974.5,1116.2 975.0,1114.1 975.4,1111.7 975.8,1108.9 976.3,1105.9 976.7,1102.5 977.1,1099.0 977.6,1095.2 978.0,1091.3 978.4,1087.4 978.9,1083.4 979.3,1079.4 979.7,1075.5 980.2,1071.5 980.6,1067.6 981.0,1063.7 981.5,1059.8 981.9,1056.1 982.3,1052.5 982.8,1049.0 983.2,1045.7 983.6,1042.5 984.1,1039.5 984.5,1036.7 984.9,1034.0 985.3,1031.4 985.8,1029.0 986.2,1026.6 986.6,1024.4 987.1,1022.3 987.5,1020.2 987.9,1018.3 988.4,1016.5 988.8,1014.8 989.2,1013.2 989.7,1011.5 990.1,1009.9 990.5,1008.4 991.0,1006.8 991.4,1005.3 991.8,1003.9 992.3,1002.5 992.7,1001.1 993.1,999.9 993.6,998.7 994.0,997.6 994.4,996.6 994.9,995.7 995.3,994.9 995.7,994.3 996.2,993.8 996.6,993.5 997.0,993.3 997.5,993.1 997.9,993.1 998.3,993.1 998.8,993.2 999.2,993.4 999.6,993.5 1000.1,993.7 1000.5,994.0 1000.9,994.3 1001.4,994.5 1001.8,994.9 1002.2,995.2 1002.7,995.6 1003.1,996.0 1003.5,996.4 1004.0,996.8 1004.4,997.3 1004.8,997.8 1005.3,998.3 1005.7,998.8 1006.1,999.3 1006.6,999.8 1007.0,1000.4 1007.4,1001.0 1007.9,1001.6 1008.3,1002.3 1008.7,1003.0 1009.2,1003.8 1009.6,1004.8 1010.0,1005.8 1010.5,1006.9 1010.9,1008.2 1011.3,1009.5 1011.8,1010.9 1012.2,1012.4 1012.6,1014.0 1013.1,1015.6 1013.5,1017.3 1013.9,1019.0 1014.4,1020.7 1014.8,1022.4 1015.2,1024.1 1015.6,1025.8 1016.1,1027.5 1016.5,1029.1 1016.9,1030.7 1017.4,1032.3 1017.8,1033.8 1018.2,1035.3 1018.7,1036.8 1019.1,1038.2 1019.5,1039.6 1020.0,1041.1 1020.4,1042.5 1020.8,1043.9 1021.3,1045.3 1021.7,1046.7 1022.1,1048.1 1022.6,1049.6 1023.0,1051.0 1023.4,1052.4 1023.9,1053.8 1024.3,1055.2 1024.7,1056.6 1025.2,1058.0 1025.6,1059.4 1026.0,1060.7 1026.5,1062.1 1026.9,1063.5 1027.3,1064.9 1027.8,1066.3 1028.2,1067.7 1028.6,1069.0 1029.1,1070.3 1029.5,1071.6 1029.9,1072.8 1030.4,1073.8 1030.8,1074.5" fill="none" stroke="#4a9c8a" stroke-width="1.8" stroke-linejoin="round" clip-path="url(#cle)"/>
<path d="M814.8,1200.6L815.2,1202.7 815.7,1204.7 816.1,1206.5 816.5,1208.1 817.0,1209.5 817.4,1210.8 817.8,1212.0 818.3,1212.9 818.7,1213.8 819.1,1214.5 819.6,1215.0 820.0,1215.5 820.4,1215.8 820.9,1216.0 821.3,1216.0 821.7,1216.0 822.2,1215.8 822.6,1215.6 823.0,1215.2 823.5,1214.7 823.9,1214.2 824.3,1213.5 824.8,1212.8 825.2,1212.0 825.6,1211.2 826.1,1210.2 826.5,1209.2 826.9,1208.2 827.4,1207.1 827.8,1205.9 828.2,1204.7 828.7,1203.4 829.1,1202.1 829.5,1200.8 830.0,1199.5 830.4,1198.1 830.8,1196.7 831.2,1195.3 831.7,1193.9 832.1,1192.5 832.5,1191.1 833.0,1189.6 833.4,1188.2 833.8,1186.8 834.3,1185.4 834.7,1184.1 835.1,1182.7 835.6,1181.4 836.0,1180.1 836.4,1178.9 836.9,1177.6 837.3,1176.5 837.7,1175.3 838.2,1174.3 838.6,1173.2 839.0,1172.3 839.5,1171.4 839.9,1170.5 840.3,1169.8 840.8,1169.1 841.2,1168.4 841.6,1167.9 842.1,1167.5 842.5,1167.1 842.9,1166.8 843.4,1166.7 843.8,1166.6 844.2,1166.7 844.7,1166.8 845.1,1167.1 845.5,1167.5 846.0,1167.9 846.4,1168.5 846.8,1169.2 847.3,1169.9 847.7,1170.7 848.1,1171.5 848.6,1172.4 849.0,1173.3 849.4,1174.2 849.9,1175.1 850.3,1176.0 850.7,1176.8 851.2,1177.7 851.6,1178.4 852.0,1179.2 852.5,1179.8 852.9,1180.4 853.3,1180.9 853.8,1181.3 854.2,1181.5 854.6,1181.7 855.1,1181.6 855.5,1181.5 855.9,1181.2 856.4,1180.7 856.8,1180.0 857.2,1179.1 857.7,1178.0 858.1,1176.7 858.5,1175.2 859.0,1173.5 859.4,1171.7 859.8,1169.7 860.3,1167.5 860.7,1165.1 861.1,1162.6 861.5,1160.0 862.0,1157.3 862.4,1154.4 862.8,1151.4 863.3,1148.3 863.7,1145.2 864.1,1141.9 864.6,1138.6 865.0,1135.2 865.4,1131.8 865.9,1128.3 866.3,1124.8 866.7,1121.3 867.2,1117.7 867.6,1114.1 868.0,1110.6 868.5,1107.0 868.9,1103.5 869.3,1099.9 869.8,1096.5 870.2,1093.0 870.6,1089.6 871.1,1086.3 871.5,1083.1 871.9,1079.9 872.4,1076.8 872.8,1073.8 873.2,1070.9 873.7,1068.2 874.1,1065.6 874.5,1063.0 875.0,1060.7 875.4,1058.4 875.8,1056.2 876.3,1054.1 876.7,1052.1 877.1,1050.2 877.6,1048.3 878.0,1046.5 878.4,1044.8 878.9,1043.1 879.3,1041.4 879.7,1039.7 880.2,1038.0 880.6,1036.4 881.0,1034.7 881.5,1033.0 881.9,1031.3 882.3,1029.5 882.8,1027.7 883.2,1025.9 883.6,1024.1 884.1,1022.3 884.5,1020.4 884.9,1018.5 885.4,1016.7 885.8,1014.8 886.2,1013.0 886.7,1011.2 887.1,1009.4 887.5,1007.6 888.0,1005.9 888.4,1004.2 888.8,1002.6 889.3,1001.0 889.7,999.5 890.1,998.1 890.6,996.7 891.0,995.4 891.4,994.2 891.9,993.0 892.3,992.0 892.7,991.0 893.1,990.1 893.6,989.2 894.0,988.4 894.4,987.7 894.9,987.1 895.3,986.6 895.7,986.1 896.2,985.7 896.6,985.3 897.0,985.1 897.5,984.9 897.9,984.8 898.3,984.7 898.8,984.7 899.2,984.8 899.6,985.1 900.1,985.4 900.5,985.9 900.9,986.5 901.4,987.3 901.8,988.2 902.2,989.4 902.7,990.7 903.1,992.3 903.5,994.0 904.0,996.1 904.4,998.3 904.8,1000.9 905.3,1003.7 905.7,1006.8 906.1,1010.2 906.6,1013.9 907.0,1017.9 907.4,1022.2 907.9,1026.7 908.3,1031.4 908.7,1036.4 909.2,1041.6 909.6,1047.0 910.0,1052.5 910.5,1058.2 910.9,1064.0 911.3,1069.9 911.8,1075.9 912.2,1082.0 912.6,1088.2 913.1,1094.4 913.5,1100.6 913.9,1106.8 914.4,1113.1 914.8,1119.3 915.2,1125.4 915.7,1131.5 916.1,1137.6 916.5,1143.5 917.0,1149.3 917.4,1155.0 917.8,1160.6 918.3,1165.9 918.7,1171.1 919.1,1176.0 919.6,1180.8 920.0,1185.3 920.4,1189.5 920.9,1193.4 921.3,1197.1 921.7,1200.4 922.2,1203.4 922.6,1206.0 923.0,1208.4 923.4,1210.4 923.9,1212.2 924.3,1213.7 924.7,1215.0 925.2,1216.0 925.6,1216.9 926.0,1217.5 926.5,1217.9 926.9,1218.2 927.3,1218.4 927.8,1218.3 928.2,1218.2 928.6,1217.9 929.1,1217.5 929.5,1217.0 929.9,1216.4 930.4,1215.6 930.8,1214.8 931.2,1213.9 931.7,1212.8 932.1,1211.8 932.5,1210.6 933.0,1209.4 933.4,1208.1 933.8,1206.8 934.3,1205.4 934.7,1204.0 935.1,1202.5 935.6,1201.1 936.0,1199.6 936.4,1198.1 936.9,1196.6 937.3,1195.1 937.7,1193.6 938.2,1192.0 938.6,1190.6 939.0,1189.1 939.5,1187.6 939.9,1186.1 940.3,1184.7 940.8,1183.3 941.2,1181.9 941.6,1180.6 942.1,1179.3 942.5,1178.0 942.9,1176.8 943.4,1175.6 943.8,1174.5 944.2,1173.5 944.7,1172.5 945.1,1171.5 945.5,1170.7 946.0,1169.9 946.4,1169.2 946.8,1168.5 947.3,1168.0 947.7,1167.5 948.1,1167.1 948.6,1166.8 949.0,1166.7 949.4,1166.6 949.9,1166.6 950.3,1166.7 950.7,1167.0 951.2,1167.4 951.6,1167.8 952.0,1168.4 952.5,1169.1 952.9,1169.8 953.3,1170.6 953.7,1171.4 954.2,1172.3 954.6,1173.2 955.0,1174.2 955.5,1175.1 955.9,1176.0 956.3,1176.9 956.8,1177.8 957.2,1178.6 957.6,1179.4 958.1,1180.2 958.5,1180.8 958.9,1181.4 959.4,1181.8 959.8,1182.2 960.2,1182.4 960.7,1182.5 961.1,1182.5 961.5,1182.3 962.0,1181.9 962.4,1181.4 962.8,1180.6 963.3,1179.7 963.7,1178.6 964.1,1177.2 964.6,1175.6 965.0,1173.9 965.4,1171.9 965.9,1169.7 966.3,1167.4 966.7,1165.0 967.2,1162.3 967.6,1159.6 968.0,1156.7 968.5,1153.7 968.9,1150.5 969.3,1147.3 969.8,1144.0 970.2,1140.6 970.6,1137.1 971.1,1133.6 971.5,1130.0 971.9,1126.4 972.4,1122.7 972.8,1119.1 973.2,1115.4 973.7,1111.7 974.1,1108.0 974.5,1104.4 975.0,1100.7 975.4,1097.2 975.8,1093.6 976.3,1090.1 976.7,1086.7 977.1,1083.4 977.6,1080.1 978.0,1077.0 978.4,1073.9 978.9,1071.0 979.3,1068.2 979.7,1065.6 980.2,1063.1 980.6,1060.7 981.0,1058.4 981.5,1056.3 981.9,1054.2 982.3,1052.3 982.8,1050.4 983.2,1048.6 983.6,1046.8 984.1,1045.1 984.5,1043.4 984.9,1041.8 985.3,1040.1 985.8,1038.5 986.2,1036.8 986.6,1035.2 987.1,1033.5 987.5,1031.7 987.9,1030.0 988.4,1028.1 988.8,1026.3 989.2,1024.4 989.7,1022.4 990.1,1020.5 990.5,1018.5 991.0,1016.6 991.4,1014.6 991.8,1012.6 992.3,1010.7 992.7,1008.8 993.1,1006.9 993.6,1005.1 994.0,1003.3 994.4,1001.5 994.9,999.9 995.3,998.2 995.7,996.7 996.2,995.2 996.6,993.9 997.0,992.6 997.5,991.4 997.9,990.3 998.3,989.3 998.8,988.3 999.2,987.5 999.6,986.7 1000.1,986.0 1000.5,985.3 1000.9,984.8 1001.4,984.3 1001.8,983.9 1002.2,983.6 1002.7,983.4 1003.1,983.2 1003.5,983.1 1004.0,983.1 1004.4,983.1 1004.8,983.3 1005.3,983.6 1005.7,984.1 1006.1,984.6 1006.6,985.4 1007.0,986.3 1007.4,987.3 1007.9,988.6 1008.3,990.0 1008.7,991.7 1009.2,993.6 1009.6,995.7 1010.0,998.1 1010.5,1000.7 1010.9,1003.6 1011.3,1006.7 1011.8,1010.2 1012.2,1013.9 1012.6,1017.9 1013.1,1022.2 1013.5,1026.7 1013.9,1031.4 1014.4,1036.3 1014.8,1041.5 1015.2,1046.8 1015.6,1052.3 1016.1,1057.9 1016.5,1063.7 1016.9,1069.6 1017.4,1075.6 1017.8,1081.6 1018.2,1087.8 1018.7,1094.0 1019.1,1100.2 1019.5,1106.5 1020.0,1112.8 1020.4,1119.0 1020.8,1125.3 1021.3,1131.5 1021.7,1137.7 1022.1,1143.7 1022.6,1149.7 1023.0,1155.6 1023.4,1161.3 1023.9,1166.9 1024.3,1172.3 1024.7,1177.6 1025.2,1182.6 1025.6,1187.3 1026.0,1191.8 1026.5,1196.0 1026.9,1200.0 1027.3,1203.6 1027.8,1206.9 1028.2,1209.8 1028.6,1212.3 1029.1,1214.4 1029.5,1216.2 1029.9,1217.4 1030.4,1218.3 1030.8,1218.6" fill="none" stroke="#7d3a93" stroke-width="2.0" stroke-linejoin="round" clip-path="url(#cle)"/>
<path d="M1030.8,1070.9L1031.2,1071.5 1031.7,1072.2 1032.1,1073.0 1032.5,1073.9 1033.0,1074.8 1033.4,1075.8 1033.8,1076.7 1034.3,1077.5 1034.7,1078.4 1035.1,1079.2 1035.6,1079.9 1036.0,1080.7 1036.4,1081.4 1036.9,1082.0 1037.3,1082.7 1037.7,1083.3 1038.2,1083.9 1038.6,1084.5 1039.0,1085.1 1039.5,1085.7 1039.9,1086.3 1040.3,1086.8 1040.7,1087.4 1041.2,1087.9 1041.6,1088.4 1042.0,1088.9 1042.5,1089.3 1042.9,1089.7 1043.3,1090.0 1043.8,1090.4 1044.2,1090.6 1044.6,1090.8 1045.1,1091.0 1045.5,1091.1 1045.9,1091.2 1046.4,1091.2 1046.8,1091.2 1047.2,1091.2 1047.7,1091.2 1048.1,1091.2 1048.5,1091.2 1049.0,1091.2 1049.4,1091.1 1049.8,1091.1 1050.3,1091.1 1050.7,1091.0 1051.1,1091.0 1051.6,1090.9 1052.0,1090.9 1052.4,1090.8 1052.9,1090.7 1053.3,1090.6 1053.7,1090.5 1054.2,1090.4 1054.6,1090.2 1055.0,1090.0 1055.5,1089.8 1055.9,1089.5 1056.3,1089.3 1056.8,1089.0 1057.2,1088.7 1057.6,1088.3 1058.1,1088.0 1058.5,1087.6 1058.9,1087.2 1059.4,1086.8 1059.8,1086.4 1060.2,1086.0 1060.6,1085.6 1061.1,1085.1 1061.5,1084.7 1061.9,1084.2 1062.4,1083.7 1062.8,1083.2 1063.2,1082.7 1063.7,1082.2 1064.1,1081.7 1064.5,1081.2 1065.0,1080.7 1065.4,1080.1 1065.8,1079.6 1066.3,1079.0 1066.7,1078.5 1067.1,1077.9 1067.6,1077.2 1068.0,1076.5 1068.4,1075.8 1068.9,1075.1 1069.3,1074.3 1069.7,1073.5 1070.2,1072.7 1070.6,1071.8 1071.0,1070.9 1071.5,1070.0 1071.9,1069.1 1072.3,1068.1 1072.8,1067.2 1073.2,1066.2 1073.6,1065.2 1074.1,1064.3 1074.5,1063.3 1074.9,1062.3 1075.4,1061.3 1075.8,1060.3 1076.2,1059.3 1076.7,1058.4 1077.1,1057.4 1077.5,1056.4 1078.0,1055.4 1078.4,1054.5 1078.8,1053.4 1079.2,1052.4 1079.7,1051.4 1080.1,1050.4 1080.5,1049.3 1081.0,1048.3 1081.4,1047.2 1081.8,1046.2 1082.3,1045.1 1082.7,1044.1 1083.1,1043.0 1083.6,1042.0 1084.0,1040.9 1084.4,1039.9 1084.9,1038.9 1085.3,1037.9 1085.7,1036.9 1086.2,1035.9 1086.6,1035.0 1087.0,1034.1 1087.5,1033.2 1087.9,1032.3 1088.3,1031.4 1088.8,1030.6 1089.2,1029.7 1089.6,1028.9 1090.1,1028.1 1090.5,1027.2 1090.9,1026.4 1091.4,1025.6 1091.8,1024.8 1092.2,1024.0 1092.7,1023.2 1093.1,1022.4 1093.5,1021.5 1094.0,1020.7 1094.4,1019.9 1094.8,1019.0 1095.3,1018.1 1095.7,1017.3 1096.1,1016.4 1096.6,1015.5 1097.0,1014.6 1097.4,1013.7 1097.8,1012.8 1098.3,1011.8 1098.7,1010.9 1099.1,1009.9 1099.6,1009.0 1100.0,1007.9 1100.4,1006.9 1100.9,1005.8 1101.3,1004.6 1101.7,1003.3 1102.2,1001.9 1102.6,1000.5 1103.0,999.1 1103.5,997.7 1103.9,996.3 1104.3,995.1 1104.8,994.0 1105.2,993.1 1105.6,992.5 1106.1,992.1 1106.5,992.1 1106.9,992.4 1107.4,993.0 1107.8,993.9 1108.2,995.1 1108.7,996.5 1109.1,998.2 1109.5,1000.0 1110.0,1001.9 1110.4,1003.9 1110.8,1005.9 1111.3,1007.9 1111.7,1009.9 1112.1,1011.8 1112.6,1013.7 1113.0,1015.5 1113.4,1017.3 1113.9,1019.1 1114.3,1020.9 1114.7,1022.7 1115.2,1024.6 1115.6,1026.5 1116.0,1028.5 1116.5,1030.4 1116.9,1032.3 1117.3,1034.2 1117.7,1036.0 1118.2,1037.7 1118.6,1039.4 1119.0,1041.0 1119.5,1042.4 1119.9,1043.7 1120.3,1044.9 1120.8,1045.8 1121.2,1046.7 1121.6,1047.3 1122.1,1047.8 1122.5,1048.1 1122.9,1048.2 1123.4,1048.3 1123.8,1048.4 1124.2,1048.3 1124.7,1048.3 1125.1,1048.2 1125.5,1048.2 1126.0,1048.1 1126.4,1048.0 1126.8,1047.9 1127.3,1047.8 1127.7,1047.7 1128.1,1047.6 1128.6,1047.5 1129.0,1047.4 1129.4,1047.3 1129.9,1047.3 1130.3,1047.2 1130.7,1047.2 1131.2,1047.1 1131.6,1047.1 1132.0,1047.2 1132.5,1047.3 1132.9,1047.5 1133.3,1047.8 1133.8,1048.2 1134.2,1048.7 1134.6,1049.3 1135.1,1050.0 1135.5,1050.7 1135.9,1051.6 1136.3,1052.5 1136.8,1053.5 1137.2,1054.5 1137.6,1055.6 1138.1,1056.7 1138.5,1057.8 1138.9,1058.9 1139.4,1060.0 1139.8,1061.0 1140.2,1062.1 1140.7,1063.1 1141.1,1064.0 1141.5,1064.9 1142.0,1065.8 1142.4,1066.7 1142.8,1067.5 1143.3,1068.3 1143.7,1069.1 1144.1,1069.9 1144.6,1070.7 1145.0,1071.5 1145.4,1072.3 1145.9,1073.1 1146.3,1073.9 1146.7,1074.6 1147.2,1075.4 1147.6,1076.1 1148.0,1076.9 1148.5,1077.6 1148.9,1078.2 1149.3,1078.9 1149.8,1079.5 1150.2,1080.1 1150.6,1080.7 1151.1,1081.2 1151.5,1081.7 1151.9,1082.2 1152.4,1082.7 1152.8,1083.2 1153.2,1083.6 1153.7,1084.1 1154.1,1084.5 1154.5,1085.0 1154.9,1085.4 1155.4,1085.9 1155.8,1086.3 1156.2,1086.7 1156.7,1087.1 1157.1,1087.6 1157.5,1087.9 1158.0,1088.3 1158.4,1088.7 1158.8,1089.0 1159.3,1089.4 1159.7,1089.7 1160.1,1090.0 1160.6,1090.3 1161.0,1090.5 1161.4,1090.8 1161.9,1091.0 1162.3,1091.1 1162.7,1091.3 1163.2,1091.4 1163.6,1091.5 1164.0,1091.6 1164.5,1091.6 1164.9,1091.6 1165.3,1091.6 1165.8,1091.5 1166.2,1091.4 1166.6,1091.3 1167.1,1091.1 1167.5,1090.9 1167.9,1090.6 1168.4,1090.4 1168.8,1090.1 1169.2,1089.8 1169.7,1089.4 1170.1,1089.1 1170.5,1088.7 1171.0,1088.3 1171.4,1087.9 1171.8,1087.4 1172.3,1086.9 1172.7,1086.5 1173.1,1086.0 1173.6,1085.5 1174.0,1085.0 1174.4,1084.4 1174.8,1083.9 1175.3,1083.4 1175.7,1082.8 1176.1,1082.3 1176.6,1081.7 1177.0,1081.1 1177.4,1080.6 1177.9,1080.0 1178.3,1079.4 1178.7,1078.8 1179.2,1078.2 1179.6,1077.6 1180.0,1076.9 1180.5,1076.2 1180.9,1075.5 1181.3,1074.8 1181.8,1074.0 1182.2,1073.1 1182.6,1072.3 1183.1,1071.4 1183.5,1070.5 1183.9,1069.6 1184.4,1068.7 1184.8,1067.8 1185.2,1066.8 1185.7,1065.8 1186.1,1064.9 1186.5,1063.9 1187.0,1062.9 1187.4,1061.9 1187.8,1060.9 1188.3,1060.0 1188.7,1059.0 1189.1,1058.0 1189.6,1057.1 1190.0,1056.1 1190.4,1055.1 1190.9,1054.1 1191.3,1053.1 1191.7,1052.1 1192.2,1051.0 1192.6,1050.0 1193.0,1048.9 1193.4,1047.9 1193.9,1046.8 1194.3,1045.8 1194.7,1044.7 1195.2,1043.6 1195.6,1042.6 1196.0,1041.5 1196.5,1040.5 1196.9,1039.5 1197.3,1038.5 1197.8,1037.5 1198.2,1036.5 1198.6,1035.6 1199.1,1034.7 1199.5,1033.8 1199.9,1032.9 1200.4,1032.1 1200.8,1031.2 1201.2,1030.4 1201.7,1029.6 1202.1,1028.8 1202.5,1028.0 1203.0,1027.3 1203.4,1026.5 1203.8,1025.7 1204.3,1025.0 1204.7,1024.2 1205.1,1023.4 1205.6,1022.6 1206.0,1021.8 1206.4,1021.0 1206.9,1020.2 1207.3,1019.3 1207.7,1018.5 1208.2,1017.6 1208.6,1016.7 1209.0,1015.7 1209.5,1014.8 1209.9,1013.8 1210.3,1012.8 1210.8,1011.9 1211.2,1010.8 1211.6,1009.8 1212.0,1008.8 1212.5,1007.7 1212.9,1006.6 1213.3,1005.4 1213.8,1004.1 1214.2,1002.8 1214.6,1001.4 1215.1,1000.0 1215.5,998.6 1215.9,997.2 1216.4,995.8 1216.8,994.6 1217.2,993.6 1217.7,992.8 1218.1,992.3 1218.5,992.1 1219.0,992.1 1219.4,992.5 1219.8,993.3 1220.3,994.3 1220.7,995.6 1221.1,997.1 1221.6,998.8 1222.0,1000.6 1222.4,1002.6 1222.9,1004.6 1223.3,1006.6 1223.7,1008.6 1224.2,1010.5 1224.6,1012.4 1225.0,1014.3 1225.5,1016.1 1225.9,1017.9 1226.3,1019.7 1226.8,1021.5 1227.2,1023.4 1227.6,1025.3 1228.1,1027.2 1228.5,1029.1 1228.9,1031.1 1229.4,1033.0 1229.8,1034.8 1230.2,1036.6 1230.7,1038.3 1231.1,1040.0 1231.5,1041.5 1231.9,1042.9 1232.4,1044.1 1232.8,1045.2 1233.2,1046.1 1233.7,1046.9 1234.1,1047.5 1234.5,1047.9 1235.0,1048.1 1235.4,1048.3 1235.8,1048.3 1236.3,1048.3 1236.7,1048.2 1237.1,1048.2 1237.6,1048.1 1238.0,1047.9 1238.4,1047.8 1238.9,1047.7 1239.3,1047.6 1239.7,1047.5 1240.2,1047.4 1240.6,1047.3 1241.0,1047.2 1241.5,1047.2 1241.9,1047.1 1242.3,1047.2 1242.8,1047.2 1243.2,1047.4 1243.6,1047.6 1244.1,1047.9 1244.5,1048.2 1244.9,1048.6 1245.4,1049.1 1245.8,1049.6 1246.2,1050.3 1246.7,1050.9 1247.1,1051.6 1247.5,1052.4 1248.0,1053.2 1248.4,1054.0 1248.8,1054.8 1249.3,1055.7 1249.7,1056.6 1250.1,1057.5 1250.5,1058.4 1251.0,1059.3 1251.4,1060.2 1251.8,1061.1 1252.3,1062.0 1252.7,1062.9 1253.1,1063.7 1253.6,1064.6 1254.0,1065.4 1254.4,1066.2 1254.9,1067.0 1255.3,1067.8 1255.7,1068.6 1256.2,1069.5 1256.6,1070.3 1257.0,1071.2 1257.5,1072.0 1257.9,1072.9 1258.3,1073.8 1258.8,1074.6 1259.2,1075.5 1259.6,1076.3 1260.1,1077.1 1260.5,1077.9 1260.9,1078.7 1261.4,1079.5 1261.8,1080.2 1262.2,1080.9 1262.7,1081.5 1263.1,1082.2 1263.5,1082.8 1264.0,1083.4 1264.4,1084.1 1264.8,1084.7 1265.3,1085.3 1265.7,1085.9 1266.1,1086.5 1266.6,1087.1 1267.0,1087.7 1267.4,1088.2 1267.9,1088.8 1268.3,1089.3 1268.7,1089.8 1269.1,1090.2 1269.6,1090.6 1270.0,1091.0 1270.4,1091.3 1270.9,1091.6 1271.3,1091.8 1271.7,1092.0 1272.2,1092.1 1272.6,1092.2 1273.0,1092.2 1273.5,1092.2 1273.9,1092.2 1274.3,1092.1 1274.8,1092.1 1275.2,1092.0 1275.6,1091.8 1276.1,1091.7 1276.5,1091.5 1276.9,1091.3 1277.4,1091.1 1277.8,1090.9 1278.2,1090.7 1278.7,1090.5 1279.1,1090.2 1279.5,1089.9 1280.0,1089.6 1280.4,1089.3 1280.8,1089.0 1281.3,1088.7 1281.7,1088.3 1282.1,1088.0 1282.6,1087.6 1283.0,1087.2 1283.4,1086.8 1283.9,1086.5 1284.3,1086.0 1284.7,1085.6 1285.2,1085.2 1285.6,1084.8 1286.0,1084.3 1286.5,1083.9 1286.9,1083.5 1287.3,1083.0 1287.8,1082.5 1288.2,1082.1 1288.6,1081.6 1289.0,1081.1 1289.5,1080.7 1289.9,1080.2 1290.3,1079.7 1290.8,1079.2 1291.2,1078.6 1291.6,1078.1 1292.1,1077.5 1292.5,1076.8 1292.9,1076.2 1293.4,1075.5 1293.8,1074.7 1294.2,1073.9 1294.7,1073.1 1295.1,1072.2 1295.5,1071.4 1296.0,1070.4 1296.4,1069.5 1296.8,1068.6 1297.3,1067.6 1297.7,1066.6 1298.1,1065.6 1298.6,1064.6 1299.0,1063.6 1299.4,1062.6 1299.9,1061.6 1300.3,1060.6 1300.7,1059.7 1301.2,1058.7 1301.6,1057.7 1302.0,1056.7 1302.5,1055.7 1302.9,1054.7 1303.3,1053.7 1303.8,1052.7 1304.2,1051.7 1304.6,1050.7 1305.1,1049.6 1305.5,1048.5 1305.9,1047.5 1306.4,1046.4 1306.8,1045.3 1307.2,1044.3 1307.6,1043.2 1308.1,1042.2 1308.5,1041.1 1308.9,1040.1 1309.4,1039.1 1309.8,1038.1 1310.2,1037.1 1310.7,1036.2 1311.1,1035.3 1311.5,1034.4 1312.0,1033.5 1312.4,1032.6 1312.8,1031.8 1313.3,1031.0 1313.7,1030.2 1314.1,1029.5 1314.6,1028.7 1315.0,1028.0 1315.4,1027.2 1315.9,1026.5 1316.3,1025.7 1316.7,1025.0 1317.2,1024.3 1317.6,1023.5 1318.0,1022.7 1318.5,1021.9 1318.9,1021.1 1319.3,1020.3 1319.8,1019.4 1320.2,1018.6 1320.6,1017.7 1321.1,1016.7 1321.5,1015.8 1321.9,1014.8 1322.4,1013.8 1322.8,1012.8 1323.2,1011.7 1323.7,1010.7 1324.1,1009.6 1324.5,1008.5 1325.0,1007.4 1325.4,1006.2 1325.8,1005.0 1326.2,1003.7 1326.7,1002.3 1327.1,1000.9 1327.5,999.5 1328.0,998.0 1328.4,996.7 1328.8,995.4 1329.3,994.3 1329.7,993.3 1330.1,992.6 1330.6,992.2 1331.0,992.0 1331.4,992.2 1331.9,992.8 1332.3,993.6 1332.7,994.7 1333.2,996.1 1333.6,997.7 1334.0,999.4 1334.5,1001.3 1334.9,1003.3 1335.3,1005.3 1335.8,1007.3 1336.2,1009.3 1336.6,1011.2 1337.1,1013.1 1337.5,1014.9 1337.9,1016.7 1338.4,1018.5 1338.8,1020.3 1339.2,1022.2 1339.7,1024.0 1340.1,1026.0 1340.5,1027.9 1341.0,1029.8 1341.4,1031.7 1341.8,1033.6 1342.3,1035.4 1342.7,1037.2 1343.1,1038.9 1343.6,1040.5 1344.0,1042.0 1344.4,1043.3 1344.9,1044.5 1345.3,1045.6 1345.7,1046.4 1346.1,1047.1 1346.6,1047.6 1347.0,1048.0 1347.4,1048.2 1347.9,1048.4 1348.3,1048.4 1348.7,1048.5 1349.2,1048.5 1349.6,1048.5 1350.0,1048.5 1350.5,1048.5 1350.9,1048.5 1351.3,1048.5 1351.8,1048.5 1352.2,1048.5 1352.6,1048.5 1353.1,1048.5 1353.5,1048.5 1353.9,1048.5 1354.4,1048.5 1354.8,1048.5" fill="none" stroke="#2f6f66" stroke-width="1.8" stroke-linejoin="round" clip-path="url(#cle)"/>
<path d="M1030.8,1184.4L1031.2,1181.0 1031.7,1177.8 1032.1,1174.9 1032.5,1172.2 1033.0,1169.7 1033.4,1167.4 1033.8,1165.3 1034.3,1163.4 1034.7,1161.7 1035.1,1160.2 1035.6,1158.9 1036.0,1157.7 1036.4,1156.7 1036.9,1155.8 1037.3,1155.1 1037.7,1154.5 1038.2,1154.0 1038.6,1153.7 1039.0,1153.5 1039.5,1153.4 1039.9,1153.5 1040.3,1153.6 1040.7,1153.8 1041.2,1154.1 1041.6,1154.5 1042.0,1154.9 1042.5,1155.4 1042.9,1156.0 1043.3,1156.6 1043.8,1157.3 1044.2,1158.0 1044.6,1158.8 1045.1,1159.5 1045.5,1160.3 1045.9,1161.1 1046.4,1162.0 1046.8,1162.8 1047.2,1163.6 1047.7,1164.4 1048.1,1165.1 1048.5,1165.9 1049.0,1166.6 1049.4,1167.2 1049.8,1167.8 1050.3,1168.4 1050.7,1168.9 1051.1,1169.3 1051.6,1169.7 1052.0,1170.0 1052.4,1170.1 1052.9,1170.2 1053.3,1170.2 1053.7,1170.1 1054.2,1169.9 1054.6,1169.5 1055.0,1169.0 1055.5,1168.4 1055.9,1167.7 1056.3,1166.9 1056.8,1165.9 1057.2,1164.7 1057.6,1163.5 1058.1,1162.0 1058.5,1160.5 1058.9,1158.8 1059.4,1156.9 1059.8,1154.9 1060.2,1152.7 1060.6,1150.3 1061.1,1147.8 1061.5,1145.2 1061.9,1142.3 1062.4,1139.3 1062.8,1136.1 1063.2,1132.7 1063.7,1129.2 1064.1,1125.4 1064.5,1121.5 1065.0,1117.4 1065.4,1113.0 1065.8,1108.5 1066.3,1103.9 1066.7,1099.0 1067.1,1094.0 1067.6,1088.9 1068.0,1083.6 1068.4,1078.2 1068.9,1072.8 1069.3,1067.2 1069.7,1061.5 1070.2,1055.8 1070.6,1050.1 1071.0,1044.3 1071.5,1038.4 1071.9,1032.6 1072.3,1026.8 1072.8,1020.9 1073.2,1015.1 1073.6,1009.3 1074.1,1003.6 1074.5,997.9 1074.9,992.3 1075.4,986.8 1075.8,981.4 1076.2,976.1 1076.7,970.9 1077.1,965.8 1077.5,960.9 1078.0,956.1 1078.4,951.5 1078.8,947.1 1079.2,942.9 1079.7,938.8 1080.1,934.8 1080.5,931.0 1081.0,927.3 1081.4,923.8 1081.8,920.4 1082.3,917.1 1082.7,914.0 1083.1,910.9 1083.6,908.0 1084.0,905.1 1084.4,902.4 1084.9,899.7 1085.3,897.2 1085.7,894.7 1086.2,892.3 1086.6,889.9 1087.0,887.7 1087.5,885.4 1087.9,883.3 1088.3,881.2 1088.8,879.2 1089.2,877.3 1089.6,875.4 1090.1,873.7 1090.5,872.0 1090.9,870.4 1091.4,868.9 1091.8,867.6 1092.2,866.3 1092.7,865.1 1093.1,864.1 1093.5,863.2 1094.0,862.4 1094.4,861.8 1094.8,861.2 1095.3,860.9 1095.7,860.6 1096.1,860.5 1096.6,860.6 1097.0,860.9 1097.4,861.4 1097.8,862.2 1098.3,863.2 1098.7,864.5 1099.1,866.1 1099.6,868.0 1100.0,870.3 1100.4,873.0 1100.9,876.1 1101.3,879.6 1101.7,883.6 1102.2,888.0 1102.6,892.9 1103.0,898.4 1103.5,904.4 1103.9,910.9 1104.3,918.0 1104.8,925.6 1105.2,933.6 1105.6,942.0 1106.1,950.6 1106.5,959.6 1106.9,968.7 1107.4,978.0 1107.8,987.4 1108.2,996.8 1108.7,1006.1 1109.1,1015.4 1109.5,1024.5 1110.0,1033.4 1110.4,1042.1 1110.8,1050.4 1111.3,1058.5 1111.7,1066.3 1112.1,1073.9 1112.6,1081.2 1113.0,1088.2 1113.4,1095.0 1113.9,1101.5 1114.3,1107.8 1114.7,1113.8 1115.2,1119.6 1115.6,1125.1 1116.0,1130.4 1116.5,1135.5 1116.9,1140.4 1117.3,1145.0 1117.7,1149.4 1118.2,1153.6 1118.6,1157.6 1119.0,1161.4 1119.5,1165.0 1119.9,1168.4 1120.3,1171.6 1120.8,1174.6 1121.2,1177.4 1121.6,1180.0 1122.1,1182.5 1122.5,1184.8 1122.9,1186.9 1123.4,1188.9 1123.8,1190.7 1124.2,1192.4 1124.7,1194.0 1125.1,1195.4 1125.5,1196.7 1126.0,1197.9 1126.4,1198.9 1126.8,1199.9 1127.3,1200.7 1127.7,1201.4 1128.1,1202.1 1128.6,1202.6 1129.0,1203.1 1129.4,1203.5 1129.9,1203.8 1130.3,1204.0 1130.7,1204.2 1131.2,1204.3 1131.6,1204.3 1132.0,1204.3 1132.5,1204.2 1132.9,1204.0 1133.3,1203.7 1133.8,1203.4 1134.2,1203.0 1134.6,1202.6 1135.1,1202.1 1135.5,1201.5 1135.9,1200.9 1136.3,1200.2 1136.8,1199.5 1137.2,1198.7 1137.6,1197.8 1138.1,1196.9 1138.5,1196.0 1138.9,1195.0 1139.4,1193.9 1139.8,1192.8 1140.2,1191.7 1140.7,1190.5 1141.1,1189.3 1141.5,1188.0 1142.0,1186.7 1142.4,1185.4 1142.8,1184.0 1143.3,1182.6 1143.7,1181.1 1144.1,1179.7 1144.6,1178.2 1145.0,1176.7 1145.4,1175.3 1145.9,1173.8 1146.3,1172.4 1146.7,1170.9 1147.2,1169.5 1147.6,1168.2 1148.0,1166.8 1148.5,1165.6 1148.9,1164.3 1149.3,1163.2 1149.8,1162.0 1150.2,1161.0 1150.6,1160.0 1151.1,1159.1 1151.5,1158.3 1151.9,1157.6 1152.4,1157.0 1152.8,1156.5 1153.2,1156.1 1153.7,1155.8 1154.1,1155.7 1154.5,1155.7 1154.9,1155.8 1155.4,1156.0 1155.8,1156.4 1156.2,1156.8 1156.7,1157.4 1157.1,1158.1 1157.5,1158.8 1158.0,1159.6 1158.4,1160.4 1158.8,1161.3 1159.3,1162.2 1159.7,1163.1 1160.1,1164.0 1160.6,1164.9 1161.0,1165.8 1161.4,1166.6 1161.9,1167.4 1162.3,1168.2 1162.7,1168.9 1163.2,1169.5 1163.6,1170.0 1164.0,1170.4 1164.5,1170.8 1164.9,1170.9 1165.3,1171.0 1165.8,1170.9 1166.2,1170.6 1166.6,1170.2 1167.1,1169.7 1167.5,1168.9 1167.9,1168.1 1168.4,1167.0 1168.8,1165.8 1169.2,1164.5 1169.7,1163.0 1170.1,1161.4 1170.5,1159.6 1171.0,1157.7 1171.4,1155.7 1171.8,1153.5 1172.3,1151.1 1172.7,1148.6 1173.1,1146.0 1173.6,1143.2 1174.0,1140.4 1174.4,1137.3 1174.8,1134.2 1175.3,1130.9 1175.7,1127.5 1176.1,1123.9 1176.6,1120.3 1177.0,1116.5 1177.4,1112.5 1177.9,1108.5 1178.3,1104.3 1178.7,1100.0 1179.2,1095.6 1179.6,1091.1 1180.0,1086.5 1180.5,1081.8 1180.9,1077.0 1181.3,1072.1 1181.8,1067.1 1182.2,1062.1 1182.6,1057.0 1183.1,1051.9 1183.5,1046.7 1183.9,1041.4 1184.4,1036.2 1184.8,1030.9 1185.2,1025.6 1185.7,1020.2 1186.1,1014.9 1186.5,1009.6 1187.0,1004.3 1187.4,999.0 1187.8,993.7 1188.3,988.5 1188.7,983.3 1189.1,978.1 1189.6,973.0 1190.0,968.0 1190.4,963.0 1190.9,958.1 1191.3,953.3 1191.7,948.6 1192.2,944.0 1192.6,939.5 1193.0,935.1 1193.4,930.8 1193.9,926.6 1194.3,922.5 1194.7,918.6 1195.2,914.8 1195.6,911.0 1196.0,907.5 1196.5,904.0 1196.9,900.7 1197.3,897.4 1197.8,894.4 1198.2,891.4 1198.6,888.5 1199.1,885.8 1199.5,883.2 1199.9,880.8 1200.4,878.5 1200.8,876.3 1201.2,874.2 1201.7,872.3 1202.1,870.5 1202.5,868.8 1203.0,867.3 1203.4,865.9 1203.8,864.7 1204.3,863.6 1204.7,862.6 1205.1,861.8 1205.6,861.1 1206.0,860.5 1206.4,860.1 1206.9,859.9 1207.3,859.8 1207.7,859.8 1208.2,860.0 1208.6,860.4 1209.0,860.9 1209.5,861.7 1209.9,862.7 1210.3,864.0 1210.8,865.5 1211.2,867.4 1211.6,869.6 1212.0,872.2 1212.5,875.1 1212.9,878.4 1213.3,882.2 1213.8,886.4 1214.2,891.1 1214.6,896.3 1215.1,901.9 1215.5,908.2 1215.9,915.0 1216.4,922.2 1216.8,930.0 1217.2,938.1 1217.7,946.5 1218.1,955.2 1218.5,964.1 1219.0,973.2 1219.4,982.4 1219.8,991.6 1220.3,1000.8 1220.7,1010.0 1221.1,1019.0 1221.6,1027.8 1222.0,1036.4 1222.4,1044.7 1222.9,1052.8 1223.3,1060.5 1223.7,1068.0 1224.2,1075.2 1224.6,1082.1 1225.0,1088.8 1225.5,1095.3 1225.9,1101.4 1226.3,1107.4 1226.8,1113.1 1227.2,1118.6 1227.6,1123.9 1228.1,1129.0 1228.5,1133.9 1228.9,1138.5 1229.4,1143.0 1229.8,1147.3 1230.2,1151.4 1230.7,1155.3 1231.1,1159.1 1231.5,1162.7 1231.9,1166.2 1232.4,1169.4 1232.8,1172.6 1233.2,1175.6 1233.7,1178.4 1234.1,1181.1 1234.5,1183.7 1235.0,1186.1 1235.4,1188.3 1235.8,1190.5 1236.3,1192.5 1236.7,1194.3 1237.1,1196.0 1237.6,1197.6 1238.0,1199.1 1238.4,1200.4 1238.9,1201.6 1239.3,1202.7 1239.7,1203.7 1240.2,1204.5 1240.6,1205.2 1241.0,1205.8 1241.5,1206.3 1241.9,1206.7 1242.3,1207.0 1242.8,1207.1 1243.2,1207.2 1243.6,1207.1 1244.1,1207.0 1244.5,1206.8 1244.9,1206.5 1245.4,1206.1 1245.8,1205.6 1246.2,1205.0 1246.7,1204.4 1247.1,1203.7 1247.5,1202.9 1248.0,1202.0 1248.4,1201.1 1248.8,1200.2 1249.3,1199.1 1249.7,1198.1 1250.1,1196.9 1250.5,1195.8 1251.0,1194.6 1251.4,1193.3 1251.8,1192.0 1252.3,1190.7 1252.7,1189.4 1253.1,1188.0 1253.6,1186.6 1254.0,1185.2 1254.4,1183.8 1254.9,1182.3 1255.3,1180.9 1255.7,1179.5 1256.2,1178.1 1256.6,1176.6 1257.0,1175.2 1257.5,1173.8 1257.9,1172.5 1258.3,1171.2 1258.8,1169.9 1259.2,1168.6 1259.6,1167.4 1260.1,1166.2 1260.5,1165.1 1260.9,1164.0 1261.4,1163.0 1261.8,1162.1 1262.2,1161.2 1262.7,1160.4 1263.1,1159.7 1263.5,1159.1 1264.0,1158.5 1264.4,1158.1 1264.8,1157.7 1265.3,1157.5 1265.7,1157.3 1266.1,1157.3 1266.6,1157.4 1267.0,1157.6 1267.4,1157.9 1267.9,1158.3 1268.3,1158.8 1268.7,1159.4 1269.1,1160.1 1269.6,1160.8 1270.0,1161.6 1270.4,1162.4 1270.9,1163.2 1271.3,1164.0 1271.7,1164.9 1272.2,1165.8 1272.6,1166.6 1273.0,1167.4 1273.5,1168.2 1273.9,1168.9 1274.3,1169.6 1274.8,1170.2 1275.2,1170.7 1275.6,1171.2 1276.1,1171.5 1276.5,1171.8 1276.9,1171.9 1277.4,1171.9 1277.8,1171.7 1278.2,1171.4 1278.7,1171.0 1279.1,1170.4 1279.5,1169.7 1280.0,1168.8 1280.4,1167.8 1280.8,1166.6 1281.3,1165.3 1281.7,1163.9 1282.1,1162.3 1282.6,1160.5 1283.0,1158.7 1283.4,1156.7 1283.9,1154.6 1284.3,1152.3 1284.7,1149.9 1285.2,1147.3 1285.6,1144.7 1286.0,1141.9 1286.5,1139.0 1286.9,1135.9 1287.3,1132.7 1287.8,1129.4 1288.2,1126.0 1288.6,1122.4 1289.0,1118.7 1289.5,1114.9 1289.9,1111.0 1290.3,1107.0 1290.8,1102.8 1291.2,1098.5 1291.6,1094.1 1292.1,1089.6 1292.5,1085.0 1292.9,1080.4 1293.4,1075.6 1293.8,1070.7 1294.2,1065.8 1294.7,1060.8 1295.1,1055.7 1295.5,1050.6 1296.0,1045.4 1296.4,1040.2 1296.8,1035.0 1297.3,1029.7 1297.7,1024.4 1298.1,1019.1 1298.6,1013.8 1299.0,1008.5 1299.4,1003.2 1299.9,997.9 1300.3,992.6 1300.7,987.4 1301.2,982.2 1301.6,977.0 1302.0,971.9 1302.5,966.8 1302.9,961.8 1303.3,956.9 1303.8,952.0 1304.2,947.2 1304.6,942.5 1305.1,937.9 1305.5,933.4 1305.9,929.1 1306.4,924.8 1306.8,920.6 1307.2,916.5 1307.6,912.6 1308.1,908.8 1308.5,905.1 1308.9,901.5 1309.4,898.1 1309.8,894.7 1310.2,891.6 1310.7,888.5 1311.1,885.6 1311.5,882.9 1312.0,880.3 1312.4,877.8 1312.8,875.5 1313.3,873.4 1313.7,871.4 1314.1,869.6 1314.6,867.9 1315.0,866.4 1315.4,865.1 1315.9,864.0 1316.3,863.0 1316.7,862.2 1317.2,861.6 1317.6,861.2 1318.0,861.0 1318.5,860.9 1318.9,861.1 1319.3,861.5 1319.8,862.0 1320.2,862.8 1320.6,863.8 1321.1,865.0 1321.5,866.4 1321.9,868.1 1322.4,870.0 1322.8,872.1 1323.2,874.5 1323.7,877.1 1324.1,880.0 1324.5,883.1 1325.0,886.5 1325.4,890.2 1325.8,894.2 1326.2,898.4 1326.7,902.9 1327.1,907.8 1327.5,912.9 1328.0,918.3 1328.4,923.9 1328.8,929.9 1329.3,936.0 1329.7,942.4 1330.1,948.9 1330.6,955.6 1331.0,962.5 1331.4,969.5 1331.9,976.6 1332.3,983.8 1332.7,991.1 1333.2,998.4 1333.6,1005.8 1334.0,1013.2 1334.5,1020.6 1334.9,1027.9 1335.3,1035.2 1335.8,1042.5 1336.2,1049.7 1336.6,1056.8 1337.1,1063.8 1337.5,1070.7 1337.9,1077.6 1338.4,1084.3 1338.8,1090.9 1339.2,1097.4 1339.7,1103.7 1340.1,1110.0 1340.5,1116.0 1341.0,1121.9 1341.4,1127.7 1341.8,1133.3 1342.3,1138.7 1342.7,1143.9 1343.1,1149.0 1343.6,1153.8 1344.0,1158.4 1344.4,1162.8 1344.9,1167.0 1345.3,1171.0 1345.7,1174.7 1346.1,1178.3 1346.6,1181.6 1347.0,1184.7 1347.4,1187.6 1347.9,1190.3 1348.3,1192.8 1348.7,1195.1 1349.2,1197.2 1349.6,1199.1 1350.0,1200.8 1350.5,1202.3 1350.9,1203.7 1351.3,1204.8 1351.8,1205.8 1352.2,1206.6 1352.6,1207.2 1353.1,1207.7 1353.5,1208.0 1353.9,1208.1 1354.4,1208.1 1354.8,1207.9" fill="none" stroke="#2a1733" stroke-width="2.0" stroke-linejoin="round" clip-path="url(#cle)"/>
<path d="M814.80,1221.80V1216.00 M814.80,815.30V821.10 M922.80,1221.80V1216.00 M922.80,815.30V821.10 M1030.80,1221.80V1216.00 M1030.80,815.30V821.10 M1138.80,1221.80V1216.00 M1138.80,815.30V821.10 M1246.80,1221.80V1216.00 M1246.80,815.30V821.10 M1354.80,1221.80V1216.00 M1354.80,815.30V821.10 M814.80,1221.80H820.60 M1354.80,1221.80H1349.00 M814.80,1114.83H820.60 M1354.80,1114.83H1349.00 M814.80,1007.85H820.60 M1354.80,1007.85H1349.00 M814.80,900.88H820.60 M1354.80,900.88H1349.00" stroke="#8e8e8e" stroke-width="1.2" fill="none"/>
<rect x="814.80" y="815.30" width="540.00" height="406.50" fill="none" stroke="#8e8e8e" stroke-width="1.2"/>
<text x="791.07" y="1231.76" font-size="27.50">0</text>
<text x="775.81" y="1124.79" font-size="27.50">50</text>
<text x="760.47" y="1017.81" font-size="27.50">100</text>
<text x="760.47" y="910.84" font-size="27.50">150</text>
<text x="807.22" y="1257.16" font-size="27.20">0</text>
<text x="914.88" y="1257.16" font-size="27.20">1</text>
<text x="1023.25" y="1257.16" font-size="27.20">2</text>
<text x="1131.32" y="1257.16" font-size="27.20">3</text>
<text x="1239.32" y="1257.16" font-size="27.20">4</text>
<text x="1347.25" y="1257.16" font-size="27.20">5</text>
<text x="1031.62" y="1295.30" font-size="31.25" textLength="110.05" lengthAdjust="spacingAndGlyphs">Time (s)</text>
<text transform="translate(751.20,1136.55) rotate(-90)" x="0" y="0" font-size="33.87" textLength="243.39" lengthAdjust="spacingAndGlyphs">Pressure (mmHg)</text>
<text transform="translate(1022.00,942.96) rotate(-90)" x="0" y="0" font-size="25.58" textLength="111.83" lengthAdjust="spacingAndGlyphs">Triggering</text>
<text x="1071.69" y="838.20" font-size="25.00" textLength="38.32" lengthAdjust="spacingAndGlyphs">ON</text>
<text x="1118.92" y="863.90" font-size="26.02" textLength="49.62" lengthAdjust="spacingAndGlyphs">OFF</text>
<text x="1188.09" y="838.20" font-size="25.00" textLength="38.10" lengthAdjust="spacingAndGlyphs">ON</text>
<text x="1231.05" y="868.60" font-size="26.02" textLength="48.58" lengthAdjust="spacingAndGlyphs">OFF</text>
<rect x="833.4" y="828.4" width="104" height="64" fill="#fff" stroke="#8e8e8e" stroke-width="1.2"/>
<line x1="839.7" y1="845.9" x2="882.3" y2="845.9" stroke="#553060" stroke-width="2"/>
<line x1="839.7" y1="875" x2="882.3" y2="875" stroke="#4f8a7c" stroke-width="1.8"/>
<text x="886.28" y="854.70" font-size="24.13" textLength="44.36" lengthAdjust="spacingAndGlyphs">LVP</text>
<text x="887.34" y="884.10" font-size="24.42" textLength="43.26" lengthAdjust="spacingAndGlyphs">AoP</text>
<clipPath id="clf"><rect x="1526.8" y="815.3" width="531.8" height="398.7"/></clipPath>
<rect x="1765.5" y="816.3" width="293.1" height="396.7" fill="#fdf6fd"/>
<rect x="1766.8" y="816.3" width="47.2" height="396.7" fill="#eee3f0"/>
<rect x="1865.0" y="816.3" width="39.8" height="396.7" fill="#eee3f0"/>
<rect x="1963.2" y="816.3" width="44.6" height="396.7" fill="#eee3f0"/>
<path d="M1766.8,816.3V1213.0 M1814.0,816.3V1213.0 M1865.0,816.3V1213.0 M1904.8,816.3V1213.0 M1963.2,816.3V1213.0 M2007.9,816.3V1213.0" stroke="#707070" stroke-width="1.3" stroke-dasharray="1.6 3.3" fill="none"/>
<line x1="1765.5" y1="816.3" x2="1765.5" y2="1213.0" stroke="#555" stroke-width="1.3"/>
<path d="M1526.8,1195.5L1527.1,1195.5 1527.4,1195.4 1527.7,1195.4 1528.0,1195.3 1528.3,1195.3 1528.6,1195.2 1528.9,1195.2 1529.2,1195.1 1529.5,1195.0 1529.8,1195.0 1530.1,1194.9 1530.3,1194.8 1530.6,1194.8 1530.9,1194.7 1531.2,1194.7 1531.5,1194.6 1531.8,1194.5 1532.1,1194.5 1532.4,1194.4 1532.7,1194.4 1533.0,1194.3 1533.3,1194.3 1533.6,1194.2 1533.9,1194.2 1534.2,1194.1 1534.5,1194.1 1534.8,1194.0 1535.1,1194.0 1535.4,1193.9 1535.7,1193.9 1536.0,1193.8 1536.3,1193.8 1536.6,1193.7 1536.9,1193.7 1537.1,1193.7 1537.4,1193.6 1537.7,1193.6 1538.0,1193.6 1538.3,1193.5 1538.6,1193.5 1538.9,1193.5 1539.2,1193.4 1539.5,1193.4 1539.8,1193.4 1540.1,1193.4 1540.4,1193.3 1540.7,1193.3 1541.0,1193.3 1541.3,1193.3 1541.6,1193.3 1541.9,1193.2 1542.2,1193.2 1542.5,1193.2 1542.8,1193.2 1543.1,1193.2 1543.4,1193.2 1543.6,1193.2 1543.9,1193.1 1544.2,1193.1 1544.5,1193.1 1544.8,1193.1 1545.1,1193.1 1545.4,1193.1 1545.7,1193.1 1546.0,1193.1 1546.3,1193.0 1546.6,1193.0 1546.9,1193.0 1547.2,1193.0 1547.5,1193.0 1547.8,1193.0 1548.1,1192.9 1548.4,1192.9 1548.7,1192.9 1549.0,1192.9 1549.3,1192.9 1549.6,1192.8 1549.9,1192.8 1550.2,1192.8 1550.4,1192.8 1550.7,1192.7 1551.0,1192.7 1551.3,1192.7 1551.6,1192.6 1551.9,1192.6 1552.2,1192.5 1552.5,1192.4 1552.8,1192.4 1553.1,1192.3 1553.4,1192.2 1553.7,1192.1 1554.0,1192.0 1554.3,1191.9 1554.6,1191.8 1554.9,1191.7 1555.2,1191.6 1555.5,1191.4 1555.8,1191.3 1556.1,1191.1 1556.4,1191.0 1556.7,1190.8 1557.0,1190.6 1557.2,1190.4 1557.5,1190.2 1557.8,1190.0 1558.1,1189.8 1558.4,1189.5 1558.7,1189.2 1559.0,1188.9 1559.3,1188.6 1559.6,1188.2 1559.9,1187.8 1560.2,1187.3 1560.5,1186.8 1560.8,1186.3 1561.1,1185.6 1561.4,1184.9 1561.7,1184.1 1562.0,1183.3 1562.3,1182.3 1562.6,1181.2 1562.9,1180.0 1563.2,1178.7 1563.5,1177.3 1563.8,1175.8 1564.0,1174.2 1564.3,1172.4 1564.6,1170.5 1564.9,1168.5 1565.2,1166.3 1565.5,1164.1 1565.8,1161.7 1566.1,1159.1 1566.4,1156.3 1566.7,1153.4 1567.0,1150.3 1567.3,1146.9 1567.6,1143.3 1567.9,1139.3 1568.2,1135.1 1568.5,1130.7 1568.8,1125.9 1569.1,1120.9 1569.4,1115.7 1569.7,1110.4 1570.0,1104.9 1570.3,1099.5 1570.6,1094.0 1570.8,1088.6 1571.1,1083.4 1571.4,1078.3 1571.7,1073.5 1572.0,1068.8 1572.3,1064.5 1572.6,1060.4 1572.9,1056.5 1573.2,1052.8 1573.5,1049.4 1573.8,1046.2 1574.1,1043.2 1574.4,1040.3 1574.7,1037.7 1575.0,1035.2 1575.3,1033.0 1575.6,1030.9 1575.9,1028.9 1576.2,1027.1 1576.5,1025.4 1576.8,1023.9 1577.1,1022.5 1577.3,1021.2 1577.6,1019.9 1577.9,1018.8 1578.2,1017.7 1578.5,1016.7 1578.8,1015.7 1579.1,1014.8 1579.4,1014.0 1579.7,1013.2 1580.0,1012.4 1580.3,1011.7 1580.6,1011.0 1580.9,1010.3 1581.2,1009.8 1581.5,1009.2 1581.8,1008.8 1582.1,1008.3 1582.4,1008.0 1582.7,1007.6 1583.0,1007.4 1583.3,1007.1 1583.6,1007.0 1583.9,1006.9 1584.1,1006.8 1584.4,1006.8 1584.7,1006.8 1585.0,1006.8 1585.3,1006.9 1585.6,1007.0 1585.9,1007.2 1586.2,1007.4 1586.5,1007.6 1586.8,1007.8 1587.1,1008.0 1587.4,1008.3 1587.7,1008.6 1588.0,1008.9 1588.3,1009.2 1588.6,1009.6 1588.9,1009.9 1589.2,1010.3 1589.5,1010.7 1589.8,1011.1 1590.1,1011.5 1590.4,1011.9 1590.7,1012.3 1590.9,1012.8 1591.2,1013.2 1591.5,1013.7 1591.8,1014.1 1592.1,1014.6 1592.4,1015.1 1592.7,1015.6 1593.0,1016.1 1593.3,1016.6 1593.6,1017.2 1593.9,1017.8 1594.2,1018.3 1594.5,1019.0 1594.8,1019.6 1595.1,1020.3 1595.4,1021.0 1595.7,1021.7 1596.0,1022.5 1596.3,1023.3 1596.6,1024.2 1596.9,1025.0 1597.2,1026.0 1597.5,1027.0 1597.7,1028.0 1598.0,1029.1 1598.3,1030.3 1598.6,1031.6 1598.9,1032.9 1599.2,1034.4 1599.5,1035.9 1599.8,1037.6 1600.1,1039.5 1600.4,1041.5 1600.7,1043.6 1601.0,1045.9 1601.3,1048.4 1601.6,1051.0 1601.9,1053.8 1602.2,1056.7 1602.5,1059.8 1602.8,1062.9 1603.1,1066.2 1603.4,1069.6 1603.7,1073.1 1604.0,1076.7 1604.2,1080.4 1604.5,1084.1 1604.8,1088.0 1605.1,1091.9 1605.4,1095.9 1605.7,1100.0 1606.0,1104.1 1606.3,1108.3 1606.6,1112.5 1606.9,1116.7 1607.2,1120.9 1607.5,1125.1 1607.8,1129.2 1608.1,1133.3 1608.4,1137.3 1608.7,1141.2 1609.0,1145.0 1609.3,1148.8 1609.6,1152.4 1609.9,1155.9 1610.2,1159.2 1610.5,1162.5 1610.8,1165.5 1611.0,1168.4 1611.3,1171.2 1611.6,1173.8 1611.9,1176.2 1612.2,1178.4 1612.5,1180.4 1612.8,1182.3 1613.1,1184.0 1613.4,1185.5 1613.7,1186.9 1614.0,1188.2 1614.3,1189.3 1614.6,1190.4 1614.9,1191.3 1615.2,1192.1 1615.5,1192.8 1615.8,1193.4 1616.1,1193.9 1616.4,1194.3 1616.7,1194.6 1617.0,1194.9 1617.3,1195.1 1617.6,1195.2 1617.8,1195.3 1618.1,1195.3 1618.4,1195.4 1618.7,1195.4 1619.0,1195.4 1619.3,1195.3 1619.6,1195.3 1619.9,1195.3 1620.2,1195.2 1620.5,1195.2 1620.8,1195.1 1621.1,1195.0 1621.4,1195.0 1621.7,1194.9 1622.0,1194.8 1622.3,1194.8 1622.6,1194.7 1622.9,1194.6 1623.2,1194.5 1623.5,1194.5 1623.8,1194.4 1624.1,1194.3 1624.4,1194.3 1624.6,1194.2 1624.9,1194.1 1625.2,1194.1 1625.5,1194.0 1625.8,1193.9 1626.1,1193.9 1626.4,1193.8 1626.7,1193.8 1627.0,1193.7 1627.3,1193.6 1627.6,1193.6 1627.9,1193.6 1628.2,1193.5 1628.5,1193.5 1628.8,1193.4 1629.1,1193.4 1629.4,1193.4 1629.7,1193.4 1630.0,1193.3 1630.3,1193.3 1630.6,1193.3 1630.9,1193.3 1631.1,1193.2 1631.4,1193.2 1631.7,1193.2 1632.0,1193.2 1632.3,1193.2 1632.6,1193.1 1632.9,1193.1 1633.2,1193.1 1633.5,1193.1 1633.8,1193.1 1634.1,1193.1 1634.4,1193.1 1634.7,1193.0 1635.0,1193.0 1635.3,1193.0 1635.6,1193.0 1635.9,1193.0 1636.2,1193.0 1636.5,1193.0 1636.8,1192.9 1637.1,1192.9 1637.4,1192.9 1637.7,1192.9 1637.9,1192.9 1638.2,1192.9 1638.5,1192.8 1638.8,1192.8 1639.1,1192.8 1639.4,1192.8 1639.7,1192.8 1640.0,1192.7 1640.3,1192.7 1640.6,1192.7 1640.9,1192.7 1641.2,1192.7 1641.5,1192.6 1641.8,1192.6 1642.1,1192.6 1642.4,1192.6 1642.7,1192.5 1643.0,1192.5 1643.3,1192.5 1643.6,1192.5 1643.9,1192.4 1644.2,1192.4 1644.5,1192.4 1644.7,1192.4 1645.0,1192.3 1645.3,1192.3 1645.6,1192.3 1645.9,1192.2 1646.2,1192.2 1646.5,1192.2 1646.8,1192.1 1647.1,1192.1 1647.4,1192.1 1647.7,1192.0 1648.0,1192.0 1648.3,1191.9 1648.6,1191.9 1648.9,1191.8 1649.2,1191.8 1649.5,1191.7 1649.8,1191.7 1650.1,1191.6 1650.4,1191.5 1650.7,1191.4 1651.0,1191.4 1651.3,1191.3 1651.5,1191.2 1651.8,1191.0 1652.1,1190.9 1652.4,1190.8 1652.7,1190.6 1653.0,1190.5 1653.3,1190.3 1653.6,1190.1 1653.9,1189.9 1654.2,1189.7 1654.5,1189.5 1654.8,1189.2 1655.1,1189.0 1655.4,1188.7 1655.7,1188.4 1656.0,1188.1 1656.3,1187.8 1656.6,1187.5 1656.9,1187.1 1657.2,1186.7 1657.5,1186.2 1657.8,1185.7 1658.1,1185.1 1658.3,1184.5 1658.6,1183.7 1658.9,1182.8 1659.2,1181.8 1659.5,1180.7 1659.8,1179.4 1660.1,1177.9 1660.4,1176.3 1660.7,1174.4 1661.0,1172.4 1661.3,1170.2 1661.6,1167.8 1661.9,1165.2 1662.2,1162.4 1662.5,1159.5 1662.8,1156.4 1663.1,1153.1 1663.4,1149.7 1663.7,1146.1 1664.0,1142.3 1664.3,1138.4 1664.6,1134.3 1664.8,1129.9 1665.1,1125.4 1665.4,1120.6 1665.7,1115.6 1666.0,1110.4 1666.3,1105.0 1666.6,1099.4 1666.9,1093.8 1667.2,1088.1 1667.5,1082.5 1667.8,1076.9 1668.1,1071.5 1668.4,1066.4 1668.7,1061.5 1669.0,1057.0 1669.3,1052.8 1669.6,1049.0 1669.9,1045.5 1670.2,1042.3 1670.5,1039.4 1670.8,1036.8 1671.1,1034.4 1671.4,1032.2 1671.6,1030.1 1671.9,1028.2 1672.2,1026.4 1672.5,1024.8 1672.8,1023.2 1673.1,1021.7 1673.4,1020.2 1673.7,1018.9 1674.0,1017.6 1674.3,1016.4 1674.6,1015.3 1674.9,1014.3 1675.2,1013.3 1675.5,1012.4 1675.8,1011.6 1676.1,1010.8 1676.4,1010.1 1676.7,1009.4 1677.0,1008.9 1677.3,1008.3 1677.6,1007.8 1677.9,1007.4 1678.2,1007.0 1678.4,1006.7 1678.7,1006.3 1679.0,1006.0 1679.3,1005.7 1679.6,1005.5 1679.9,1005.2 1680.2,1005.0 1680.5,1004.8 1680.8,1004.6 1681.1,1004.4 1681.4,1004.3 1681.7,1004.2 1682.0,1004.1 1682.3,1004.0 1682.6,1003.9 1682.9,1003.9 1683.2,1003.9 1683.5,1003.9 1683.8,1004.0 1684.1,1004.0 1684.4,1004.2 1684.7,1004.3 1685.0,1004.5 1685.2,1004.7 1685.5,1005.0 1685.8,1005.3 1686.1,1005.6 1686.4,1005.9 1686.7,1006.3 1687.0,1006.7 1687.3,1007.2 1687.6,1007.6 1687.9,1008.1 1688.2,1008.6 1688.5,1009.2 1688.8,1009.7 1689.1,1010.3 1689.4,1010.9 1689.7,1011.4 1690.0,1012.1 1690.3,1012.7 1690.6,1013.3 1690.9,1013.9 1691.2,1014.6 1691.5,1015.2 1691.7,1015.9 1692.0,1016.6 1692.3,1017.2 1692.6,1017.9 1692.9,1018.6 1693.2,1019.2 1693.5,1019.9 1693.8,1020.6 1694.1,1021.3 1694.4,1022.1 1694.7,1022.8 1695.0,1023.6 1695.3,1024.4 1695.6,1025.2 1695.9,1026.0 1696.2,1026.9 1696.5,1027.8 1696.8,1028.7 1697.1,1029.7 1697.4,1030.8 1697.7,1031.9 1698.0,1033.1 1698.3,1034.3 1698.5,1035.6 1698.8,1037.1 1699.1,1038.6 1699.4,1040.3 1699.7,1042.1 1700.0,1044.0 1700.3,1046.1 1700.6,1048.4 1700.9,1050.8 1701.2,1053.4 1701.5,1056.1 1701.8,1059.0 1702.1,1061.9 1702.4,1065.0 1702.7,1068.2 1703.0,1071.5 1703.3,1074.8 1703.6,1078.2 1703.9,1081.6 1704.2,1084.9 1704.5,1088.3 1704.8,1091.7 1705.1,1095.1 1705.3,1098.4 1705.6,1101.7 1705.9,1104.9 1706.2,1108.2 1706.5,1111.4 1706.8,1114.6 1707.1,1117.7 1707.4,1120.9 1707.7,1124.0 1708.0,1127.1 1708.3,1130.2 1708.6,1133.2 1708.9,1136.2 1709.2,1139.2 1709.5,1142.1 1709.8,1144.9 1710.1,1147.7 1710.4,1150.4 1710.7,1153.0 1711.0,1155.5 1711.3,1158.0 1711.6,1160.4 1711.9,1162.7 1712.1,1165.0 1712.4,1167.1 1712.7,1169.3 1713.0,1171.3 1713.3,1173.4 1713.6,1175.3 1713.9,1177.2 1714.2,1179.1 1714.5,1180.9 1714.8,1182.6 1715.1,1184.2 1715.4,1185.7 1715.7,1187.1 1716.0,1188.4 1716.3,1189.6 1716.6,1190.7 1716.9,1191.6 1717.2,1192.5 1717.5,1193.1 1717.8,1193.7 1718.1,1194.2 1718.4,1194.6 1718.7,1194.9 1718.9,1195.1 1719.2,1195.3 1719.5,1195.4 1719.8,1195.4 1720.1,1195.5 1720.4,1195.5 1720.7,1195.5 1721.0,1195.5 1721.3,1195.5 1721.6,1195.5 1721.9,1195.5 1722.2,1195.5 1722.5,1195.5 1722.8,1195.5 1723.1,1195.4 1723.4,1195.4 1723.7,1195.4 1724.0,1195.4 1724.3,1195.3 1724.6,1195.3 1724.9,1195.3 1725.2,1195.3 1725.4,1195.2 1725.7,1195.2 1726.0,1195.2 1726.3,1195.2 1726.6,1195.1 1726.9,1195.1 1727.2,1195.1 1727.5,1195.0 1727.8,1195.0 1728.1,1195.0 1728.4,1195.0 1728.7,1194.9 1729.0,1194.9 1729.3,1194.9 1729.6,1194.8 1729.9,1194.8 1730.2,1194.8 1730.5,1194.7 1730.8,1194.7 1731.1,1194.7 1731.4,1194.7 1731.7,1194.6 1732.0,1194.6 1732.2,1194.6 1732.5,1194.6 1732.8,1194.5 1733.1,1194.5 1733.4,1194.5 1733.7,1194.5 1734.0,1194.4 1734.3,1194.4 1734.6,1194.4 1734.9,1194.4 1735.2,1194.4 1735.5,1194.3 1735.8,1194.3 1736.1,1194.3 1736.4,1194.3 1736.7,1194.3 1737.0,1194.3 1737.3,1194.3 1737.6,1194.2 1737.9,1194.2 1738.2,1194.2 1738.5,1194.2 1738.8,1194.2 1739.0,1194.2 1739.3,1194.2 1739.6,1194.1 1739.9,1194.1 1740.2,1194.1 1740.5,1194.1 1740.8,1194.1 1741.1,1194.1 1741.4,1194.1 1741.7,1194.1 1742.0,1194.0 1742.3,1194.0 1742.6,1194.0 1742.9,1194.0 1743.2,1194.0 1743.5,1194.0 1743.8,1194.0 1744.1,1193.9 1744.4,1193.9 1744.7,1193.9 1745.0,1193.9 1745.3,1193.9 1745.6,1193.9 1745.8,1193.8 1746.1,1193.8 1746.4,1193.8 1746.7,1193.8 1747.0,1193.8 1747.3,1193.7 1747.6,1193.7 1747.9,1193.7 1748.2,1193.7 1748.5,1193.6 1748.8,1193.6 1749.1,1193.6 1749.4,1193.5 1749.7,1193.5 1750.0,1193.4 1750.3,1193.4 1750.6,1193.3 1750.9,1193.2 1751.2,1193.1 1751.5,1193.0 1751.8,1192.9 1752.1,1192.8 1752.3,1192.7 1752.6,1192.5 1752.9,1192.4 1753.2,1192.2 1753.5,1192.0 1753.8,1191.8 1754.1,1191.6 1754.4,1191.4 1754.7,1191.2 1755.0,1190.9 1755.3,1190.7 1755.6,1190.4 1755.9,1190.1 1756.2,1189.9 1756.5,1189.6 1756.8,1189.3 1757.1,1189.0 1757.4,1188.8 1757.7,1188.5 1758.0,1188.2 1758.3,1187.9 1758.6,1187.6 1758.9,1187.3 1759.1,1186.9 1759.4,1186.6 1759.7,1186.3 1760.0,1185.9 1760.3,1185.5 1760.6,1185.1 1760.9,1184.6 1761.2,1184.0 1761.5,1183.4 1761.8,1182.7 1762.1,1181.9 1762.4,1180.9 1762.7,1179.8 1763.0,1178.5 1763.3,1176.9 1763.6,1175.2 1763.9,1173.3 1764.2,1171.1 1764.5,1168.7 1764.8,1166.0 1765.1,1163.1 1765.4,1160.0 1765.7,1156.7" fill="none" stroke="#7d3a93" stroke-width="2.0" stroke-linejoin="round" clip-path="url(#clf)"/>
<path d="M1765.7,1156.7L1765.9,1153.2 1766.2,1149.5 1766.5,1145.6 1766.8,1141.5 1767.1,1137.3 1767.4,1132.9 1767.7,1128.3 1768.0,1123.6 1768.3,1118.8 1768.6,1113.9 1768.9,1109.0 1769.2,1104.2 1769.5,1099.3 1769.8,1094.6 1770.1,1090.0 1770.4,1085.6 1770.7,1081.4 1771.0,1077.4 1771.3,1073.7 1771.6,1070.3 1771.9,1067.1 1772.2,1064.2 1772.5,1061.5 1772.7,1059.1 1773.0,1056.8 1773.3,1054.7 1773.6,1052.8 1773.9,1051.0 1774.2,1049.3 1774.5,1047.7 1774.8,1046.1 1775.1,1044.7 1775.4,1043.2 1775.7,1041.8 1776.0,1040.3 1776.3,1038.9 1776.6,1037.4 1776.9,1035.9 1777.2,1034.4 1777.5,1032.8 1777.8,1031.1 1778.1,1029.4 1778.4,1027.6 1778.7,1025.7 1779.0,1023.6 1779.2,1021.5 1779.5,1019.3 1779.8,1017.0 1780.1,1014.5 1780.4,1012.0 1780.7,1009.4 1781.0,1006.6 1781.3,1003.8 1781.6,1000.9 1781.9,997.9 1782.2,994.8 1782.5,991.6 1782.8,988.3 1783.1,985.0 1783.4,981.5 1783.7,978.0 1784.0,974.4 1784.3,970.6 1784.6,966.7 1784.9,962.7 1785.2,958.5 1785.5,954.1 1785.8,949.6 1786.0,945.0 1786.3,940.2 1786.6,935.3 1786.9,930.3 1787.2,925.3 1787.5,920.4 1787.8,915.4 1788.1,910.6 1788.4,906.0 1788.7,901.6 1789.0,897.4 1789.3,893.6 1789.6,890.2 1789.9,887.1 1790.2,884.5 1790.5,882.3 1790.8,880.5 1791.1,879.1 1791.4,878.1 1791.7,877.5 1792.0,877.2 1792.3,877.2 1792.6,877.4 1792.8,877.8 1793.1,878.5 1793.4,879.3 1793.7,880.3 1794.0,881.4 1794.3,882.6 1794.6,883.9 1794.9,885.4 1795.2,886.9 1795.5,888.6 1795.8,890.4 1796.1,892.4 1796.4,894.5 1796.7,896.8 1797.0,899.3 1797.3,902.1 1797.6,905.0 1797.9,908.1 1798.2,911.5 1798.5,915.1 1798.8,918.9 1799.1,922.9 1799.4,927.0 1799.6,931.4 1799.9,935.8 1800.2,940.4 1800.5,945.1 1800.8,949.9 1801.1,954.7 1801.4,959.6 1801.7,964.4 1802.0,969.3 1802.3,974.3 1802.6,979.2 1802.9,984.2 1803.2,989.2 1803.5,994.2 1803.8,999.3 1804.1,1004.4 1804.4,1009.5 1804.7,1014.7 1805.0,1019.9 1805.3,1025.2 1805.6,1030.5 1805.9,1035.8 1806.2,1041.2 1806.4,1046.5 1806.7,1051.8 1807.0,1057.1 1807.3,1062.4 1807.6,1067.6 1807.9,1072.7 1808.2,1077.8 1808.5,1082.7 1808.8,1087.6 1809.1,1092.3 1809.4,1097.0 1809.7,1101.5 1810.0,1105.8 1810.3,1110.1 1810.6,1114.2 1810.9,1118.2 1811.2,1122.1 1811.5,1125.9 1811.8,1129.7 1812.1,1133.3 1812.4,1136.9 1812.7,1140.4 1812.9,1143.9 1813.2,1147.3 1813.5,1150.6 1813.8,1153.9 1814.1,1157.1 1814.4,1160.3 1814.7,1163.3 1815.0,1166.2 1815.3,1169.0 1815.6,1171.6 1815.9,1174.2 1816.2,1176.5 1816.5,1178.7 1816.8,1180.7 1817.1,1182.5 1817.4,1184.1 1817.7,1185.5 1818.0,1186.7 1818.3,1187.7 1818.6,1188.6 1818.9,1189.3 1819.2,1189.9 1819.5,1190.3 1819.7,1190.6 1820.0,1190.9 1820.3,1191.1 1820.6,1191.2 1820.9,1191.3 1821.2,1191.3 1821.5,1191.4 1821.8,1191.4 1822.1,1191.4 1822.4,1191.4 1822.7,1191.4 1823.0,1191.4 1823.3,1191.4 1823.6,1191.4 1823.9,1191.4 1824.2,1191.4 1824.5,1191.4 1824.8,1191.4 1825.1,1191.4 1825.4,1191.4 1825.7,1191.4 1826.0,1191.4 1826.3,1191.4 1826.5,1191.4 1826.8,1191.4 1827.1,1191.4 1827.4,1191.4 1827.7,1191.3 1828.0,1191.3 1828.3,1191.3 1828.6,1191.2 1828.9,1191.2 1829.2,1191.1 1829.5,1191.0 1829.8,1191.0 1830.1,1190.9 1830.4,1190.8 1830.7,1190.7 1831.0,1190.6 1831.3,1190.5 1831.6,1190.4 1831.9,1190.3 1832.2,1190.2 1832.5,1190.1 1832.8,1190.0 1833.1,1189.9 1833.3,1189.9 1833.6,1189.8 1833.9,1189.7 1834.2,1189.7 1834.5,1189.6 1834.8,1189.6 1835.1,1189.5 1835.4,1189.5 1835.7,1189.5 1836.0,1189.5 1836.3,1189.5 1836.6,1189.5 1836.9,1189.5 1837.2,1189.5 1837.5,1189.4 1837.8,1189.4 1838.1,1189.4 1838.4,1189.4 1838.7,1189.4 1839.0,1189.4 1839.3,1189.4 1839.6,1189.4 1839.8,1189.4 1840.1,1189.4 1840.4,1189.4 1840.7,1189.4 1841.0,1189.4 1841.3,1189.4 1841.6,1189.4 1841.9,1189.4 1842.2,1189.4 1842.5,1189.4 1842.8,1189.4 1843.1,1189.4 1843.4,1189.4 1843.7,1189.4 1844.0,1189.4 1844.3,1189.4 1844.6,1189.4 1844.9,1189.4 1845.2,1189.4 1845.5,1189.4 1845.8,1189.4 1846.1,1189.4 1846.4,1189.4 1846.6,1189.4 1846.9,1189.4 1847.2,1189.4 1847.5,1189.4 1847.8,1189.3 1848.1,1189.3 1848.4,1189.3 1848.7,1189.2 1849.0,1189.2 1849.3,1189.1 1849.6,1189.0 1849.9,1188.9 1850.2,1188.9 1850.5,1188.7 1850.8,1188.6 1851.1,1188.5 1851.4,1188.4 1851.7,1188.2 1852.0,1188.1 1852.3,1187.9 1852.6,1187.7 1852.9,1187.6 1853.2,1187.4 1853.4,1187.2 1853.7,1187.0 1854.0,1186.8 1854.3,1186.5 1854.6,1186.3 1854.9,1186.0 1855.2,1185.7 1855.5,1185.4 1855.8,1185.1 1856.1,1184.7 1856.4,1184.3 1856.7,1183.8 1857.0,1183.4 1857.3,1182.8 1857.6,1182.3 1857.9,1181.6 1858.2,1181.0 1858.5,1180.2 1858.8,1179.5 1859.1,1178.7 1859.4,1177.8 1859.7,1176.8 1860.0,1175.8 1860.2,1174.8 1860.5,1173.6 1860.8,1172.4 1861.1,1171.1 1861.4,1169.7 1861.7,1168.2 1862.0,1166.5 1862.3,1164.7 1862.6,1162.7 1862.9,1160.6 1863.2,1158.3 1863.5,1155.9 1863.8,1153.3 1864.1,1150.5 1864.4,1147.6 1864.7,1144.6 1865.0,1141.4 1865.3,1138.2 1865.6,1134.8 1865.9,1131.4 1866.2,1128.0 1866.5,1124.4 1866.7,1120.8 1867.0,1117.2 1867.3,1113.6 1867.6,1109.9 1867.9,1106.2 1868.2,1102.4 1868.5,1098.7 1868.8,1094.8 1869.1,1091.0 1869.4,1087.1 1869.7,1083.2 1870.0,1079.2 1870.3,1075.3 1870.6,1071.3 1870.9,1067.4 1871.2,1063.4 1871.5,1059.6 1871.8,1055.8 1872.1,1052.1 1872.4,1048.4 1872.7,1044.9 1873.0,1041.5 1873.3,1038.2 1873.5,1035.0 1873.8,1032.0 1874.1,1029.0 1874.4,1026.2 1874.7,1023.5 1875.0,1020.9 1875.3,1018.4 1875.6,1015.9 1875.9,1013.6 1876.2,1011.2 1876.5,1008.9 1876.8,1006.7 1877.1,1004.4 1877.4,1002.2 1877.7,1000.0 1878.0,997.7 1878.3,995.4 1878.6,993.0 1878.9,990.6 1879.2,988.2 1879.5,985.6 1879.8,983.0 1880.1,980.2 1880.3,977.4 1880.6,974.5 1880.9,971.4 1881.2,968.2 1881.5,965.0 1881.8,961.6 1882.1,958.1 1882.4,954.6 1882.7,950.9 1883.0,947.2 1883.3,943.5 1883.6,939.6 1883.9,935.8 1884.2,931.9 1884.5,928.0 1884.8,924.1 1885.1,920.2 1885.4,916.3 1885.7,912.5 1886.0,908.6 1886.3,904.9 1886.6,901.2 1886.9,897.6 1887.1,894.1 1887.4,890.7 1887.7,887.3 1888.0,884.2 1888.3,881.1 1888.6,878.2 1888.9,875.5 1889.2,872.9 1889.5,870.5 1889.8,868.3 1890.1,866.3 1890.4,864.6 1890.7,863.0 1891.0,861.6 1891.3,860.5 1891.6,859.5 1891.9,858.8 1892.2,858.3 1892.5,858.0 1892.8,857.9 1893.1,858.0 1893.4,858.2 1893.7,858.6 1893.9,859.1 1894.2,859.8 1894.5,860.6 1894.8,861.6 1895.1,862.6 1895.4,863.7 1895.7,865.0 1896.0,866.3 1896.3,867.8 1896.6,869.3 1896.9,870.8 1897.2,872.5 1897.5,874.2 1897.8,876.0 1898.1,877.9 1898.4,879.8 1898.7,881.8 1899.0,883.9 1899.3,886.1 1899.6,888.4 1899.9,890.8 1900.2,893.3 1900.4,896.0 1900.7,898.8 1901.0,901.9 1901.3,905.1 1901.6,908.5 1901.9,912.1 1902.2,916.0 1902.5,920.0 1902.8,924.3 1903.1,928.7 1903.4,933.3 1903.7,938.1 1904.0,943.0 1904.3,948.0 1904.6,953.2 1904.9,958.4 1905.2,963.7 1905.5,969.0 1905.8,974.3 1906.1,979.7 1906.4,985.0 1906.7,990.4 1907.0,995.6 1907.2,1000.9 1907.5,1006.1 1907.8,1011.2 1908.1,1016.3 1908.4,1021.4 1908.7,1026.5 1909.0,1031.5 1909.3,1036.5 1909.6,1041.5 1909.9,1046.5 1910.2,1051.6 1910.5,1056.6 1910.8,1061.6 1911.1,1066.6 1911.4,1071.6 1911.7,1076.6 1912.0,1081.5 1912.3,1086.3 1912.6,1091.1 1912.9,1095.8 1913.2,1100.4 1913.5,1104.9 1913.8,1109.3 1914.0,1113.5 1914.3,1117.6 1914.6,1121.4 1914.9,1125.2 1915.2,1128.7 1915.5,1132.1 1915.8,1135.3 1916.1,1138.3 1916.4,1141.2 1916.7,1143.9 1917.0,1146.5 1917.3,1149.0 1917.6,1151.4 1917.9,1153.7 1918.2,1155.9 1918.5,1158.1 1918.8,1160.1 1919.1,1162.1 1919.4,1164.1 1919.7,1165.9 1920.0,1167.7 1920.3,1169.5 1920.6,1171.1 1920.8,1172.7 1921.1,1174.2 1921.4,1175.6 1921.7,1176.9 1922.0,1178.2 1922.3,1179.3 1922.6,1180.3 1922.9,1181.2 1923.2,1182.0 1923.5,1182.7 1923.8,1183.3 1924.1,1183.8 1924.4,1184.2 1924.7,1184.6 1925.0,1184.8 1925.3,1185.0 1925.6,1185.2 1925.9,1185.3 1926.2,1185.4 1926.5,1185.5 1926.8,1185.6 1927.1,1185.6 1927.3,1185.6 1927.6,1185.7 1927.9,1185.7 1928.2,1185.7 1928.5,1185.7 1928.8,1185.7 1929.1,1185.8 1929.4,1185.8 1929.7,1185.8 1930.0,1185.8 1930.3,1185.8 1930.6,1185.8 1930.9,1185.8 1931.2,1185.9 1931.5,1185.9 1931.8,1185.9 1932.1,1185.9 1932.4,1185.9 1932.7,1185.9 1933.0,1185.9 1933.3,1185.9 1933.6,1186.0 1933.9,1186.0 1934.1,1186.0 1934.4,1186.0 1934.7,1186.0 1935.0,1186.0 1935.3,1186.0 1935.6,1186.0 1935.9,1186.0 1936.2,1186.1 1936.5,1186.1 1936.8,1186.1 1937.1,1186.1 1937.4,1186.1 1937.7,1186.1 1938.0,1186.1 1938.3,1186.1 1938.6,1186.1 1938.9,1186.1 1939.2,1186.1 1939.5,1186.1 1939.8,1186.1 1940.1,1186.1 1940.4,1186.1 1940.7,1186.2 1940.9,1186.2 1941.2,1186.2 1941.5,1186.2 1941.8,1186.2 1942.1,1186.2 1942.4,1186.2 1942.7,1186.2 1943.0,1186.2 1943.3,1186.2 1943.6,1186.2 1943.9,1186.2 1944.2,1186.2 1944.5,1186.2 1944.8,1186.2 1945.1,1186.2 1945.4,1186.2 1945.7,1186.2 1946.0,1186.2 1946.3,1186.2 1946.6,1186.2 1946.9,1186.2 1947.2,1186.2 1947.5,1186.2 1947.7,1186.2 1948.0,1186.2 1948.3,1186.2 1948.6,1186.1 1948.9,1186.1 1949.2,1186.0 1949.5,1186.0 1949.8,1185.9 1950.1,1185.8 1950.4,1185.7 1950.7,1185.6 1951.0,1185.4 1951.3,1185.2 1951.6,1185.0 1951.9,1184.8 1952.2,1184.6 1952.5,1184.3 1952.8,1184.1 1953.1,1183.8 1953.4,1183.4 1953.7,1183.1 1954.0,1182.7 1954.3,1182.4 1954.5,1182.0 1954.8,1181.5 1955.1,1181.1 1955.4,1180.6 1955.7,1180.2 1956.0,1179.7 1956.3,1179.1 1956.6,1178.6 1956.9,1178.0 1957.2,1177.4 1957.5,1176.8 1957.8,1176.1 1958.1,1175.4 1958.4,1174.6 1958.7,1173.7 1959.0,1172.8 1959.3,1171.7 1959.6,1170.5 1959.9,1169.3 1960.2,1167.8 1960.5,1166.3 1960.8,1164.6 1961.0,1162.7 1961.3,1160.8 1961.6,1158.6 1961.9,1156.4 1962.2,1154.0 1962.5,1151.5 1962.8,1148.9 1963.1,1146.2 1963.4,1143.5 1963.7,1140.6 1964.0,1137.7 1964.3,1134.6 1964.6,1131.5 1964.9,1128.3 1965.2,1125.0 1965.5,1121.7 1965.8,1118.1 1966.1,1114.5 1966.4,1110.8 1966.7,1107.0 1967.0,1103.1 1967.3,1099.1 1967.6,1095.0 1967.8,1090.9 1968.1,1086.7 1968.4,1082.6 1968.7,1078.5 1969.0,1074.4 1969.3,1070.5 1969.6,1066.6 1969.9,1062.9 1970.2,1059.3 1970.5,1055.9 1970.8,1052.6 1971.1,1049.5 1971.4,1046.6 1971.7,1043.9 1972.0,1041.3 1972.3,1038.9 1972.6,1036.7 1972.9,1034.5 1973.2,1032.5 1973.5,1030.5 1973.8,1028.6 1974.1,1026.8 1974.4,1025.0 1974.6,1023.3 1974.9,1021.5 1975.2,1019.8 1975.5,1018.1 1975.8,1016.4 1976.1,1014.6 1976.4,1012.8 1976.7,1011.0 1977.0,1009.2 1977.3,1007.3 1977.6,1005.4 1977.9,1003.5 1978.2,1001.5 1978.5,999.5 1978.8,997.5 1979.1,995.5 1979.4,993.4 1979.7,991.3 1980.0,989.2 1980.3,987.0 1980.6,984.9 1980.9,982.7 1981.2,980.4 1981.4,978.2 1981.7,975.9 1982.0,973.6 1982.3,971.2 1982.6,968.8 1982.9,966.4 1983.2,963.8 1983.5,961.3 1983.8,958.6 1984.1,955.9 1984.4,953.1 1984.7,950.1 1985.0,947.1 1985.3,943.9 1985.6,940.5 1985.9,937.0 1986.2,933.3 1986.5,929.4 1986.8,925.4 1987.1,921.2 1987.4,916.8 1987.7,912.3 1987.9,907.7 1988.2,903.1 1988.5,898.4 1988.8,893.7 1989.1,889.1 1989.4,884.6 1989.7,880.2 1990.0,876.0 1990.3,872.0 1990.6,868.3 1990.9,864.8 1991.2,861.7 1991.5,858.9 1991.8,856.5 1992.1,854.4 1992.4,852.6 1992.7,851.2 1993.0,850.1 1993.3,849.3 1993.6,848.8 1993.9,848.5 1994.2,848.3 1994.5,848.4 1994.7,848.6 1995.0,848.9 1995.3,849.4 1995.6,849.9 1995.9,850.5 1996.2,851.2 1996.5,852.0 1996.8,852.8 1997.1,853.7 1997.4,854.6 1997.7,855.6 1998.0,856.7 1998.3,857.8 1998.6,858.9 1998.9,860.1 1999.2,861.4 1999.5,862.7 1999.8,864.1 2000.1,865.6 2000.4,867.1 2000.7,868.8 2001.0,870.7 2001.3,872.6 2001.5,874.8 2001.8,877.3 2002.1,879.9 2002.4,882.8 2002.7,886.1 2003.0,889.6 2003.3,893.4 2003.6,897.6 2003.9,902.1 2004.2,906.8 2004.5,911.9 2004.8,917.2 2005.1,922.7 2005.4,928.4 2005.7,934.3 2006.0,940.4 2006.3,946.5 2006.6,952.7 2006.9,959.0 2007.2,965.3 2007.5,971.6 2007.8,977.8 2008.1,984.0 2008.3,990.1 2008.6,996.1 2008.9,1002.0 2009.2,1007.9 2009.5,1013.6 2009.8,1019.2 2010.1,1024.7 2010.4,1030.2 2010.7,1035.6 2011.0,1040.9 2011.3,1046.2 2011.6,1051.5 2011.9,1056.7 2012.2,1061.9 2012.5,1067.1 2012.8,1072.2 2013.1,1077.3 2013.4,1082.3 2013.7,1087.3 2014.0,1092.1 2014.3,1096.9 2014.6,1101.5 2014.8,1106.0 2015.1,1110.4 2015.4,1114.6 2015.7,1118.6 2016.0,1122.4 2016.3,1126.1 2016.6,1129.6 2016.9,1132.9 2017.2,1136.0 2017.5,1138.9 2017.8,1141.7 2018.1,1144.3 2018.4,1146.8 2018.7,1149.2 2019.0,1151.5 2019.3,1153.6 2019.6,1155.7 2019.9,1157.7 2020.2,1159.7 2020.5,1161.6 2020.8,1163.4 2021.1,1165.1 2021.4,1166.8 2021.6,1168.5 2021.9,1170.0 2022.2,1171.5 2022.5,1172.9 2022.8,1174.2 2023.1,1175.4 2023.4,1176.6 2023.7,1177.6 2024.0,1178.6 2024.3,1179.4 2024.6,1180.2 2024.9,1180.8 2025.2,1181.4 2025.5,1181.9 2025.8,1182.3 2026.1,1182.6 2026.4,1182.9 2026.7,1183.1 2027.0,1183.2 2027.3,1183.4 2027.6,1183.4 2027.9,1183.5 2028.2,1183.6 2028.4,1183.6 2028.7,1183.6 2029.0,1183.7 2029.3,1183.7 2029.6,1183.7 2029.9,1183.7 2030.2,1183.8 2030.5,1183.8 2030.8,1183.8 2031.1,1183.8 2031.4,1183.8 2031.7,1183.8 2032.0,1183.8 2032.3,1183.9 2032.6,1183.9 2032.9,1183.9 2033.2,1183.9 2033.5,1183.9 2033.8,1183.9 2034.1,1183.9 2034.4,1184.0 2034.7,1184.0 2035.0,1184.0 2035.2,1184.0 2035.5,1184.0 2035.8,1184.0 2036.1,1184.0 2036.4,1184.0 2036.7,1184.0 2037.0,1184.0 2037.3,1184.1 2037.6,1184.1 2037.9,1184.1 2038.2,1184.1 2038.5,1184.1 2038.8,1184.1 2039.1,1184.1 2039.4,1184.1 2039.7,1184.1 2040.0,1184.1 2040.3,1184.1 2040.6,1184.1 2040.9,1184.1 2041.2,1184.2 2041.5,1184.2 2041.8,1184.2 2042.0,1184.2 2042.3,1184.2 2042.6,1184.2 2042.9,1184.2 2043.2,1184.2 2043.5,1184.2 2043.8,1184.2 2044.1,1184.2 2044.4,1184.2 2044.7,1184.2 2045.0,1184.2 2045.3,1184.2 2045.6,1184.2 2045.9,1184.2 2046.2,1184.2 2046.5,1184.2 2046.8,1184.2 2047.1,1184.2 2047.4,1184.2 2047.7,1184.2 2048.0,1184.2 2048.3,1184.2 2048.5,1184.2 2048.8,1184.2 2049.1,1184.1 2049.4,1184.1 2049.7,1184.0 2050.0,1183.9 2050.3,1183.7 2050.6,1183.6 2050.9,1183.4 2051.2,1183.1 2051.5,1182.8 2051.8,1182.5 2052.1,1182.1 2052.4,1181.7 2052.7,1181.2 2053.0,1180.7 2053.3,1180.2 2053.6,1179.6 2053.9,1179.1 2054.2,1178.4 2054.5,1177.8 2054.8,1177.2 2055.1,1176.5 2055.3,1175.9 2055.6,1175.2 2055.9,1174.6 2056.2,1174.0 2056.5,1173.3 2056.8,1172.7 2057.1,1172.1 2057.4,1171.6 2057.7,1171.1 2058.0,1170.6 2058.3,1170.2 2058.6,1169.8" fill="none" stroke="#2a1733" stroke-width="2.0" stroke-linejoin="round" clip-path="url(#clf)"/>
<path d="M1527.10,1213.00V1207.20 M1527.10,816.30V822.10 M1650.69,1213.00V1207.20 M1650.69,816.30V822.10 M1774.28,1213.00V1207.20 M1774.28,816.30V822.10 M1897.87,1213.00V1207.20 M1897.87,816.30V822.10 M2021.46,1213.00V1207.20 M2021.46,816.30V822.10 M1526.80,1213.00H1532.60 M2058.60,1213.00H2052.80 M1526.80,1089.03H1532.60 M2058.60,1089.03H2052.80 M1526.80,965.06H1532.60 M2058.60,965.06H2052.80 M1526.80,841.09H1532.60 M2058.60,841.09H2052.80" stroke="#929292" stroke-width="1.2" fill="none"/>
<rect x="1526.80" y="816.30" width="531.80" height="396.70" fill="none" stroke="#929292" stroke-width="1.2"/>
<text x="1502.92" y="1223.08" font-size="27.40">0</text>
<text x="1487.71" y="1099.11" font-size="27.40">50</text>
<text x="1472.44" y="975.14" font-size="27.40">100</text>
<text x="1472.44" y="851.17" font-size="27.40">150</text>
<text x="1519.46" y="1247.66" font-size="27.40">0</text>
<text x="1642.71" y="1247.66" font-size="27.40">1</text>
<text x="1766.68" y="1247.66" font-size="27.40">2</text>
<text x="1890.33" y="1247.66" font-size="27.40">3</text>
<text x="2013.92" y="1247.66" font-size="27.40">4</text>
<text x="1740.22" y="1284.60" font-size="30.23" textLength="109.33" lengthAdjust="spacingAndGlyphs">Time (s)</text>
<text transform="translate(1461.20,1098.58) rotate(-90)" x="0" y="0" font-size="29.51" textLength="171.02" lengthAdjust="spacingAndGlyphs">LVP (mmHg)</text>
<text transform="translate(1750.70,940.46) rotate(-90)" x="0" y="0" font-size="24.71" textLength="111.01" lengthAdjust="spacingAndGlyphs">Triggering</text>
<text x="1773.71" y="838.80" font-size="26.02" textLength="37.45" lengthAdjust="spacingAndGlyphs">ON</text>
<text x="1814.84" y="864.60" font-size="25.29" textLength="48.89" lengthAdjust="spacingAndGlyphs">OFF</text>
<text x="1867.43" y="839.30" font-size="26.02" textLength="36.90" lengthAdjust="spacingAndGlyphs">ON</text>
<text x="1910.14" y="865.10" font-size="25.29" textLength="48.79" lengthAdjust="spacingAndGlyphs">OFF</text>
</svg>
</body></html>
